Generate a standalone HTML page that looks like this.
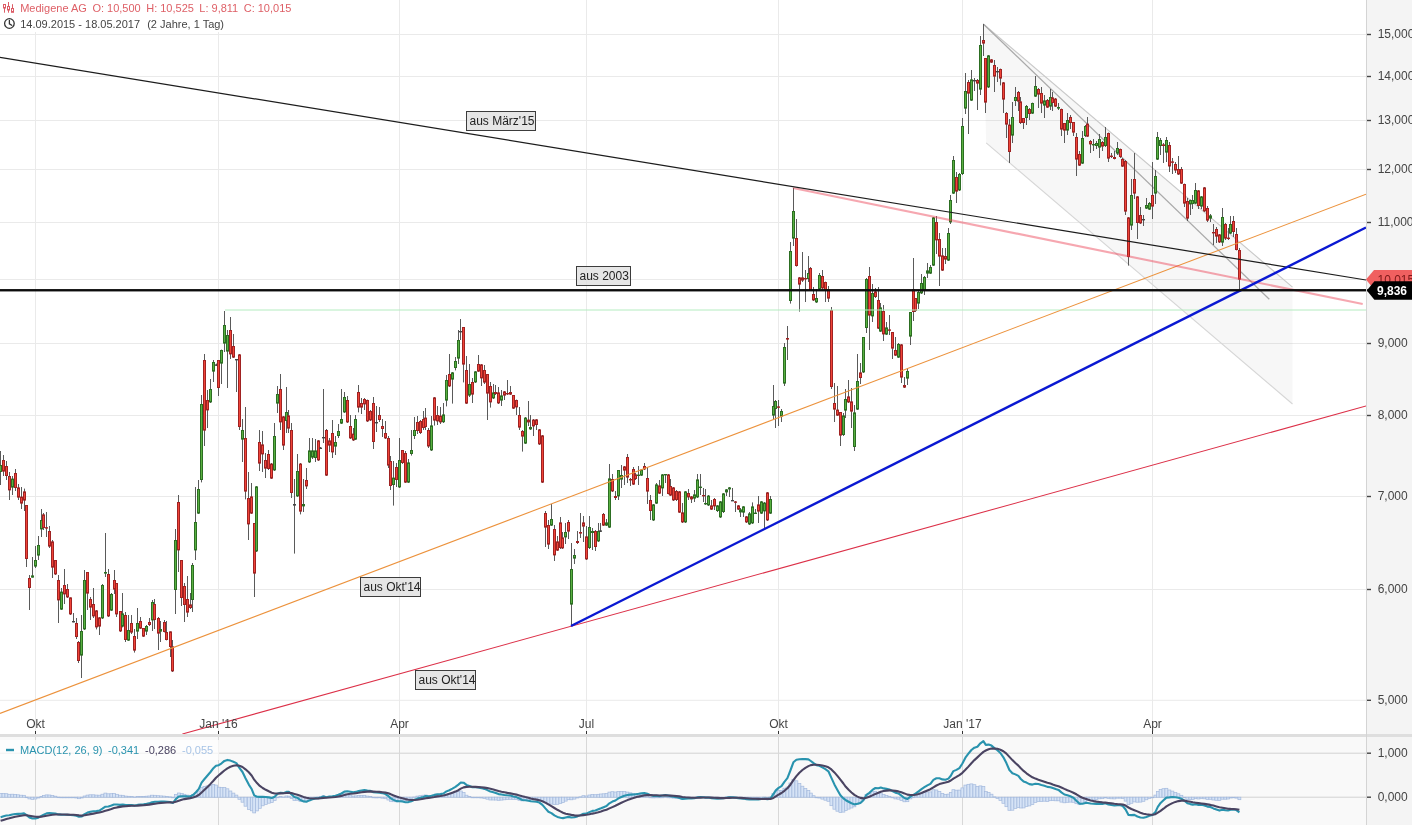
<!DOCTYPE html><html><head><meta charset="utf-8"><title>Chart</title><style>
html,body{margin:0;padding:0;background:#fff;}
body{width:1412px;height:825px;overflow:hidden;position:relative;font-family:"Liberation Sans",sans-serif;}
#wrap{position:absolute;left:0;top:0;width:1412px;height:825px;will-change:transform;}
svg{position:absolute;left:0;top:0;display:block}
text{font-family:"Liberation Sans",sans-serif;}
.t{position:absolute;white-space:nowrap;font-size:11px;line-height:12px;}
.lb{position:absolute;box-sizing:border-box;background:rgba(222,222,222,0.75);border:1px solid #3c3c3c;font-size:12px;line-height:18px;color:#222;padding:0 0 0 2.5px;white-space:nowrap;height:20px;}
</style></head><body><div id="wrap">
<svg width="1412" height="825" viewBox="0 0 1412 825">
<rect x="0" y="0" width="1412" height="825" fill="#fff"/>
<rect x="0" y="737" width="1366" height="88" fill="#f9f9f9"/>
<rect x="1366" y="0" width="46" height="825" fill="#f4f4f4"/>
<line x1="35.5" y1="0" x2="35.5" y2="825" stroke="#eaeaea" stroke-width="1"/>
<line x1="218.5" y1="0" x2="218.5" y2="825" stroke="#eaeaea" stroke-width="1"/>
<line x1="399.5" y1="0" x2="399.5" y2="825" stroke="#eaeaea" stroke-width="1"/>
<line x1="586.5" y1="0" x2="586.5" y2="825" stroke="#eaeaea" stroke-width="1"/>
<line x1="778.5" y1="0" x2="778.5" y2="825" stroke="#eaeaea" stroke-width="1"/>
<line x1="962.5" y1="0" x2="962.5" y2="825" stroke="#eaeaea" stroke-width="1"/>
<line x1="1152.5" y1="0" x2="1152.5" y2="825" stroke="#eaeaea" stroke-width="1"/>
<line x1="0" y1="34.5" x2="1366" y2="34.5" stroke="#eaeaea" stroke-width="1"/>
<line x1="0" y1="76.5" x2="1366" y2="76.5" stroke="#eaeaea" stroke-width="1"/>
<line x1="0" y1="120.5" x2="1366" y2="120.5" stroke="#eaeaea" stroke-width="1"/>
<line x1="0" y1="169.5" x2="1366" y2="169.5" stroke="#eaeaea" stroke-width="1"/>
<line x1="0" y1="222.5" x2="1366" y2="222.5" stroke="#eaeaea" stroke-width="1"/>
<line x1="0" y1="279.5" x2="1366" y2="279.5" stroke="#eaeaea" stroke-width="1"/>
<line x1="0" y1="343.5" x2="1366" y2="343.5" stroke="#eaeaea" stroke-width="1"/>
<line x1="0" y1="415.5" x2="1366" y2="415.5" stroke="#eaeaea" stroke-width="1"/>
<line x1="0" y1="496.5" x2="1366" y2="496.5" stroke="#eaeaea" stroke-width="1"/>
<line x1="0" y1="589.5" x2="1366" y2="589.5" stroke="#eaeaea" stroke-width="1"/>
<line x1="0" y1="700.3" x2="1366" y2="700.3" stroke="#eaeaea" stroke-width="1"/>
<line x1="0" y1="753.2" x2="1366" y2="753.2" stroke="#d2d2d2" stroke-width="1"/>
<line x1="0" y1="797.2" x2="1366" y2="797.2" stroke="#d2d2d2" stroke-width="1"/>
<line x1="35.5" y1="737" x2="35.5" y2="825" stroke="#d8d8d8" stroke-width="1"/>
<line x1="218.5" y1="737" x2="218.5" y2="825" stroke="#d8d8d8" stroke-width="1"/>
<line x1="399.5" y1="737" x2="399.5" y2="825" stroke="#d8d8d8" stroke-width="1"/>
<line x1="586.5" y1="737" x2="586.5" y2="825" stroke="#d8d8d8" stroke-width="1"/>
<line x1="778.5" y1="737" x2="778.5" y2="825" stroke="#d8d8d8" stroke-width="1"/>
<line x1="962.5" y1="737" x2="962.5" y2="825" stroke="#d8d8d8" stroke-width="1"/>
<line x1="1152.5" y1="737" x2="1152.5" y2="825" stroke="#d8d8d8" stroke-width="1"/>
<defs><clipPath id="cm"><rect x="0" y="0" width="1366" height="734"/></clipPath><clipPath id="cd"><rect x="0" y="737" width="1366" height="88"/></clipPath></defs>
<g clip-path="url(#cm)">
<polygon points="983.3,24 1292.5,287.2 1292.5,404 986.2,142.9" fill="#808080" fill-opacity="0.065"/>
<line x1="983.3" y1="24" x2="1292.5" y2="287.2" stroke="#c8c8c8" stroke-width="1.1"/>
<line x1="986.2" y1="142.9" x2="1292.5" y2="404" stroke="#d6d6d6" stroke-width="1.1"/>
<line x1="983.3" y1="24" x2="1269.3" y2="299.2" stroke="#aaaaaa" stroke-width="1.25"/>
<line x1="0.5" y1="451.0" x2="0.5" y2="485.0" stroke="#5a5a5a" stroke-width="1"/>
<rect x="-0.5" y="465.5" width="2" height="6.0" fill="#58b040" stroke="#2c6e22" stroke-width="1"/>
<line x1="3.5" y1="455.0" x2="3.5" y2="476.0" stroke="#5a5a5a" stroke-width="1"/>
<rect x="2.5" y="460.5" width="2" height="10.6" fill="#f04438" stroke="#a02222" stroke-width="1"/>
<line x1="6.5" y1="461.0" x2="6.5" y2="480.0" stroke="#5a5a5a" stroke-width="1"/>
<rect x="5.5" y="466.5" width="2" height="9.0" fill="#f04438" stroke="#a02222" stroke-width="1"/>
<line x1="9.5" y1="472.0" x2="9.5" y2="500.0" stroke="#5a5a5a" stroke-width="1"/>
<rect x="8.5" y="476.5" width="2" height="13.4" fill="#f04438" stroke="#a02222" stroke-width="1"/>
<line x1="12.5" y1="476.0" x2="12.5" y2="495.0" stroke="#5a5a5a" stroke-width="1"/>
<rect x="11.5" y="479.1" width="2" height="8.0" fill="#58b040" stroke="#2c6e22" stroke-width="1"/>
<line x1="15.5" y1="469.0" x2="15.5" y2="491.0" stroke="#5a5a5a" stroke-width="1"/>
<rect x="14.5" y="473.5" width="2" height="14.0" fill="#f04438" stroke="#a02222" stroke-width="1"/>
<line x1="18.5" y1="484.0" x2="18.5" y2="500.0" stroke="#5a5a5a" stroke-width="1"/>
<rect x="17.5" y="487.9" width="2" height="9.2" fill="#f04438" stroke="#a02222" stroke-width="1"/>
<line x1="21.5" y1="487.0" x2="21.5" y2="509.0" stroke="#5a5a5a" stroke-width="1"/>
<rect x="20.5" y="497.1" width="2" height="6.0" fill="#f04438" stroke="#a02222" stroke-width="1"/>
<line x1="24.5" y1="488.6" x2="24.5" y2="511.0" stroke="#5a5a5a" stroke-width="1"/>
<rect x="23.5" y="491.9" width="2" height="8.2" fill="#f04438" stroke="#a02222" stroke-width="1"/>
<line x1="26.5" y1="505.0" x2="26.5" y2="567.0" stroke="#5a5a5a" stroke-width="1"/>
<rect x="25.5" y="505.5" width="2" height="53.0" fill="#f04438" stroke="#a02222" stroke-width="1"/>
<line x1="29.5" y1="575.0" x2="29.5" y2="610.0" stroke="#5a5a5a" stroke-width="1"/>
<rect x="28.5" y="578.5" width="2" height="9.0" fill="#f04438" stroke="#a02222" stroke-width="1"/>
<line x1="32.5" y1="557.0" x2="32.5" y2="577.6" stroke="#5a5a5a" stroke-width="1"/>
<rect x="31.5" y="575.9" width="2" height="1.2" fill="#58b040" stroke="#2c6e22" stroke-width="1"/>
<line x1="35.5" y1="546.0" x2="35.5" y2="568.0" stroke="#5a5a5a" stroke-width="1"/>
<rect x="34.5" y="560.5" width="2" height="5.6" fill="#58b040" stroke="#2c6e22" stroke-width="1"/>
<line x1="38.5" y1="536.0" x2="38.5" y2="560.0" stroke="#5a5a5a" stroke-width="1"/>
<rect x="37.5" y="545.5" width="2" height="9.6" fill="#58b040" stroke="#2c6e22" stroke-width="1"/>
<line x1="41.5" y1="509.0" x2="41.5" y2="537.0" stroke="#5a5a5a" stroke-width="1"/>
<rect x="40.5" y="520.5" width="2" height="8.4" fill="#58b040" stroke="#2c6e22" stroke-width="1"/>
<line x1="43.5" y1="513.0" x2="43.5" y2="530.0" stroke="#5a5a5a" stroke-width="1"/>
<rect x="42.5" y="514.9" width="2" height="12.6" fill="#f04438" stroke="#a02222" stroke-width="1"/>
<line x1="46.5" y1="512.0" x2="46.5" y2="537.0" stroke="#5a5a5a" stroke-width="1"/>
<rect x="45.5" y="527.7" width="2" height="0.4" fill="#f04438" stroke="#a02222" stroke-width="1"/>
<line x1="49.5" y1="526.0" x2="49.5" y2="548.0" stroke="#5a5a5a" stroke-width="1"/>
<rect x="48.5" y="531.5" width="2" height="14.6" fill="#f04438" stroke="#a02222" stroke-width="1"/>
<line x1="52.5" y1="540.0" x2="52.5" y2="578.0" stroke="#5a5a5a" stroke-width="1"/>
<rect x="51.5" y="541.9" width="2" height="25.2" fill="#f04438" stroke="#a02222" stroke-width="1"/>
<line x1="55.5" y1="560.0" x2="55.5" y2="575.0" stroke="#5a5a5a" stroke-width="1"/>
<rect x="54.5" y="560.5" width="2" height="13.4" fill="#f04438" stroke="#a02222" stroke-width="1"/>
<line x1="58.5" y1="575.0" x2="58.5" y2="623.0" stroke="#5a5a5a" stroke-width="1"/>
<rect x="57.5" y="580.5" width="2" height="19.4" fill="#f04438" stroke="#a02222" stroke-width="1"/>
<line x1="61.5" y1="588.0" x2="61.5" y2="610.0" stroke="#5a5a5a" stroke-width="1"/>
<rect x="60.5" y="592.1" width="2" height="17.0" fill="#58b040" stroke="#2c6e22" stroke-width="1"/>
<line x1="64.5" y1="569.0" x2="64.5" y2="604.0" stroke="#5a5a5a" stroke-width="1"/>
<rect x="63.5" y="585.5" width="2" height="8.4" fill="#f04438" stroke="#a02222" stroke-width="1"/>
<line x1="67.5" y1="584.0" x2="67.5" y2="598.0" stroke="#5a5a5a" stroke-width="1"/>
<rect x="66.5" y="589.5" width="2" height="7.4" fill="#f04438" stroke="#a02222" stroke-width="1"/>
<line x1="70.5" y1="597.4" x2="70.5" y2="615.0" stroke="#5a5a5a" stroke-width="1"/>
<rect x="69.5" y="597.9" width="2" height="16.0" fill="#f04438" stroke="#a02222" stroke-width="1"/>
<line x1="73.5" y1="613.0" x2="73.5" y2="622.4" stroke="#5a5a5a" stroke-width="1"/>
<rect x="72.5" y="621.5" width="2" height="0.4" fill="#555" stroke="#444" stroke-width="1"/>
<line x1="76.5" y1="618.0" x2="76.5" y2="639.0" stroke="#5a5a5a" stroke-width="1"/>
<rect x="75.5" y="623.5" width="2" height="13.0" fill="#f04438" stroke="#a02222" stroke-width="1"/>
<line x1="78.5" y1="641.0" x2="78.5" y2="663.0" stroke="#5a5a5a" stroke-width="1"/>
<rect x="77.5" y="642.5" width="2" height="18.0" fill="#f04438" stroke="#a02222" stroke-width="1"/>
<line x1="81.5" y1="615.0" x2="81.5" y2="678.0" stroke="#5a5a5a" stroke-width="1"/>
<rect x="80.5" y="631.5" width="2" height="23.6" fill="#58b040" stroke="#2c6e22" stroke-width="1"/>
<line x1="84.5" y1="570.0" x2="84.5" y2="630.0" stroke="#5a5a5a" stroke-width="1"/>
<rect x="83.5" y="580.5" width="2" height="48.4" fill="#58b040" stroke="#2c6e22" stroke-width="1"/>
<line x1="87.5" y1="572.0" x2="87.5" y2="610.0" stroke="#5a5a5a" stroke-width="1"/>
<rect x="86.5" y="572.5" width="2" height="20.6" fill="#f04438" stroke="#a02222" stroke-width="1"/>
<line x1="90.5" y1="597.0" x2="90.5" y2="620.0" stroke="#5a5a5a" stroke-width="1"/>
<rect x="89.5" y="599.5" width="2" height="7.6" fill="#f04438" stroke="#a02222" stroke-width="1"/>
<line x1="93.5" y1="588.0" x2="93.5" y2="618.0" stroke="#5a5a5a" stroke-width="1"/>
<rect x="92.5" y="604.5" width="2" height="11.4" fill="#f04438" stroke="#a02222" stroke-width="1"/>
<line x1="96.5" y1="610.0" x2="96.5" y2="629.4" stroke="#5a5a5a" stroke-width="1"/>
<rect x="95.5" y="610.9" width="2" height="16.0" fill="#f04438" stroke="#a02222" stroke-width="1"/>
<line x1="99.5" y1="617.0" x2="99.5" y2="635.0" stroke="#5a5a5a" stroke-width="1"/>
<rect x="98.5" y="617.9" width="2" height="8.2" fill="#f04438" stroke="#a02222" stroke-width="1"/>
<line x1="102.5" y1="584.0" x2="102.5" y2="619.0" stroke="#5a5a5a" stroke-width="1"/>
<rect x="101.5" y="585.5" width="2" height="32.4" fill="#58b040" stroke="#2c6e22" stroke-width="1"/>
<line x1="105.5" y1="533.0" x2="105.5" y2="577.0" stroke="#5a5a5a" stroke-width="1"/>
<rect x="104.5" y="572.5" width="2" height="0.6" fill="#58b040" stroke="#2c6e22" stroke-width="1"/>
<line x1="108.5" y1="569.0" x2="108.5" y2="617.0" stroke="#5a5a5a" stroke-width="1"/>
<rect x="107.5" y="574.5" width="2" height="41.4" fill="#f04438" stroke="#a02222" stroke-width="1"/>
<line x1="111.5" y1="593.0" x2="111.5" y2="611.0" stroke="#5a5a5a" stroke-width="1"/>
<rect x="110.5" y="594.5" width="2" height="15.6" fill="#58b040" stroke="#2c6e22" stroke-width="1"/>
<line x1="114.5" y1="570.0" x2="114.5" y2="594.0" stroke="#5a5a5a" stroke-width="1"/>
<rect x="113.5" y="580.5" width="2" height="8.6" fill="#f04438" stroke="#a02222" stroke-width="1"/>
<line x1="116.5" y1="583.0" x2="116.5" y2="617.0" stroke="#5a5a5a" stroke-width="1"/>
<rect x="115.5" y="583.5" width="2" height="30.4" fill="#f04438" stroke="#a02222" stroke-width="1"/>
<line x1="120.5" y1="611.0" x2="120.5" y2="632.0" stroke="#5a5a5a" stroke-width="1"/>
<rect x="119.5" y="611.5" width="2" height="19.4" fill="#f04438" stroke="#a02222" stroke-width="1"/>
<line x1="122.5" y1="593.0" x2="122.5" y2="627.4" stroke="#5a5a5a" stroke-width="1"/>
<rect x="121.5" y="613.9" width="2" height="12.2" fill="#58b040" stroke="#2c6e22" stroke-width="1"/>
<line x1="125.5" y1="612.0" x2="125.5" y2="642.0" stroke="#5a5a5a" stroke-width="1"/>
<rect x="124.5" y="615.5" width="2" height="24.0" fill="#f04438" stroke="#a02222" stroke-width="1"/>
<line x1="128.5" y1="615.0" x2="128.5" y2="641.0" stroke="#5a5a5a" stroke-width="1"/>
<rect x="127.5" y="630.5" width="2" height="9.6" fill="#58b040" stroke="#2c6e22" stroke-width="1"/>
<line x1="131.5" y1="615.0" x2="131.5" y2="634.0" stroke="#5a5a5a" stroke-width="1"/>
<rect x="130.5" y="623.5" width="2" height="8.6" fill="#f04438" stroke="#a02222" stroke-width="1"/>
<line x1="134.5" y1="629.0" x2="134.5" y2="652.6" stroke="#5a5a5a" stroke-width="1"/>
<rect x="133.5" y="636.5" width="2" height="13.6" fill="#f04438" stroke="#a02222" stroke-width="1"/>
<line x1="137.5" y1="608.0" x2="137.5" y2="639.0" stroke="#5a5a5a" stroke-width="1"/>
<rect x="136.5" y="623.5" width="2" height="7.6" fill="#58b040" stroke="#2c6e22" stroke-width="1"/>
<line x1="140.5" y1="617.0" x2="140.5" y2="629.0" stroke="#5a5a5a" stroke-width="1"/>
<rect x="139.5" y="621.5" width="2" height="6.6" fill="#f04438" stroke="#a02222" stroke-width="1"/>
<line x1="143.5" y1="628.0" x2="143.5" y2="637.0" stroke="#5a5a5a" stroke-width="1"/>
<rect x="142.5" y="628.5" width="2" height="7.6" fill="#f04438" stroke="#a02222" stroke-width="1"/>
<line x1="146.5" y1="625.0" x2="146.5" y2="635.0" stroke="#5a5a5a" stroke-width="1"/>
<rect x="145.5" y="626.5" width="2" height="4.6" fill="#58b040" stroke="#2c6e22" stroke-width="1"/>
<line x1="149.5" y1="618.0" x2="149.5" y2="626.0" stroke="#5a5a5a" stroke-width="1"/>
<rect x="148.5" y="622.5" width="2" height="2.0" fill="#f04438" stroke="#a02222" stroke-width="1"/>
<line x1="152.5" y1="600.0" x2="152.5" y2="631.0" stroke="#5a5a5a" stroke-width="1"/>
<rect x="151.5" y="602.5" width="2" height="17.4" fill="#58b040" stroke="#2c6e22" stroke-width="1"/>
<line x1="154.5" y1="599.0" x2="154.5" y2="629.0" stroke="#5a5a5a" stroke-width="1"/>
<rect x="153.5" y="604.5" width="2" height="15.0" fill="#f04438" stroke="#a02222" stroke-width="1"/>
<line x1="158.5" y1="617.0" x2="158.5" y2="650.0" stroke="#5a5a5a" stroke-width="1"/>
<rect x="157.5" y="618.5" width="2" height="14.6" fill="#f04438" stroke="#a02222" stroke-width="1"/>
<line x1="160.5" y1="621.0" x2="160.5" y2="642.0" stroke="#5a5a5a" stroke-width="1"/>
<rect x="159.5" y="629.5" width="2" height="1.6" fill="#58b040" stroke="#2c6e22" stroke-width="1"/>
<line x1="164.5" y1="620.0" x2="164.5" y2="632.4" stroke="#5a5a5a" stroke-width="1"/>
<rect x="163.5" y="622.5" width="2" height="9.0" fill="#f04438" stroke="#a02222" stroke-width="1"/>
<line x1="166.5" y1="621.0" x2="166.5" y2="640.4" stroke="#5a5a5a" stroke-width="1"/>
<rect x="165.5" y="632.5" width="2" height="7.0" fill="#f04438" stroke="#a02222" stroke-width="1"/>
<line x1="170.5" y1="631.4" x2="170.5" y2="657.0" stroke="#5a5a5a" stroke-width="1"/>
<rect x="169.5" y="631.9" width="2" height="14.6" fill="#f04438" stroke="#a02222" stroke-width="1"/>
<line x1="172.5" y1="640.0" x2="172.5" y2="672.0" stroke="#5a5a5a" stroke-width="1"/>
<rect x="171.5" y="646.9" width="2" height="24.0" fill="#f04438" stroke="#a02222" stroke-width="1"/>
<line x1="175.5" y1="529.0" x2="175.5" y2="614.0" stroke="#5a5a5a" stroke-width="1"/>
<rect x="174.5" y="540.5" width="2" height="49.0" fill="#58b040" stroke="#2c6e22" stroke-width="1"/>
<line x1="178.5" y1="495.0" x2="178.5" y2="572.0" stroke="#5a5a5a" stroke-width="1"/>
<rect x="177.5" y="502.5" width="2" height="47.4" fill="#f04438" stroke="#a02222" stroke-width="1"/>
<line x1="181.5" y1="560.0" x2="181.5" y2="606.0" stroke="#5a5a5a" stroke-width="1"/>
<rect x="180.5" y="560.5" width="2" height="37.0" fill="#f04438" stroke="#a02222" stroke-width="1"/>
<line x1="184.5" y1="583.0" x2="184.5" y2="622.0" stroke="#5a5a5a" stroke-width="1"/>
<rect x="183.5" y="586.5" width="2" height="18.0" fill="#f04438" stroke="#a02222" stroke-width="1"/>
<line x1="187.5" y1="576.0" x2="187.5" y2="617.0" stroke="#5a5a5a" stroke-width="1"/>
<rect x="186.5" y="599.5" width="2" height="12.6" fill="#f04438" stroke="#a02222" stroke-width="1"/>
<line x1="190.5" y1="593.0" x2="190.5" y2="609.0" stroke="#5a5a5a" stroke-width="1"/>
<rect x="189.5" y="604.9" width="2" height="2.6" fill="#f04438" stroke="#a02222" stroke-width="1"/>
<line x1="192.5" y1="563.0" x2="192.5" y2="612.0" stroke="#5a5a5a" stroke-width="1"/>
<rect x="191.5" y="565.5" width="2" height="34.0" fill="#58b040" stroke="#2c6e22" stroke-width="1"/>
<line x1="195.5" y1="487.0" x2="195.5" y2="560.0" stroke="#5a5a5a" stroke-width="1"/>
<rect x="194.5" y="522.5" width="2" height="27.4" fill="#58b040" stroke="#2c6e22" stroke-width="1"/>
<line x1="198.5" y1="480.0" x2="198.5" y2="514.0" stroke="#5a5a5a" stroke-width="1"/>
<rect x="197.5" y="489.5" width="2" height="23.6" fill="#58b040" stroke="#2c6e22" stroke-width="1"/>
<line x1="201.5" y1="395.0" x2="201.5" y2="482.4" stroke="#5a5a5a" stroke-width="1"/>
<rect x="200.5" y="404.5" width="2" height="75.0" fill="#58b040" stroke="#2c6e22" stroke-width="1"/>
<line x1="204.5" y1="354.0" x2="204.5" y2="446.0" stroke="#5a5a5a" stroke-width="1"/>
<rect x="203.5" y="360.5" width="2" height="69.6" fill="#f04438" stroke="#a02222" stroke-width="1"/>
<line x1="207.5" y1="390.0" x2="207.5" y2="428.0" stroke="#5a5a5a" stroke-width="1"/>
<rect x="206.5" y="400.5" width="2" height="9.4" fill="#f04438" stroke="#a02222" stroke-width="1"/>
<line x1="210.5" y1="379.0" x2="210.5" y2="403.0" stroke="#5a5a5a" stroke-width="1"/>
<rect x="209.5" y="389.5" width="2" height="12.4" fill="#58b040" stroke="#2c6e22" stroke-width="1"/>
<line x1="213.5" y1="360.0" x2="213.5" y2="382.0" stroke="#5a5a5a" stroke-width="1"/>
<rect x="212.5" y="362.5" width="2" height="8.6" fill="#58b040" stroke="#2c6e22" stroke-width="1"/>
<line x1="216.5" y1="363.6" x2="216.5" y2="366.0" stroke="#5a5a5a" stroke-width="1"/>
<rect x="215.5" y="364.9" width="2" height="0.4" fill="#555" stroke="#444" stroke-width="1"/>
<line x1="218.5" y1="360.0" x2="218.5" y2="396.0" stroke="#5a5a5a" stroke-width="1"/>
<rect x="217.5" y="360.5" width="2" height="27.0" fill="#f04438" stroke="#a02222" stroke-width="1"/>
<line x1="221.5" y1="349.6" x2="221.5" y2="384.0" stroke="#5a5a5a" stroke-width="1"/>
<rect x="220.5" y="350.5" width="2" height="12.6" fill="#58b040" stroke="#2c6e22" stroke-width="1"/>
<line x1="224.5" y1="311.0" x2="224.5" y2="352.0" stroke="#5a5a5a" stroke-width="1"/>
<rect x="223.5" y="325.5" width="2" height="17.6" fill="#58b040" stroke="#2c6e22" stroke-width="1"/>
<line x1="227.5" y1="330.0" x2="227.5" y2="388.0" stroke="#5a5a5a" stroke-width="1"/>
<rect x="226.5" y="335.5" width="2" height="15.6" fill="#58b040" stroke="#2c6e22" stroke-width="1"/>
<line x1="230.5" y1="317.0" x2="230.5" y2="359.0" stroke="#5a5a5a" stroke-width="1"/>
<rect x="229.5" y="330.5" width="2" height="23.4" fill="#f04438" stroke="#a02222" stroke-width="1"/>
<line x1="233.5" y1="334.0" x2="233.5" y2="358.0" stroke="#5a5a5a" stroke-width="1"/>
<rect x="232.5" y="346.5" width="2" height="10.6" fill="#f04438" stroke="#a02222" stroke-width="1"/>
<line x1="236.5" y1="359.0" x2="236.5" y2="392.0" stroke="#5a5a5a" stroke-width="1"/>
<rect x="235.5" y="359.5" width="2" height="0.4" fill="#555" stroke="#444" stroke-width="1"/>
<line x1="239.5" y1="354.0" x2="239.5" y2="430.0" stroke="#5a5a5a" stroke-width="1"/>
<rect x="238.5" y="354.9" width="2" height="71.6" fill="#f04438" stroke="#a02222" stroke-width="1"/>
<line x1="242.5" y1="419.0" x2="242.5" y2="462.0" stroke="#5a5a5a" stroke-width="1"/>
<rect x="241.5" y="430.5" width="2" height="8.6" fill="#58b040" stroke="#2c6e22" stroke-width="1"/>
<line x1="245.5" y1="407.0" x2="245.5" y2="499.4" stroke="#5a5a5a" stroke-width="1"/>
<rect x="244.5" y="438.5" width="2" height="52.6" fill="#f04438" stroke="#a02222" stroke-width="1"/>
<line x1="248.5" y1="472.0" x2="248.5" y2="540.0" stroke="#5a5a5a" stroke-width="1"/>
<rect x="247.5" y="498.5" width="2" height="25.4" fill="#f04438" stroke="#a02222" stroke-width="1"/>
<line x1="251.5" y1="483.0" x2="251.5" y2="514.0" stroke="#5a5a5a" stroke-width="1"/>
<rect x="250.5" y="496.9" width="2" height="16.2" fill="#f04438" stroke="#a02222" stroke-width="1"/>
<line x1="254.5" y1="523.0" x2="254.5" y2="597.0" stroke="#5a5a5a" stroke-width="1"/>
<rect x="253.5" y="523.5" width="2" height="49.6" fill="#f04438" stroke="#a02222" stroke-width="1"/>
<line x1="256.5" y1="486.0" x2="256.5" y2="552.0" stroke="#5a5a5a" stroke-width="1"/>
<rect x="255.5" y="486.9" width="2" height="64.0" fill="#58b040" stroke="#2c6e22" stroke-width="1"/>
<line x1="259.5" y1="430.0" x2="259.5" y2="471.0" stroke="#5a5a5a" stroke-width="1"/>
<rect x="258.5" y="442.5" width="2" height="20.6" fill="#f04438" stroke="#a02222" stroke-width="1"/>
<line x1="262.5" y1="431.0" x2="262.5" y2="472.0" stroke="#5a5a5a" stroke-width="1"/>
<rect x="261.5" y="444.9" width="2" height="9.0" fill="#f04438" stroke="#a02222" stroke-width="1"/>
<line x1="265.5" y1="453.0" x2="265.5" y2="478.0" stroke="#5a5a5a" stroke-width="1"/>
<rect x="264.5" y="460.5" width="2" height="7.6" fill="#f04438" stroke="#a02222" stroke-width="1"/>
<line x1="268.5" y1="450.0" x2="268.5" y2="470.0" stroke="#5a5a5a" stroke-width="1"/>
<rect x="267.5" y="454.5" width="2" height="14.0" fill="#f04438" stroke="#a02222" stroke-width="1"/>
<line x1="271.5" y1="463.0" x2="271.5" y2="479.0" stroke="#5a5a5a" stroke-width="1"/>
<rect x="270.5" y="464.1" width="2" height="14.0" fill="#f04438" stroke="#a02222" stroke-width="1"/>
<line x1="274.5" y1="423.0" x2="274.5" y2="471.0" stroke="#5a5a5a" stroke-width="1"/>
<rect x="273.5" y="436.5" width="2" height="33.4" fill="#58b040" stroke="#2c6e22" stroke-width="1"/>
<line x1="277.5" y1="386.0" x2="277.5" y2="413.0" stroke="#5a5a5a" stroke-width="1"/>
<rect x="276.5" y="394.5" width="2" height="8.6" fill="#58b040" stroke="#2c6e22" stroke-width="1"/>
<line x1="280.5" y1="374.0" x2="280.5" y2="430.0" stroke="#5a5a5a" stroke-width="1"/>
<rect x="279.5" y="389.5" width="2" height="32.4" fill="#f04438" stroke="#a02222" stroke-width="1"/>
<line x1="283.5" y1="416.0" x2="283.5" y2="450.0" stroke="#5a5a5a" stroke-width="1"/>
<rect x="282.5" y="416.9" width="2" height="28.2" fill="#f04438" stroke="#a02222" stroke-width="1"/>
<line x1="286.5" y1="387.0" x2="286.5" y2="433.0" stroke="#5a5a5a" stroke-width="1"/>
<rect x="285.5" y="412.5" width="2" height="8.0" fill="#58b040" stroke="#2c6e22" stroke-width="1"/>
<line x1="288.5" y1="410.0" x2="288.5" y2="433.0" stroke="#5a5a5a" stroke-width="1"/>
<rect x="287.5" y="415.9" width="2" height="12.2" fill="#f04438" stroke="#a02222" stroke-width="1"/>
<line x1="291.5" y1="423.0" x2="291.5" y2="498.0" stroke="#5a5a5a" stroke-width="1"/>
<rect x="290.5" y="430.5" width="2" height="62.0" fill="#f04438" stroke="#a02222" stroke-width="1"/>
<line x1="294.5" y1="479.0" x2="294.5" y2="553.6" stroke="#5a5a5a" stroke-width="1"/>
<rect x="293.5" y="504.5" width="2" height="0.6" fill="#555" stroke="#444" stroke-width="1"/>
<line x1="297.5" y1="454.0" x2="297.5" y2="497.0" stroke="#5a5a5a" stroke-width="1"/>
<rect x="296.5" y="471.5" width="2" height="24.4" fill="#58b040" stroke="#2c6e22" stroke-width="1"/>
<line x1="300.5" y1="463.0" x2="300.5" y2="514.4" stroke="#5a5a5a" stroke-width="1"/>
<rect x="299.5" y="464.1" width="2" height="47.0" fill="#f04438" stroke="#a02222" stroke-width="1"/>
<line x1="303.5" y1="479.0" x2="303.5" y2="512.0" stroke="#5a5a5a" stroke-width="1"/>
<rect x="302.5" y="504.5" width="2" height="1.4" fill="#58b040" stroke="#2c6e22" stroke-width="1"/>
<line x1="306.5" y1="468.0" x2="306.5" y2="489.0" stroke="#5a5a5a" stroke-width="1"/>
<rect x="305.5" y="480.5" width="2" height="5.4" fill="#f04438" stroke="#a02222" stroke-width="1"/>
<line x1="309.5" y1="438.0" x2="309.5" y2="463.0" stroke="#5a5a5a" stroke-width="1"/>
<rect x="308.5" y="450.9" width="2" height="11.0" fill="#58b040" stroke="#2c6e22" stroke-width="1"/>
<line x1="312.5" y1="438.0" x2="312.5" y2="459.0" stroke="#5a5a5a" stroke-width="1"/>
<rect x="311.5" y="450.9" width="2" height="6.2" fill="#58b040" stroke="#2c6e22" stroke-width="1"/>
<line x1="315.5" y1="439.0" x2="315.5" y2="462.0" stroke="#5a5a5a" stroke-width="1"/>
<rect x="314.5" y="450.9" width="2" height="6.6" fill="#58b040" stroke="#2c6e22" stroke-width="1"/>
<line x1="318.5" y1="440.0" x2="318.5" y2="461.0" stroke="#5a5a5a" stroke-width="1"/>
<rect x="317.5" y="440.9" width="2" height="19.0" fill="#f04438" stroke="#a02222" stroke-width="1"/>
<line x1="320.5" y1="447.0" x2="320.5" y2="449.0" stroke="#5a5a5a" stroke-width="1"/>
<rect x="319.5" y="448.1" width="2" height="0.4" fill="#555" stroke="#444" stroke-width="1"/>
<line x1="323.5" y1="389.0" x2="323.5" y2="443.0" stroke="#5a5a5a" stroke-width="1"/>
<rect x="322.5" y="437.5" width="2" height="0.4" fill="#555" stroke="#444" stroke-width="1"/>
<line x1="326.5" y1="429.0" x2="326.5" y2="476.0" stroke="#5a5a5a" stroke-width="1"/>
<rect x="325.5" y="430.5" width="2" height="44.6" fill="#f04438" stroke="#a02222" stroke-width="1"/>
<line x1="329.5" y1="438.0" x2="329.5" y2="452.0" stroke="#5a5a5a" stroke-width="1"/>
<rect x="328.5" y="440.9" width="2" height="4.2" fill="#f04438" stroke="#a02222" stroke-width="1"/>
<line x1="332.5" y1="420.0" x2="332.5" y2="458.0" stroke="#5a5a5a" stroke-width="1"/>
<rect x="331.5" y="433.5" width="2" height="18.4" fill="#f04438" stroke="#a02222" stroke-width="1"/>
<line x1="335.5" y1="436.0" x2="335.5" y2="455.0" stroke="#5a5a5a" stroke-width="1"/>
<rect x="334.5" y="442.5" width="2" height="3.6" fill="#58b040" stroke="#2c6e22" stroke-width="1"/>
<line x1="338.5" y1="424.0" x2="338.5" y2="438.0" stroke="#5a5a5a" stroke-width="1"/>
<rect x="337.5" y="431.5" width="2" height="4.0" fill="#58b040" stroke="#2c6e22" stroke-width="1"/>
<line x1="341.5" y1="389.0" x2="341.5" y2="424.0" stroke="#5a5a5a" stroke-width="1"/>
<rect x="340.5" y="419.5" width="2" height="3.6" fill="#58b040" stroke="#2c6e22" stroke-width="1"/>
<line x1="344.5" y1="392.0" x2="344.5" y2="413.0" stroke="#5a5a5a" stroke-width="1"/>
<rect x="343.5" y="397.5" width="2" height="14.4" fill="#58b040" stroke="#2c6e22" stroke-width="1"/>
<line x1="347.5" y1="396.0" x2="347.5" y2="423.0" stroke="#5a5a5a" stroke-width="1"/>
<rect x="346.5" y="400.5" width="2" height="21.4" fill="#f04438" stroke="#a02222" stroke-width="1"/>
<line x1="350.5" y1="415.0" x2="350.5" y2="439.0" stroke="#5a5a5a" stroke-width="1"/>
<rect x="349.5" y="426.5" width="2" height="11.4" fill="#f04438" stroke="#a02222" stroke-width="1"/>
<line x1="353.5" y1="428.0" x2="353.5" y2="441.0" stroke="#5a5a5a" stroke-width="1"/>
<rect x="352.5" y="434.1" width="2" height="5.8" fill="#f04438" stroke="#a02222" stroke-width="1"/>
<line x1="355.5" y1="415.0" x2="355.5" y2="440.0" stroke="#5a5a5a" stroke-width="1"/>
<rect x="354.5" y="419.5" width="2" height="19.6" fill="#58b040" stroke="#2c6e22" stroke-width="1"/>
<line x1="358.5" y1="385.0" x2="358.5" y2="412.4" stroke="#5a5a5a" stroke-width="1"/>
<rect x="357.5" y="392.5" width="2" height="14.6" fill="#f04438" stroke="#a02222" stroke-width="1"/>
<line x1="361.5" y1="398.0" x2="361.5" y2="414.0" stroke="#5a5a5a" stroke-width="1"/>
<rect x="360.5" y="403.5" width="2" height="3.6" fill="#f04438" stroke="#a02222" stroke-width="1"/>
<line x1="364.5" y1="398.0" x2="364.5" y2="410.0" stroke="#5a5a5a" stroke-width="1"/>
<rect x="363.5" y="399.5" width="2" height="4.4" fill="#f04438" stroke="#a02222" stroke-width="1"/>
<line x1="367.5" y1="399.6" x2="367.5" y2="422.0" stroke="#5a5a5a" stroke-width="1"/>
<rect x="366.5" y="400.5" width="2" height="20.4" fill="#f04438" stroke="#a02222" stroke-width="1"/>
<line x1="370.5" y1="410.0" x2="370.5" y2="421.0" stroke="#5a5a5a" stroke-width="1"/>
<rect x="369.5" y="411.5" width="2" height="8.4" fill="#f04438" stroke="#a02222" stroke-width="1"/>
<line x1="373.5" y1="397.0" x2="373.5" y2="449.0" stroke="#5a5a5a" stroke-width="1"/>
<rect x="372.5" y="403.5" width="2" height="38.0" fill="#f04438" stroke="#a02222" stroke-width="1"/>
<line x1="376.5" y1="406.0" x2="376.5" y2="432.0" stroke="#5a5a5a" stroke-width="1"/>
<rect x="375.5" y="422.5" width="2" height="0.4" fill="#555" stroke="#444" stroke-width="1"/>
<line x1="379.5" y1="407.0" x2="379.5" y2="422.0" stroke="#5a5a5a" stroke-width="1"/>
<rect x="378.5" y="415.5" width="2" height="4.0" fill="#f04438" stroke="#a02222" stroke-width="1"/>
<line x1="382.5" y1="419.0" x2="382.5" y2="437.0" stroke="#5a5a5a" stroke-width="1"/>
<rect x="381.5" y="426.5" width="2" height="2.0" fill="#f04438" stroke="#a02222" stroke-width="1"/>
<line x1="385.5" y1="421.0" x2="385.5" y2="439.0" stroke="#5a5a5a" stroke-width="1"/>
<rect x="384.5" y="433.5" width="2" height="4.4" fill="#f04438" stroke="#a02222" stroke-width="1"/>
<line x1="388.5" y1="436.0" x2="388.5" y2="468.0" stroke="#5a5a5a" stroke-width="1"/>
<rect x="387.5" y="438.5" width="2" height="26.6" fill="#f04438" stroke="#a02222" stroke-width="1"/>
<line x1="390.5" y1="456.0" x2="390.5" y2="490.0" stroke="#5a5a5a" stroke-width="1"/>
<rect x="389.5" y="461.5" width="2" height="24.0" fill="#f04438" stroke="#a02222" stroke-width="1"/>
<line x1="393.5" y1="461.0" x2="393.5" y2="505.6" stroke="#5a5a5a" stroke-width="1"/>
<rect x="392.5" y="478.1" width="2" height="6.4" fill="#58b040" stroke="#2c6e22" stroke-width="1"/>
<line x1="396.5" y1="463.0" x2="396.5" y2="487.0" stroke="#5a5a5a" stroke-width="1"/>
<rect x="395.5" y="467.5" width="2" height="12.0" fill="#f04438" stroke="#a02222" stroke-width="1"/>
<line x1="399.5" y1="438.0" x2="399.5" y2="488.0" stroke="#5a5a5a" stroke-width="1"/>
<rect x="398.5" y="460.5" width="2" height="26.4" fill="#58b040" stroke="#2c6e22" stroke-width="1"/>
<line x1="402.5" y1="450.0" x2="402.5" y2="464.0" stroke="#5a5a5a" stroke-width="1"/>
<rect x="401.5" y="450.5" width="2" height="12.0" fill="#f04438" stroke="#a02222" stroke-width="1"/>
<line x1="405.5" y1="451.0" x2="405.5" y2="483.0" stroke="#5a5a5a" stroke-width="1"/>
<rect x="404.5" y="453.5" width="2" height="28.6" fill="#f04438" stroke="#a02222" stroke-width="1"/>
<line x1="408.5" y1="459.0" x2="408.5" y2="483.0" stroke="#5a5a5a" stroke-width="1"/>
<rect x="407.5" y="462.9" width="2" height="19.2" fill="#58b040" stroke="#2c6e22" stroke-width="1"/>
<line x1="411.5" y1="430.0" x2="411.5" y2="455.6" stroke="#5a5a5a" stroke-width="1"/>
<rect x="410.5" y="450.5" width="2" height="3.0" fill="#58b040" stroke="#2c6e22" stroke-width="1"/>
<line x1="414.5" y1="417.0" x2="414.5" y2="439.0" stroke="#5a5a5a" stroke-width="1"/>
<rect x="413.5" y="430.5" width="2" height="5.0" fill="#58b040" stroke="#2c6e22" stroke-width="1"/>
<line x1="417.5" y1="416.0" x2="417.5" y2="434.0" stroke="#5a5a5a" stroke-width="1"/>
<rect x="416.5" y="422.5" width="2" height="8.0" fill="#f04438" stroke="#a02222" stroke-width="1"/>
<line x1="420.5" y1="420.0" x2="420.5" y2="434.0" stroke="#5a5a5a" stroke-width="1"/>
<rect x="419.5" y="421.5" width="2" height="11.0" fill="#f04438" stroke="#a02222" stroke-width="1"/>
<line x1="423.5" y1="411.0" x2="423.5" y2="430.0" stroke="#5a5a5a" stroke-width="1"/>
<rect x="422.5" y="419.5" width="2" height="8.0" fill="#f04438" stroke="#a02222" stroke-width="1"/>
<line x1="425.5" y1="408.0" x2="425.5" y2="430.0" stroke="#5a5a5a" stroke-width="1"/>
<rect x="424.5" y="418.1" width="2" height="8.4" fill="#f04438" stroke="#a02222" stroke-width="1"/>
<line x1="428.5" y1="428.0" x2="428.5" y2="448.0" stroke="#5a5a5a" stroke-width="1"/>
<rect x="427.5" y="430.5" width="2" height="15.5" fill="#f04438" stroke="#a02222" stroke-width="1"/>
<line x1="431.5" y1="416.0" x2="431.5" y2="451.0" stroke="#5a5a5a" stroke-width="1"/>
<rect x="430.5" y="425.9" width="2" height="24.0" fill="#58b040" stroke="#2c6e22" stroke-width="1"/>
<line x1="434.5" y1="397.0" x2="434.5" y2="425.6" stroke="#5a5a5a" stroke-width="1"/>
<rect x="433.5" y="397.9" width="2" height="22.2" fill="#f04438" stroke="#a02222" stroke-width="1"/>
<line x1="437.5" y1="406.0" x2="437.5" y2="425.0" stroke="#5a5a5a" stroke-width="1"/>
<rect x="436.5" y="415.5" width="2" height="5.4" fill="#f04438" stroke="#a02222" stroke-width="1"/>
<line x1="440.5" y1="407.0" x2="440.5" y2="424.0" stroke="#5a5a5a" stroke-width="1"/>
<rect x="439.5" y="416.1" width="2" height="5.8" fill="#f04438" stroke="#a02222" stroke-width="1"/>
<line x1="443.5" y1="403.0" x2="443.5" y2="423.0" stroke="#5a5a5a" stroke-width="1"/>
<rect x="442.5" y="414.9" width="2" height="6.8" fill="#58b040" stroke="#2c6e22" stroke-width="1"/>
<line x1="446.5" y1="375.0" x2="446.5" y2="406.4" stroke="#5a5a5a" stroke-width="1"/>
<rect x="445.5" y="380.5" width="2" height="19.6" fill="#58b040" stroke="#2c6e22" stroke-width="1"/>
<line x1="449.5" y1="354.0" x2="449.5" y2="387.0" stroke="#5a5a5a" stroke-width="1"/>
<rect x="448.5" y="374.5" width="2" height="11.4" fill="#f04438" stroke="#a02222" stroke-width="1"/>
<line x1="452.5" y1="372.0" x2="452.5" y2="403.6" stroke="#5a5a5a" stroke-width="1"/>
<rect x="451.5" y="372.9" width="2" height="6.2" fill="#58b040" stroke="#2c6e22" stroke-width="1"/>
<line x1="455.5" y1="357.0" x2="455.5" y2="370.4" stroke="#5a5a5a" stroke-width="1"/>
<rect x="454.5" y="361.5" width="2" height="6.0" fill="#58b040" stroke="#2c6e22" stroke-width="1"/>
<line x1="458.5" y1="330.0" x2="458.5" y2="364.0" stroke="#5a5a5a" stroke-width="1"/>
<rect x="457.5" y="340.5" width="2" height="17.6" fill="#58b040" stroke="#2c6e22" stroke-width="1"/>
<line x1="460.5" y1="319.0" x2="460.5" y2="340.0" stroke="#5a5a5a" stroke-width="1"/>
<rect x="459.5" y="331.5" width="2" height="0.4" fill="#555" stroke="#444" stroke-width="1"/>
<line x1="463.5" y1="327.0" x2="463.5" y2="382.4" stroke="#5a5a5a" stroke-width="1"/>
<rect x="462.5" y="327.5" width="2" height="36.6" fill="#f04438" stroke="#a02222" stroke-width="1"/>
<line x1="466.5" y1="356.0" x2="466.5" y2="404.0" stroke="#5a5a5a" stroke-width="1"/>
<rect x="465.5" y="370.5" width="2" height="32.6" fill="#f04438" stroke="#a02222" stroke-width="1"/>
<line x1="469.5" y1="364.0" x2="469.5" y2="397.0" stroke="#5a5a5a" stroke-width="1"/>
<rect x="468.5" y="384.5" width="2" height="10.6" fill="#58b040" stroke="#2c6e22" stroke-width="1"/>
<line x1="472.5" y1="378.0" x2="472.5" y2="403.0" stroke="#5a5a5a" stroke-width="1"/>
<rect x="471.5" y="382.5" width="2" height="11.6" fill="#f04438" stroke="#a02222" stroke-width="1"/>
<line x1="475.5" y1="371.0" x2="475.5" y2="383.0" stroke="#5a5a5a" stroke-width="1"/>
<rect x="474.5" y="371.9" width="2" height="10.0" fill="#58b040" stroke="#2c6e22" stroke-width="1"/>
<line x1="478.5" y1="355.0" x2="478.5" y2="372.0" stroke="#5a5a5a" stroke-width="1"/>
<rect x="477.5" y="364.5" width="2" height="6.6" fill="#f04438" stroke="#a02222" stroke-width="1"/>
<line x1="481.5" y1="364.0" x2="481.5" y2="386.0" stroke="#5a5a5a" stroke-width="1"/>
<rect x="480.5" y="364.9" width="2" height="13.0" fill="#f04438" stroke="#a02222" stroke-width="1"/>
<line x1="484.5" y1="365.0" x2="484.5" y2="384.0" stroke="#5a5a5a" stroke-width="1"/>
<rect x="483.5" y="370.5" width="2" height="11.6" fill="#f04438" stroke="#a02222" stroke-width="1"/>
<line x1="487.5" y1="374.0" x2="487.5" y2="420.0" stroke="#5a5a5a" stroke-width="1"/>
<rect x="486.5" y="374.5" width="2" height="18.6" fill="#f04438" stroke="#a02222" stroke-width="1"/>
<line x1="490.5" y1="382.0" x2="490.5" y2="407.6" stroke="#5a5a5a" stroke-width="1"/>
<rect x="489.5" y="386.5" width="2" height="15.4" fill="#f04438" stroke="#a02222" stroke-width="1"/>
<line x1="493.5" y1="384.0" x2="493.5" y2="399.0" stroke="#5a5a5a" stroke-width="1"/>
<rect x="492.5" y="392.9" width="2" height="5.0" fill="#58b040" stroke="#2c6e22" stroke-width="1"/>
<line x1="495.5" y1="385.0" x2="495.5" y2="395.0" stroke="#5a5a5a" stroke-width="1"/>
<rect x="494.5" y="392.5" width="2" height="1.0" fill="#f04438" stroke="#a02222" stroke-width="1"/>
<line x1="498.5" y1="387.0" x2="498.5" y2="404.0" stroke="#5a5a5a" stroke-width="1"/>
<rect x="497.5" y="392.9" width="2" height="10.0" fill="#f04438" stroke="#a02222" stroke-width="1"/>
<line x1="501.5" y1="390.0" x2="501.5" y2="406.0" stroke="#5a5a5a" stroke-width="1"/>
<rect x="500.5" y="395.9" width="2" height="4.2" fill="#58b040" stroke="#2c6e22" stroke-width="1"/>
<line x1="504.5" y1="391.0" x2="504.5" y2="400.0" stroke="#5a5a5a" stroke-width="1"/>
<rect x="503.5" y="391.9" width="2" height="3.2" fill="#f04438" stroke="#a02222" stroke-width="1"/>
<line x1="507.5" y1="380.0" x2="507.5" y2="395.0" stroke="#5a5a5a" stroke-width="1"/>
<rect x="506.5" y="393.5" width="2" height="0.4" fill="#f04438" stroke="#a02222" stroke-width="1"/>
<line x1="510.5" y1="386.0" x2="510.5" y2="395.0" stroke="#5a5a5a" stroke-width="1"/>
<rect x="509.5" y="392.5" width="2" height="1.6" fill="#f04438" stroke="#a02222" stroke-width="1"/>
<line x1="513.5" y1="395.0" x2="513.5" y2="409.0" stroke="#5a5a5a" stroke-width="1"/>
<rect x="512.5" y="395.5" width="2" height="12.6" fill="#f04438" stroke="#a02222" stroke-width="1"/>
<line x1="516.5" y1="399.6" x2="516.5" y2="415.0" stroke="#5a5a5a" stroke-width="1"/>
<rect x="515.5" y="400.5" width="2" height="6.4" fill="#f04438" stroke="#a02222" stroke-width="1"/>
<line x1="519.5" y1="407.0" x2="519.5" y2="430.0" stroke="#5a5a5a" stroke-width="1"/>
<rect x="518.5" y="415.5" width="2" height="11.6" fill="#f04438" stroke="#a02222" stroke-width="1"/>
<line x1="522.5" y1="430.0" x2="522.5" y2="451.6" stroke="#5a5a5a" stroke-width="1"/>
<rect x="521.5" y="431.5" width="2" height="4.6" fill="#f04438" stroke="#a02222" stroke-width="1"/>
<line x1="525.5" y1="417.0" x2="525.5" y2="444.0" stroke="#5a5a5a" stroke-width="1"/>
<rect x="524.5" y="418.1" width="2" height="25.0" fill="#58b040" stroke="#2c6e22" stroke-width="1"/>
<line x1="528.5" y1="401.0" x2="528.5" y2="426.0" stroke="#5a5a5a" stroke-width="1"/>
<rect x="527.5" y="420.1" width="2" height="1.8" fill="#f04438" stroke="#a02222" stroke-width="1"/>
<line x1="530.5" y1="415.0" x2="530.5" y2="430.0" stroke="#5a5a5a" stroke-width="1"/>
<rect x="529.5" y="427.5" width="2" height="1.4" fill="#58b040" stroke="#2c6e22" stroke-width="1"/>
<line x1="533.5" y1="419.0" x2="533.5" y2="436.0" stroke="#5a5a5a" stroke-width="1"/>
<rect x="532.5" y="420.1" width="2" height="5.8" fill="#f04438" stroke="#a02222" stroke-width="1"/>
<line x1="536.5" y1="419.0" x2="536.5" y2="430.0" stroke="#5a5a5a" stroke-width="1"/>
<rect x="535.5" y="419.9" width="2" height="4.6" fill="#f04438" stroke="#a02222" stroke-width="1"/>
<line x1="539.5" y1="429.0" x2="539.5" y2="445.0" stroke="#5a5a5a" stroke-width="1"/>
<rect x="538.5" y="429.9" width="2" height="14.0" fill="#f04438" stroke="#a02222" stroke-width="1"/>
<line x1="542.5" y1="435.0" x2="542.5" y2="483.0" stroke="#5a5a5a" stroke-width="1"/>
<rect x="541.5" y="435.9" width="2" height="46.2" fill="#f04438" stroke="#a02222" stroke-width="1"/>
<line x1="545.5" y1="511.0" x2="545.5" y2="547.0" stroke="#5a5a5a" stroke-width="1"/>
<rect x="544.5" y="513.5" width="2" height="13.6" fill="#f04438" stroke="#a02222" stroke-width="1"/>
<line x1="548.5" y1="520.0" x2="548.5" y2="549.0" stroke="#5a5a5a" stroke-width="1"/>
<rect x="547.5" y="525.5" width="2" height="18.6" fill="#f04438" stroke="#a02222" stroke-width="1"/>
<line x1="551.5" y1="504.0" x2="551.5" y2="526.0" stroke="#5a5a5a" stroke-width="1"/>
<rect x="550.5" y="519.5" width="2" height="5.6" fill="#58b040" stroke="#2c6e22" stroke-width="1"/>
<line x1="554.5" y1="525.0" x2="554.5" y2="561.0" stroke="#5a5a5a" stroke-width="1"/>
<rect x="553.5" y="529.5" width="2" height="25.4" fill="#f04438" stroke="#a02222" stroke-width="1"/>
<line x1="557.5" y1="536.0" x2="557.5" y2="551.0" stroke="#5a5a5a" stroke-width="1"/>
<rect x="556.5" y="541.9" width="2" height="8.2" fill="#f04438" stroke="#a02222" stroke-width="1"/>
<line x1="560.5" y1="517.0" x2="560.5" y2="549.0" stroke="#5a5a5a" stroke-width="1"/>
<rect x="559.5" y="522.9" width="2" height="24.6" fill="#f04438" stroke="#a02222" stroke-width="1"/>
<line x1="562.5" y1="532.0" x2="562.5" y2="549.0" stroke="#5a5a5a" stroke-width="1"/>
<rect x="561.5" y="537.9" width="2" height="10.0" fill="#f04438" stroke="#a02222" stroke-width="1"/>
<line x1="565.5" y1="523.0" x2="565.5" y2="544.0" stroke="#5a5a5a" stroke-width="1"/>
<rect x="564.5" y="532.5" width="2" height="4.4" fill="#58b040" stroke="#2c6e22" stroke-width="1"/>
<line x1="568.5" y1="520.0" x2="568.5" y2="539.0" stroke="#5a5a5a" stroke-width="1"/>
<rect x="567.5" y="522.5" width="2" height="8.6" fill="#f04438" stroke="#a02222" stroke-width="1"/>
<line x1="571.5" y1="543.0" x2="571.5" y2="626.0" stroke="#5a5a5a" stroke-width="1"/>
<rect x="570.5" y="569.5" width="2" height="34.6" fill="#58b040" stroke="#2c6e22" stroke-width="1"/>
<line x1="574.5" y1="549.0" x2="574.5" y2="564.0" stroke="#5a5a5a" stroke-width="1"/>
<rect x="573.5" y="555.5" width="2" height="2.6" fill="#58b040" stroke="#2c6e22" stroke-width="1"/>
<line x1="577.5" y1="531.0" x2="577.5" y2="544.0" stroke="#5a5a5a" stroke-width="1"/>
<rect x="576.5" y="541.5" width="2" height="1.0" fill="#f04438" stroke="#a02222" stroke-width="1"/>
<line x1="580.5" y1="513.0" x2="580.5" y2="538.0" stroke="#5a5a5a" stroke-width="1"/>
<rect x="579.5" y="532.5" width="2" height="0.6" fill="#f04438" stroke="#a02222" stroke-width="1"/>
<line x1="583.5" y1="516.0" x2="583.5" y2="542.0" stroke="#5a5a5a" stroke-width="1"/>
<rect x="582.5" y="522.9" width="2" height="3.2" fill="#f04438" stroke="#a02222" stroke-width="1"/>
<line x1="586.5" y1="526.0" x2="586.5" y2="560.0" stroke="#5a5a5a" stroke-width="1"/>
<rect x="585.5" y="536.9" width="2" height="22.0" fill="#f04438" stroke="#a02222" stroke-width="1"/>
<line x1="589.5" y1="516.0" x2="589.5" y2="549.0" stroke="#5a5a5a" stroke-width="1"/>
<rect x="588.5" y="527.5" width="2" height="20.0" fill="#58b040" stroke="#2c6e22" stroke-width="1"/>
<line x1="592.5" y1="528.0" x2="592.5" y2="550.0" stroke="#5a5a5a" stroke-width="1"/>
<rect x="591.5" y="531.5" width="2" height="1.0" fill="#58b040" stroke="#2c6e22" stroke-width="1"/>
<line x1="595.5" y1="530.0" x2="595.5" y2="551.0" stroke="#5a5a5a" stroke-width="1"/>
<rect x="594.5" y="531.5" width="2" height="15.0" fill="#f04438" stroke="#a02222" stroke-width="1"/>
<line x1="598.5" y1="523.0" x2="598.5" y2="542.0" stroke="#5a5a5a" stroke-width="1"/>
<rect x="597.5" y="531.5" width="2" height="9.4" fill="#58b040" stroke="#2c6e22" stroke-width="1"/>
<line x1="600.5" y1="523.0" x2="600.5" y2="532.0" stroke="#5a5a5a" stroke-width="1"/>
<rect x="599.5" y="530.9" width="2" height="0.4" fill="#555" stroke="#444" stroke-width="1"/>
<line x1="603.5" y1="513.0" x2="603.5" y2="526.0" stroke="#5a5a5a" stroke-width="1"/>
<rect x="602.5" y="514.5" width="2" height="10.6" fill="#f04438" stroke="#a02222" stroke-width="1"/>
<line x1="606.5" y1="519.0" x2="606.5" y2="526.0" stroke="#5a5a5a" stroke-width="1"/>
<rect x="605.5" y="522.9" width="2" height="2.2" fill="#58b040" stroke="#2c6e22" stroke-width="1"/>
<line x1="609.5" y1="464.0" x2="609.5" y2="528.0" stroke="#5a5a5a" stroke-width="1"/>
<rect x="608.5" y="478.9" width="2" height="48.2" fill="#58b040" stroke="#2c6e22" stroke-width="1"/>
<line x1="612.5" y1="474.0" x2="612.5" y2="492.0" stroke="#5a5a5a" stroke-width="1"/>
<rect x="611.5" y="479.5" width="2" height="11.4" fill="#f04438" stroke="#a02222" stroke-width="1"/>
<line x1="615.5" y1="491.0" x2="615.5" y2="500.0" stroke="#5a5a5a" stroke-width="1"/>
<rect x="614.5" y="496.5" width="2" height="1.0" fill="#f04438" stroke="#a02222" stroke-width="1"/>
<line x1="618.5" y1="470.0" x2="618.5" y2="500.0" stroke="#5a5a5a" stroke-width="1"/>
<rect x="617.5" y="470.5" width="2" height="25.4" fill="#58b040" stroke="#2c6e22" stroke-width="1"/>
<line x1="621.5" y1="465.0" x2="621.5" y2="488.0" stroke="#5a5a5a" stroke-width="1"/>
<rect x="620.5" y="475.5" width="2" height="3.6" fill="#58b040" stroke="#2c6e22" stroke-width="1"/>
<line x1="624.5" y1="466.0" x2="624.5" y2="485.0" stroke="#5a5a5a" stroke-width="1"/>
<rect x="623.5" y="466.9" width="2" height="3.2" fill="#f04438" stroke="#a02222" stroke-width="1"/>
<line x1="627.5" y1="454.0" x2="627.5" y2="483.0" stroke="#5a5a5a" stroke-width="1"/>
<rect x="626.5" y="457.5" width="2" height="19.6" fill="#f04438" stroke="#a02222" stroke-width="1"/>
<line x1="630.5" y1="478.0" x2="630.5" y2="486.0" stroke="#5a5a5a" stroke-width="1"/>
<rect x="629.5" y="479.5" width="2" height="0.4" fill="#f04438" stroke="#a02222" stroke-width="1"/>
<line x1="633.5" y1="467.0" x2="633.5" y2="485.0" stroke="#5a5a5a" stroke-width="1"/>
<rect x="632.5" y="469.5" width="2" height="14.6" fill="#f04438" stroke="#a02222" stroke-width="1"/>
<line x1="635.5" y1="473.0" x2="635.5" y2="480.0" stroke="#5a5a5a" stroke-width="1"/>
<rect x="634.5" y="474.9" width="2" height="3.6" fill="#f04438" stroke="#a02222" stroke-width="1"/>
<line x1="638.5" y1="466.0" x2="638.5" y2="485.0" stroke="#5a5a5a" stroke-width="1"/>
<rect x="637.5" y="475.1" width="2" height="0.4" fill="#58b040" stroke="#2c6e22" stroke-width="1"/>
<line x1="641.5" y1="469.0" x2="641.5" y2="476.0" stroke="#5a5a5a" stroke-width="1"/>
<rect x="640.5" y="470.1" width="2" height="5.0" fill="#58b040" stroke="#2c6e22" stroke-width="1"/>
<line x1="644.5" y1="463.0" x2="644.5" y2="470.0" stroke="#5a5a5a" stroke-width="1"/>
<rect x="643.5" y="466.5" width="2" height="2.4" fill="#f04438" stroke="#a02222" stroke-width="1"/>
<line x1="647.5" y1="467.0" x2="647.5" y2="504.0" stroke="#5a5a5a" stroke-width="1"/>
<rect x="646.5" y="478.5" width="2" height="12.6" fill="#f04438" stroke="#a02222" stroke-width="1"/>
<line x1="650.5" y1="495.0" x2="650.5" y2="520.0" stroke="#5a5a5a" stroke-width="1"/>
<rect x="649.5" y="500.5" width="2" height="10.0" fill="#f04438" stroke="#a02222" stroke-width="1"/>
<line x1="653.5" y1="504.0" x2="653.5" y2="521.0" stroke="#5a5a5a" stroke-width="1"/>
<rect x="652.5" y="504.9" width="2" height="15.0" fill="#58b040" stroke="#2c6e22" stroke-width="1"/>
<line x1="656.5" y1="483.0" x2="656.5" y2="504.0" stroke="#5a5a5a" stroke-width="1"/>
<rect x="655.5" y="484.9" width="2" height="18.2" fill="#58b040" stroke="#2c6e22" stroke-width="1"/>
<line x1="659.5" y1="480.0" x2="659.5" y2="494.0" stroke="#5a5a5a" stroke-width="1"/>
<rect x="658.5" y="485.9" width="2" height="7.2" fill="#f04438" stroke="#a02222" stroke-width="1"/>
<line x1="662.5" y1="474.0" x2="662.5" y2="496.0" stroke="#5a5a5a" stroke-width="1"/>
<rect x="661.5" y="474.9" width="2" height="13.0" fill="#58b040" stroke="#2c6e22" stroke-width="1"/>
<line x1="665.5" y1="474.0" x2="665.5" y2="483.0" stroke="#5a5a5a" stroke-width="1"/>
<rect x="664.5" y="474.5" width="2" height="0.4" fill="#58b040" stroke="#2c6e22" stroke-width="1"/>
<line x1="668.5" y1="474.0" x2="668.5" y2="494.4" stroke="#5a5a5a" stroke-width="1"/>
<rect x="667.5" y="474.9" width="2" height="18.6" fill="#f04438" stroke="#a02222" stroke-width="1"/>
<line x1="670.5" y1="479.0" x2="670.5" y2="496.0" stroke="#5a5a5a" stroke-width="1"/>
<rect x="669.5" y="486.5" width="2" height="8.6" fill="#f04438" stroke="#a02222" stroke-width="1"/>
<line x1="673.5" y1="487.0" x2="673.5" y2="501.0" stroke="#5a5a5a" stroke-width="1"/>
<rect x="672.5" y="487.9" width="2" height="12.0" fill="#f04438" stroke="#a02222" stroke-width="1"/>
<line x1="676.5" y1="490.0" x2="676.5" y2="501.0" stroke="#5a5a5a" stroke-width="1"/>
<rect x="675.5" y="491.5" width="2" height="8.0" fill="#f04438" stroke="#a02222" stroke-width="1"/>
<line x1="679.5" y1="491.0" x2="679.5" y2="513.0" stroke="#5a5a5a" stroke-width="1"/>
<rect x="678.5" y="491.9" width="2" height="20.2" fill="#f04438" stroke="#a02222" stroke-width="1"/>
<line x1="682.5" y1="503.0" x2="682.5" y2="523.0" stroke="#5a5a5a" stroke-width="1"/>
<rect x="681.5" y="512.9" width="2" height="9.0" fill="#f04438" stroke="#a02222" stroke-width="1"/>
<line x1="685.5" y1="491.0" x2="685.5" y2="523.0" stroke="#5a5a5a" stroke-width="1"/>
<rect x="684.5" y="491.9" width="2" height="30.0" fill="#58b040" stroke="#2c6e22" stroke-width="1"/>
<line x1="688.5" y1="489.0" x2="688.5" y2="500.0" stroke="#5a5a5a" stroke-width="1"/>
<rect x="687.5" y="493.5" width="2" height="3.4" fill="#f04438" stroke="#a02222" stroke-width="1"/>
<line x1="691.5" y1="496.0" x2="691.5" y2="503.0" stroke="#5a5a5a" stroke-width="1"/>
<rect x="690.5" y="496.9" width="2" height="2.0" fill="#f04438" stroke="#a02222" stroke-width="1"/>
<line x1="694.5" y1="490.0" x2="694.5" y2="502.0" stroke="#5a5a5a" stroke-width="1"/>
<rect x="693.5" y="494.9" width="2" height="3.2" fill="#58b040" stroke="#2c6e22" stroke-width="1"/>
<line x1="697.5" y1="474.0" x2="697.5" y2="498.0" stroke="#5a5a5a" stroke-width="1"/>
<rect x="696.5" y="479.9" width="2" height="17.0" fill="#58b040" stroke="#2c6e22" stroke-width="1"/>
<line x1="700.5" y1="474.0" x2="700.5" y2="495.0" stroke="#5a5a5a" stroke-width="1"/>
<rect x="699.5" y="487.1" width="2" height="0.4" fill="#58b040" stroke="#2c6e22" stroke-width="1"/>
<line x1="703.5" y1="488.0" x2="703.5" y2="502.0" stroke="#5a5a5a" stroke-width="1"/>
<rect x="702.5" y="495.5" width="2" height="0.4" fill="#f04438" stroke="#a02222" stroke-width="1"/>
<line x1="705.5" y1="489.0" x2="705.5" y2="505.0" stroke="#5a5a5a" stroke-width="1"/>
<rect x="704.5" y="503.5" width="2" height="0.4" fill="#58b040" stroke="#2c6e22" stroke-width="1"/>
<line x1="708.5" y1="495.0" x2="708.5" y2="506.0" stroke="#5a5a5a" stroke-width="1"/>
<rect x="707.5" y="496.1" width="2" height="8.8" fill="#58b040" stroke="#2c6e22" stroke-width="1"/>
<line x1="711.5" y1="500.0" x2="711.5" y2="510.0" stroke="#5a5a5a" stroke-width="1"/>
<rect x="710.5" y="505.9" width="2" height="3.2" fill="#f04438" stroke="#a02222" stroke-width="1"/>
<line x1="714.5" y1="498.0" x2="714.5" y2="510.0" stroke="#5a5a5a" stroke-width="1"/>
<rect x="713.5" y="499.5" width="2" height="6.4" fill="#f04438" stroke="#a02222" stroke-width="1"/>
<line x1="717.5" y1="505.0" x2="717.5" y2="512.0" stroke="#5a5a5a" stroke-width="1"/>
<rect x="716.5" y="505.9" width="2" height="4.6" fill="#58b040" stroke="#2c6e22" stroke-width="1"/>
<line x1="720.5" y1="501.0" x2="720.5" y2="518.0" stroke="#5a5a5a" stroke-width="1"/>
<rect x="719.5" y="501.9" width="2" height="15.0" fill="#58b040" stroke="#2c6e22" stroke-width="1"/>
<line x1="723.5" y1="493.0" x2="723.5" y2="513.0" stroke="#5a5a5a" stroke-width="1"/>
<rect x="722.5" y="493.9" width="2" height="17.6" fill="#58b040" stroke="#2c6e22" stroke-width="1"/>
<line x1="726.5" y1="489.0" x2="726.5" y2="496.0" stroke="#5a5a5a" stroke-width="1"/>
<rect x="725.5" y="489.9" width="2" height="2.0" fill="#58b040" stroke="#2c6e22" stroke-width="1"/>
<line x1="729.5" y1="487.0" x2="729.5" y2="497.0" stroke="#5a5a5a" stroke-width="1"/>
<rect x="728.5" y="487.9" width="2" height="1.0" fill="#58b040" stroke="#2c6e22" stroke-width="1"/>
<line x1="732.5" y1="488.0" x2="732.5" y2="501.0" stroke="#5a5a5a" stroke-width="1"/>
<rect x="731.5" y="500.5" width="2" height="0.4" fill="#555" stroke="#444" stroke-width="1"/>
<line x1="735.5" y1="501.0" x2="735.5" y2="512.0" stroke="#5a5a5a" stroke-width="1"/>
<rect x="734.5" y="501.9" width="2" height="0.4" fill="#f04438" stroke="#a02222" stroke-width="1"/>
<line x1="738.5" y1="505.0" x2="738.5" y2="510.0" stroke="#5a5a5a" stroke-width="1"/>
<rect x="737.5" y="505.9" width="2" height="3.2" fill="#f04438" stroke="#a02222" stroke-width="1"/>
<line x1="740.5" y1="508.0" x2="740.5" y2="517.0" stroke="#5a5a5a" stroke-width="1"/>
<rect x="739.5" y="509.9" width="2" height="2.0" fill="#58b040" stroke="#2c6e22" stroke-width="1"/>
<line x1="743.5" y1="506.0" x2="743.5" y2="517.0" stroke="#5a5a5a" stroke-width="1"/>
<rect x="742.5" y="506.9" width="2" height="5.2" fill="#58b040" stroke="#2c6e22" stroke-width="1"/>
<line x1="746.5" y1="516.0" x2="746.5" y2="523.0" stroke="#5a5a5a" stroke-width="1"/>
<rect x="745.5" y="516.9" width="2" height="5.0" fill="#f04438" stroke="#a02222" stroke-width="1"/>
<line x1="749.5" y1="512.0" x2="749.5" y2="525.0" stroke="#5a5a5a" stroke-width="1"/>
<rect x="748.5" y="513.9" width="2" height="10.0" fill="#58b040" stroke="#2c6e22" stroke-width="1"/>
<line x1="752.5" y1="502.4" x2="752.5" y2="524.0" stroke="#5a5a5a" stroke-width="1"/>
<rect x="751.5" y="506.9" width="2" height="16.0" fill="#58b040" stroke="#2c6e22" stroke-width="1"/>
<line x1="755.5" y1="509.0" x2="755.5" y2="514.0" stroke="#5a5a5a" stroke-width="1"/>
<rect x="754.5" y="513.1" width="2" height="0.4" fill="#58b040" stroke="#2c6e22" stroke-width="1"/>
<line x1="758.5" y1="496.0" x2="758.5" y2="523.0" stroke="#5a5a5a" stroke-width="1"/>
<rect x="757.5" y="504.9" width="2" height="6.2" fill="#f04438" stroke="#a02222" stroke-width="1"/>
<line x1="761.5" y1="501.0" x2="761.5" y2="514.0" stroke="#5a5a5a" stroke-width="1"/>
<rect x="760.5" y="501.9" width="2" height="11.2" fill="#58b040" stroke="#2c6e22" stroke-width="1"/>
<line x1="764.5" y1="502.0" x2="764.5" y2="528.0" stroke="#5a5a5a" stroke-width="1"/>
<rect x="763.5" y="503.1" width="2" height="7.8" fill="#58b040" stroke="#2c6e22" stroke-width="1"/>
<line x1="767.5" y1="492.0" x2="767.5" y2="521.0" stroke="#5a5a5a" stroke-width="1"/>
<rect x="766.5" y="492.9" width="2" height="27.0" fill="#f04438" stroke="#a02222" stroke-width="1"/>
<line x1="770.5" y1="496.0" x2="770.5" y2="514.0" stroke="#5a5a5a" stroke-width="1"/>
<rect x="769.5" y="499.5" width="2" height="13.6" fill="#58b040" stroke="#2c6e22" stroke-width="1"/>
<line x1="773.5" y1="385.0" x2="773.5" y2="420.0" stroke="#5a5a5a" stroke-width="1"/>
<rect x="772.5" y="406.5" width="2" height="8.6" fill="#58b040" stroke="#2c6e22" stroke-width="1"/>
<line x1="775.5" y1="400.0" x2="775.5" y2="428.0" stroke="#5a5a5a" stroke-width="1"/>
<rect x="774.5" y="401.5" width="2" height="7.0" fill="#58b040" stroke="#2c6e22" stroke-width="1"/>
<line x1="778.5" y1="400.0" x2="778.5" y2="426.0" stroke="#5a5a5a" stroke-width="1"/>
<rect x="777.5" y="406.9" width="2" height="0.4" fill="#f04438" stroke="#a02222" stroke-width="1"/>
<line x1="781.5" y1="409.0" x2="781.5" y2="422.0" stroke="#5a5a5a" stroke-width="1"/>
<rect x="780.5" y="411.5" width="2" height="4.6" fill="#58b040" stroke="#2c6e22" stroke-width="1"/>
<line x1="784.5" y1="343.0" x2="784.5" y2="386.0" stroke="#5a5a5a" stroke-width="1"/>
<rect x="783.5" y="347.5" width="2" height="35.6" fill="#58b040" stroke="#2c6e22" stroke-width="1"/>
<line x1="787.5" y1="326.0" x2="787.5" y2="360.0" stroke="#5a5a5a" stroke-width="1"/>
<rect x="786.5" y="338.5" width="2" height="0.6" fill="#f04438" stroke="#a02222" stroke-width="1"/>
<line x1="790.5" y1="242.0" x2="790.5" y2="303.6" stroke="#5a5a5a" stroke-width="1"/>
<rect x="789.5" y="251.5" width="2" height="49.0" fill="#58b040" stroke="#2c6e22" stroke-width="1"/>
<line x1="793.5" y1="188.0" x2="793.5" y2="246.0" stroke="#5a5a5a" stroke-width="1"/>
<rect x="792.5" y="211.5" width="2" height="26.6" fill="#58b040" stroke="#2c6e22" stroke-width="1"/>
<line x1="796.5" y1="219.0" x2="796.5" y2="266.6" stroke="#5a5a5a" stroke-width="1"/>
<rect x="795.5" y="238.5" width="2" height="27.0" fill="#f04438" stroke="#a02222" stroke-width="1"/>
<line x1="799.5" y1="277.0" x2="799.5" y2="311.6" stroke="#5a5a5a" stroke-width="1"/>
<rect x="798.5" y="277.9" width="2" height="6.2" fill="#f04438" stroke="#a02222" stroke-width="1"/>
<line x1="802.5" y1="252.0" x2="802.5" y2="282.0" stroke="#5a5a5a" stroke-width="1"/>
<rect x="801.5" y="277.9" width="2" height="2.2" fill="#f04438" stroke="#a02222" stroke-width="1"/>
<line x1="805.5" y1="270.0" x2="805.5" y2="302.0" stroke="#5a5a5a" stroke-width="1"/>
<rect x="804.5" y="278.5" width="2" height="0.4" fill="#f04438" stroke="#a02222" stroke-width="1"/>
<line x1="808.5" y1="256.0" x2="808.5" y2="282.0" stroke="#5a5a5a" stroke-width="1"/>
<rect x="807.5" y="273.5" width="2" height="5.0" fill="#58b040" stroke="#2c6e22" stroke-width="1"/>
<line x1="810.5" y1="267.0" x2="810.5" y2="291.0" stroke="#5a5a5a" stroke-width="1"/>
<rect x="809.5" y="268.5" width="2" height="21.0" fill="#f04438" stroke="#a02222" stroke-width="1"/>
<line x1="813.5" y1="287.0" x2="813.5" y2="301.0" stroke="#5a5a5a" stroke-width="1"/>
<rect x="812.5" y="294.5" width="2" height="5.4" fill="#f04438" stroke="#a02222" stroke-width="1"/>
<line x1="816.5" y1="289.0" x2="816.5" y2="303.0" stroke="#5a5a5a" stroke-width="1"/>
<rect x="815.5" y="298.5" width="2" height="3.4" fill="#58b040" stroke="#2c6e22" stroke-width="1"/>
<line x1="819.5" y1="273.0" x2="819.5" y2="290.0" stroke="#5a5a5a" stroke-width="1"/>
<rect x="818.5" y="275.5" width="2" height="13.0" fill="#58b040" stroke="#2c6e22" stroke-width="1"/>
<line x1="822.5" y1="270.0" x2="822.5" y2="289.6" stroke="#5a5a5a" stroke-width="1"/>
<rect x="821.5" y="276.5" width="2" height="11.4" fill="#f04438" stroke="#a02222" stroke-width="1"/>
<line x1="825.5" y1="281.6" x2="825.5" y2="302.0" stroke="#5a5a5a" stroke-width="1"/>
<rect x="824.5" y="282.5" width="2" height="8.0" fill="#f04438" stroke="#a02222" stroke-width="1"/>
<line x1="828.5" y1="286.0" x2="828.5" y2="302.0" stroke="#5a5a5a" stroke-width="1"/>
<rect x="827.5" y="289.5" width="2" height="8.6" fill="#f04438" stroke="#a02222" stroke-width="1"/>
<line x1="831.5" y1="307.0" x2="831.5" y2="389.0" stroke="#5a5a5a" stroke-width="1"/>
<rect x="830.5" y="310.5" width="2" height="76.0" fill="#f04438" stroke="#a02222" stroke-width="1"/>
<line x1="834.5" y1="383.0" x2="834.5" y2="422.0" stroke="#5a5a5a" stroke-width="1"/>
<rect x="833.5" y="403.5" width="2" height="5.6" fill="#f04438" stroke="#a02222" stroke-width="1"/>
<line x1="837.5" y1="386.0" x2="837.5" y2="416.0" stroke="#5a5a5a" stroke-width="1"/>
<rect x="836.5" y="410.1" width="2" height="5.0" fill="#f04438" stroke="#a02222" stroke-width="1"/>
<line x1="840.5" y1="412.0" x2="840.5" y2="446.0" stroke="#5a5a5a" stroke-width="1"/>
<rect x="839.5" y="412.5" width="2" height="22.6" fill="#f04438" stroke="#a02222" stroke-width="1"/>
<line x1="843.5" y1="413.0" x2="843.5" y2="436.0" stroke="#5a5a5a" stroke-width="1"/>
<rect x="842.5" y="415.9" width="2" height="18.6" fill="#58b040" stroke="#2c6e22" stroke-width="1"/>
<line x1="845.5" y1="389.0" x2="845.5" y2="418.0" stroke="#5a5a5a" stroke-width="1"/>
<rect x="844.5" y="399.5" width="2" height="10.6" fill="#58b040" stroke="#2c6e22" stroke-width="1"/>
<line x1="848.5" y1="380.0" x2="848.5" y2="403.0" stroke="#5a5a5a" stroke-width="1"/>
<rect x="847.5" y="396.9" width="2" height="5.0" fill="#f04438" stroke="#a02222" stroke-width="1"/>
<line x1="851.5" y1="388.0" x2="851.5" y2="428.0" stroke="#5a5a5a" stroke-width="1"/>
<rect x="850.5" y="401.9" width="2" height="9.2" fill="#f04438" stroke="#a02222" stroke-width="1"/>
<line x1="854.5" y1="405.0" x2="854.5" y2="451.0" stroke="#5a5a5a" stroke-width="1"/>
<rect x="853.5" y="412.9" width="2" height="33.6" fill="#58b040" stroke="#2c6e22" stroke-width="1"/>
<line x1="857.5" y1="354.0" x2="857.5" y2="410.0" stroke="#5a5a5a" stroke-width="1"/>
<rect x="856.5" y="381.5" width="2" height="27.6" fill="#58b040" stroke="#2c6e22" stroke-width="1"/>
<line x1="860.5" y1="363.0" x2="860.5" y2="384.0" stroke="#5a5a5a" stroke-width="1"/>
<rect x="859.5" y="372.9" width="2" height="4.6" fill="#f04438" stroke="#a02222" stroke-width="1"/>
<line x1="863.5" y1="337.0" x2="863.5" y2="373.0" stroke="#5a5a5a" stroke-width="1"/>
<rect x="862.5" y="337.5" width="2" height="34.4" fill="#58b040" stroke="#2c6e22" stroke-width="1"/>
<line x1="866.5" y1="278.0" x2="866.5" y2="333.0" stroke="#5a5a5a" stroke-width="1"/>
<rect x="865.5" y="279.5" width="2" height="48.0" fill="#58b040" stroke="#2c6e22" stroke-width="1"/>
<line x1="869.5" y1="267.0" x2="869.5" y2="350.0" stroke="#5a5a5a" stroke-width="1"/>
<rect x="868.5" y="276.5" width="2" height="38.6" fill="#f04438" stroke="#a02222" stroke-width="1"/>
<line x1="872.5" y1="284.0" x2="872.5" y2="322.0" stroke="#5a5a5a" stroke-width="1"/>
<rect x="871.5" y="293.5" width="2" height="22.4" fill="#58b040" stroke="#2c6e22" stroke-width="1"/>
<line x1="875.5" y1="288.0" x2="875.5" y2="298.0" stroke="#5a5a5a" stroke-width="1"/>
<rect x="874.5" y="291.9" width="2" height="4.6" fill="#f04438" stroke="#a02222" stroke-width="1"/>
<line x1="878.5" y1="287.0" x2="878.5" y2="329.0" stroke="#5a5a5a" stroke-width="1"/>
<rect x="877.5" y="300.5" width="2" height="27.6" fill="#f04438" stroke="#a02222" stroke-width="1"/>
<line x1="880.5" y1="303.0" x2="880.5" y2="332.0" stroke="#5a5a5a" stroke-width="1"/>
<rect x="879.5" y="307.9" width="2" height="23.2" fill="#58b040" stroke="#2c6e22" stroke-width="1"/>
<line x1="883.5" y1="305.0" x2="883.5" y2="341.0" stroke="#5a5a5a" stroke-width="1"/>
<rect x="882.5" y="311.5" width="2" height="22.4" fill="#f04438" stroke="#a02222" stroke-width="1"/>
<line x1="886.5" y1="322.0" x2="886.5" y2="335.0" stroke="#5a5a5a" stroke-width="1"/>
<rect x="885.5" y="327.9" width="2" height="6.2" fill="#58b040" stroke="#2c6e22" stroke-width="1"/>
<line x1="889.5" y1="315.0" x2="889.5" y2="335.0" stroke="#5a5a5a" stroke-width="1"/>
<rect x="888.5" y="329.9" width="2" height="0.4" fill="#f04438" stroke="#a02222" stroke-width="1"/>
<line x1="892.5" y1="332.0" x2="892.5" y2="359.0" stroke="#5a5a5a" stroke-width="1"/>
<rect x="891.5" y="332.5" width="2" height="15.6" fill="#f04438" stroke="#a02222" stroke-width="1"/>
<line x1="895.5" y1="337.0" x2="895.5" y2="356.0" stroke="#5a5a5a" stroke-width="1"/>
<rect x="894.5" y="350.5" width="2" height="4.6" fill="#f04438" stroke="#a02222" stroke-width="1"/>
<line x1="898.5" y1="343.0" x2="898.5" y2="358.0" stroke="#5a5a5a" stroke-width="1"/>
<rect x="897.5" y="344.5" width="2" height="12.6" fill="#58b040" stroke="#2c6e22" stroke-width="1"/>
<line x1="901.5" y1="344.0" x2="901.5" y2="383.0" stroke="#5a5a5a" stroke-width="1"/>
<rect x="900.5" y="344.9" width="2" height="32.2" fill="#f04438" stroke="#a02222" stroke-width="1"/>
<line x1="904.5" y1="377.0" x2="904.5" y2="388.0" stroke="#5a5a5a" stroke-width="1"/>
<rect x="903.5" y="385.5" width="2" height="1.6" fill="#f04438" stroke="#a02222" stroke-width="1"/>
<line x1="907.5" y1="368.0" x2="907.5" y2="385.0" stroke="#5a5a5a" stroke-width="1"/>
<rect x="906.5" y="371.5" width="2" height="6.6" fill="#58b040" stroke="#2c6e22" stroke-width="1"/>
<line x1="910.5" y1="312.0" x2="910.5" y2="345.0" stroke="#5a5a5a" stroke-width="1"/>
<rect x="909.5" y="312.5" width="2" height="23.6" fill="#58b040" stroke="#2c6e22" stroke-width="1"/>
<line x1="913.5" y1="258.0" x2="913.5" y2="321.0" stroke="#5a5a5a" stroke-width="1"/>
<rect x="912.5" y="289.5" width="2" height="22.0" fill="#f04438" stroke="#a02222" stroke-width="1"/>
<line x1="915.5" y1="298.0" x2="915.5" y2="312.0" stroke="#5a5a5a" stroke-width="1"/>
<rect x="914.5" y="298.5" width="2" height="12.0" fill="#f04438" stroke="#a02222" stroke-width="1"/>
<line x1="918.5" y1="291.0" x2="918.5" y2="309.0" stroke="#5a5a5a" stroke-width="1"/>
<rect x="917.5" y="292.5" width="2" height="10.6" fill="#58b040" stroke="#2c6e22" stroke-width="1"/>
<line x1="921.5" y1="274.0" x2="921.5" y2="294.0" stroke="#5a5a5a" stroke-width="1"/>
<rect x="920.5" y="283.5" width="2" height="9.4" fill="#58b040" stroke="#2c6e22" stroke-width="1"/>
<line x1="924.5" y1="276.0" x2="924.5" y2="295.0" stroke="#5a5a5a" stroke-width="1"/>
<rect x="923.5" y="277.5" width="2" height="13.0" fill="#58b040" stroke="#2c6e22" stroke-width="1"/>
<line x1="927.5" y1="263.0" x2="927.5" y2="278.0" stroke="#5a5a5a" stroke-width="1"/>
<rect x="926.5" y="270.9" width="2" height="2.2" fill="#58b040" stroke="#2c6e22" stroke-width="1"/>
<line x1="930.5" y1="265.0" x2="930.5" y2="274.0" stroke="#5a5a5a" stroke-width="1"/>
<rect x="929.5" y="267.5" width="2" height="5.6" fill="#58b040" stroke="#2c6e22" stroke-width="1"/>
<line x1="933.5" y1="217.0" x2="933.5" y2="266.0" stroke="#5a5a5a" stroke-width="1"/>
<rect x="932.5" y="217.9" width="2" height="47.2" fill="#58b040" stroke="#2c6e22" stroke-width="1"/>
<line x1="936.5" y1="216.0" x2="936.5" y2="254.0" stroke="#5a5a5a" stroke-width="1"/>
<rect x="935.5" y="222.5" width="2" height="17.4" fill="#f04438" stroke="#a02222" stroke-width="1"/>
<line x1="939.5" y1="233.0" x2="939.5" y2="286.0" stroke="#5a5a5a" stroke-width="1"/>
<rect x="938.5" y="239.5" width="2" height="16.6" fill="#f04438" stroke="#a02222" stroke-width="1"/>
<line x1="942.5" y1="248.0" x2="942.5" y2="271.0" stroke="#5a5a5a" stroke-width="1"/>
<rect x="941.5" y="255.9" width="2" height="14.2" fill="#f04438" stroke="#a02222" stroke-width="1"/>
<line x1="945.5" y1="248.0" x2="945.5" y2="264.0" stroke="#5a5a5a" stroke-width="1"/>
<rect x="944.5" y="256.5" width="2" height="2.6" fill="#f04438" stroke="#a02222" stroke-width="1"/>
<line x1="948.5" y1="228.0" x2="948.5" y2="261.0" stroke="#5a5a5a" stroke-width="1"/>
<rect x="947.5" y="233.5" width="2" height="26.6" fill="#58b040" stroke="#2c6e22" stroke-width="1"/>
<line x1="950.5" y1="195.0" x2="950.5" y2="224.0" stroke="#5a5a5a" stroke-width="1"/>
<rect x="949.5" y="200.5" width="2" height="21.4" fill="#58b040" stroke="#2c6e22" stroke-width="1"/>
<line x1="953.5" y1="156.0" x2="953.5" y2="194.0" stroke="#5a5a5a" stroke-width="1"/>
<rect x="952.5" y="160.5" width="2" height="32.6" fill="#58b040" stroke="#2c6e22" stroke-width="1"/>
<line x1="956.5" y1="172.0" x2="956.5" y2="203.0" stroke="#5a5a5a" stroke-width="1"/>
<rect x="955.5" y="177.5" width="2" height="13.6" fill="#f04438" stroke="#a02222" stroke-width="1"/>
<line x1="959.5" y1="173.0" x2="959.5" y2="191.0" stroke="#5a5a5a" stroke-width="1"/>
<rect x="958.5" y="174.5" width="2" height="15.4" fill="#58b040" stroke="#2c6e22" stroke-width="1"/>
<line x1="962.5" y1="118.0" x2="962.5" y2="175.0" stroke="#5a5a5a" stroke-width="1"/>
<rect x="961.5" y="126.5" width="2" height="47.0" fill="#58b040" stroke="#2c6e22" stroke-width="1"/>
<line x1="965.5" y1="73.0" x2="965.5" y2="114.0" stroke="#5a5a5a" stroke-width="1"/>
<rect x="964.5" y="91.5" width="2" height="16.6" fill="#58b040" stroke="#2c6e22" stroke-width="1"/>
<line x1="968.5" y1="80.0" x2="968.5" y2="134.0" stroke="#5a5a5a" stroke-width="1"/>
<rect x="967.5" y="82.5" width="2" height="10.6" fill="#f04438" stroke="#a02222" stroke-width="1"/>
<line x1="971.5" y1="70.0" x2="971.5" y2="101.0" stroke="#5a5a5a" stroke-width="1"/>
<rect x="970.5" y="79.9" width="2" height="20.2" fill="#58b040" stroke="#2c6e22" stroke-width="1"/>
<line x1="974.5" y1="78.0" x2="974.5" y2="91.0" stroke="#5a5a5a" stroke-width="1"/>
<rect x="973.5" y="80.5" width="2" height="0.4" fill="#555" stroke="#444" stroke-width="1"/>
<line x1="977.5" y1="79.0" x2="977.5" y2="110.0" stroke="#5a5a5a" stroke-width="1"/>
<rect x="976.5" y="80.5" width="2" height="2.6" fill="#f04438" stroke="#a02222" stroke-width="1"/>
<line x1="980.5" y1="36.0" x2="980.5" y2="95.0" stroke="#5a5a5a" stroke-width="1"/>
<rect x="979.5" y="45.5" width="2" height="43.6" fill="#58b040" stroke="#2c6e22" stroke-width="1"/>
<line x1="983.5" y1="24.0" x2="983.5" y2="56.0" stroke="#5a5a5a" stroke-width="1"/>
<rect x="982.5" y="40.5" width="2" height="2.6" fill="#f04438" stroke="#a02222" stroke-width="1"/>
<line x1="985.5" y1="58.0" x2="985.5" y2="113.0" stroke="#5a5a5a" stroke-width="1"/>
<rect x="984.5" y="58.5" width="2" height="43.6" fill="#f04438" stroke="#a02222" stroke-width="1"/>
<line x1="988.5" y1="55.0" x2="988.5" y2="88.0" stroke="#5a5a5a" stroke-width="1"/>
<rect x="987.5" y="55.9" width="2" height="31.0" fill="#58b040" stroke="#2c6e22" stroke-width="1"/>
<line x1="991.5" y1="59.0" x2="991.5" y2="63.0" stroke="#5a5a5a" stroke-width="1"/>
<rect x="990.5" y="59.9" width="2" height="2.2" fill="#f04438" stroke="#a02222" stroke-width="1"/>
<line x1="994.5" y1="60.0" x2="994.5" y2="92.0" stroke="#5a5a5a" stroke-width="1"/>
<rect x="993.5" y="65.5" width="2" height="10.6" fill="#f04438" stroke="#a02222" stroke-width="1"/>
<line x1="997.5" y1="67.0" x2="997.5" y2="82.0" stroke="#5a5a5a" stroke-width="1"/>
<rect x="996.5" y="71.5" width="2" height="0.4" fill="#555" stroke="#444" stroke-width="1"/>
<line x1="1000.5" y1="68.6" x2="1000.5" y2="85.4" stroke="#5a5a5a" stroke-width="1"/>
<rect x="999.5" y="69.5" width="2" height="8.6" fill="#f04438" stroke="#a02222" stroke-width="1"/>
<line x1="1003.5" y1="82.0" x2="1003.5" y2="113.0" stroke="#5a5a5a" stroke-width="1"/>
<rect x="1002.5" y="82.9" width="2" height="16.2" fill="#f04438" stroke="#a02222" stroke-width="1"/>
<line x1="1006.5" y1="112.0" x2="1006.5" y2="138.0" stroke="#5a5a5a" stroke-width="1"/>
<rect x="1005.5" y="113.5" width="2" height="10.6" fill="#f04438" stroke="#a02222" stroke-width="1"/>
<line x1="1009.5" y1="119.0" x2="1009.5" y2="163.0" stroke="#5a5a5a" stroke-width="1"/>
<rect x="1008.5" y="125.1" width="2" height="26.4" fill="#f04438" stroke="#a02222" stroke-width="1"/>
<line x1="1012.5" y1="102.0" x2="1012.5" y2="143.0" stroke="#5a5a5a" stroke-width="1"/>
<rect x="1011.5" y="117.5" width="2" height="17.6" fill="#58b040" stroke="#2c6e22" stroke-width="1"/>
<line x1="1015.5" y1="87.0" x2="1015.5" y2="106.0" stroke="#5a5a5a" stroke-width="1"/>
<rect x="1014.5" y="97.5" width="2" height="3.0" fill="#58b040" stroke="#2c6e22" stroke-width="1"/>
<line x1="1018.5" y1="91.0" x2="1018.5" y2="111.0" stroke="#5a5a5a" stroke-width="1"/>
<rect x="1017.5" y="92.5" width="2" height="8.6" fill="#f04438" stroke="#a02222" stroke-width="1"/>
<line x1="1020.5" y1="97.0" x2="1020.5" y2="124.0" stroke="#5a5a5a" stroke-width="1"/>
<rect x="1019.5" y="101.9" width="2" height="20.6" fill="#f04438" stroke="#a02222" stroke-width="1"/>
<line x1="1023.5" y1="118.0" x2="1023.5" y2="129.0" stroke="#5a5a5a" stroke-width="1"/>
<rect x="1022.5" y="118.5" width="2" height="4.0" fill="#f04438" stroke="#a02222" stroke-width="1"/>
<line x1="1026.5" y1="105.0" x2="1026.5" y2="125.0" stroke="#5a5a5a" stroke-width="1"/>
<rect x="1025.5" y="106.5" width="2" height="11.0" fill="#58b040" stroke="#2c6e22" stroke-width="1"/>
<line x1="1029.5" y1="108.0" x2="1029.5" y2="120.0" stroke="#5a5a5a" stroke-width="1"/>
<rect x="1028.5" y="109.5" width="2" height="4.0" fill="#f04438" stroke="#a02222" stroke-width="1"/>
<line x1="1032.5" y1="102.6" x2="1032.5" y2="114.0" stroke="#5a5a5a" stroke-width="1"/>
<rect x="1031.5" y="103.5" width="2" height="9.6" fill="#58b040" stroke="#2c6e22" stroke-width="1"/>
<line x1="1035.5" y1="76.0" x2="1035.5" y2="97.0" stroke="#5a5a5a" stroke-width="1"/>
<rect x="1034.5" y="86.5" width="2" height="9.6" fill="#58b040" stroke="#2c6e22" stroke-width="1"/>
<line x1="1038.5" y1="88.0" x2="1038.5" y2="108.0" stroke="#5a5a5a" stroke-width="1"/>
<rect x="1037.5" y="89.5" width="2" height="4.6" fill="#f04438" stroke="#a02222" stroke-width="1"/>
<line x1="1041.5" y1="87.0" x2="1041.5" y2="113.0" stroke="#5a5a5a" stroke-width="1"/>
<rect x="1040.5" y="93.5" width="2" height="9.6" fill="#f04438" stroke="#a02222" stroke-width="1"/>
<line x1="1044.5" y1="95.0" x2="1044.5" y2="118.0" stroke="#5a5a5a" stroke-width="1"/>
<rect x="1043.5" y="100.9" width="2" height="4.2" fill="#58b040" stroke="#2c6e22" stroke-width="1"/>
<line x1="1047.5" y1="99.0" x2="1047.5" y2="108.0" stroke="#5a5a5a" stroke-width="1"/>
<rect x="1046.5" y="100.5" width="2" height="6.6" fill="#f04438" stroke="#a02222" stroke-width="1"/>
<line x1="1050.5" y1="89.0" x2="1050.5" y2="110.0" stroke="#5a5a5a" stroke-width="1"/>
<rect x="1049.5" y="97.5" width="2" height="8.6" fill="#58b040" stroke="#2c6e22" stroke-width="1"/>
<line x1="1052.5" y1="92.0" x2="1052.5" y2="111.0" stroke="#5a5a5a" stroke-width="1"/>
<rect x="1051.5" y="97.9" width="2" height="4.6" fill="#f04438" stroke="#a02222" stroke-width="1"/>
<line x1="1055.5" y1="98.0" x2="1055.5" y2="107.0" stroke="#5a5a5a" stroke-width="1"/>
<rect x="1054.5" y="99.1" width="2" height="7.0" fill="#f04438" stroke="#a02222" stroke-width="1"/>
<line x1="1058.5" y1="103.0" x2="1058.5" y2="110.0" stroke="#5a5a5a" stroke-width="1"/>
<rect x="1057.5" y="107.5" width="2" height="0.6" fill="#58b040" stroke="#2c6e22" stroke-width="1"/>
<line x1="1061.5" y1="108.6" x2="1061.5" y2="136.0" stroke="#5a5a5a" stroke-width="1"/>
<rect x="1060.5" y="109.5" width="2" height="19.6" fill="#f04438" stroke="#a02222" stroke-width="1"/>
<line x1="1064.5" y1="123.0" x2="1064.5" y2="143.0" stroke="#5a5a5a" stroke-width="1"/>
<rect x="1063.5" y="123.5" width="2" height="6.6" fill="#f04438" stroke="#a02222" stroke-width="1"/>
<line x1="1067.5" y1="113.0" x2="1067.5" y2="135.0" stroke="#5a5a5a" stroke-width="1"/>
<rect x="1066.5" y="120.5" width="2" height="9.6" fill="#58b040" stroke="#2c6e22" stroke-width="1"/>
<line x1="1070.5" y1="115.0" x2="1070.5" y2="129.0" stroke="#5a5a5a" stroke-width="1"/>
<rect x="1069.5" y="117.5" width="2" height="5.0" fill="#f04438" stroke="#a02222" stroke-width="1"/>
<line x1="1073.5" y1="122.0" x2="1073.5" y2="136.0" stroke="#5a5a5a" stroke-width="1"/>
<rect x="1072.5" y="122.5" width="2" height="9.6" fill="#f04438" stroke="#a02222" stroke-width="1"/>
<line x1="1076.5" y1="133.0" x2="1076.5" y2="176.0" stroke="#5a5a5a" stroke-width="1"/>
<rect x="1075.5" y="137.5" width="2" height="21.6" fill="#f04438" stroke="#a02222" stroke-width="1"/>
<line x1="1079.5" y1="151.0" x2="1079.5" y2="166.0" stroke="#5a5a5a" stroke-width="1"/>
<rect x="1078.5" y="154.5" width="2" height="10.6" fill="#f04438" stroke="#a02222" stroke-width="1"/>
<line x1="1082.5" y1="131.0" x2="1082.5" y2="164.0" stroke="#5a5a5a" stroke-width="1"/>
<rect x="1081.5" y="138.5" width="2" height="24.6" fill="#58b040" stroke="#2c6e22" stroke-width="1"/>
<line x1="1085.5" y1="125.0" x2="1085.5" y2="137.0" stroke="#5a5a5a" stroke-width="1"/>
<rect x="1084.5" y="126.5" width="2" height="9.0" fill="#58b040" stroke="#2c6e22" stroke-width="1"/>
<line x1="1087.5" y1="117.0" x2="1087.5" y2="137.0" stroke="#5a5a5a" stroke-width="1"/>
<rect x="1086.5" y="124.1" width="2" height="12.0" fill="#f04438" stroke="#a02222" stroke-width="1"/>
<line x1="1090.5" y1="140.0" x2="1090.5" y2="153.0" stroke="#5a5a5a" stroke-width="1"/>
<rect x="1089.5" y="141.5" width="2" height="2.4" fill="#f04438" stroke="#a02222" stroke-width="1"/>
<line x1="1093.5" y1="139.0" x2="1093.5" y2="151.0" stroke="#5a5a5a" stroke-width="1"/>
<rect x="1092.5" y="144.5" width="2" height="0.4" fill="#58b040" stroke="#2c6e22" stroke-width="1"/>
<line x1="1096.5" y1="141.0" x2="1096.5" y2="149.0" stroke="#5a5a5a" stroke-width="1"/>
<rect x="1095.5" y="143.5" width="2" height="2.0" fill="#58b040" stroke="#2c6e22" stroke-width="1"/>
<line x1="1099.5" y1="134.0" x2="1099.5" y2="158.0" stroke="#5a5a5a" stroke-width="1"/>
<rect x="1098.5" y="139.5" width="2" height="7.6" fill="#58b040" stroke="#2c6e22" stroke-width="1"/>
<line x1="1102.5" y1="141.0" x2="1102.5" y2="151.0" stroke="#5a5a5a" stroke-width="1"/>
<rect x="1101.5" y="142.5" width="2" height="3.6" fill="#f04438" stroke="#a02222" stroke-width="1"/>
<line x1="1105.5" y1="127.0" x2="1105.5" y2="147.0" stroke="#5a5a5a" stroke-width="1"/>
<rect x="1104.5" y="137.5" width="2" height="8.0" fill="#58b040" stroke="#2c6e22" stroke-width="1"/>
<line x1="1108.5" y1="132.6" x2="1108.5" y2="162.0" stroke="#5a5a5a" stroke-width="1"/>
<rect x="1107.5" y="133.5" width="2" height="24.6" fill="#f04438" stroke="#a02222" stroke-width="1"/>
<line x1="1111.5" y1="153.0" x2="1111.5" y2="158.0" stroke="#5a5a5a" stroke-width="1"/>
<rect x="1110.5" y="156.1" width="2" height="0.4" fill="#f04438" stroke="#a02222" stroke-width="1"/>
<line x1="1114.5" y1="151.0" x2="1114.5" y2="159.4" stroke="#5a5a5a" stroke-width="1"/>
<rect x="1113.5" y="157.5" width="2" height="1.0" fill="#f04438" stroke="#a02222" stroke-width="1"/>
<line x1="1117.5" y1="142.0" x2="1117.5" y2="155.0" stroke="#5a5a5a" stroke-width="1"/>
<rect x="1116.5" y="148.5" width="2" height="4.6" fill="#58b040" stroke="#2c6e22" stroke-width="1"/>
<line x1="1120.5" y1="148.6" x2="1120.5" y2="158.0" stroke="#5a5a5a" stroke-width="1"/>
<rect x="1119.5" y="149.5" width="2" height="7.0" fill="#f04438" stroke="#a02222" stroke-width="1"/>
<line x1="1122.5" y1="158.0" x2="1122.5" y2="167.0" stroke="#5a5a5a" stroke-width="1"/>
<rect x="1121.5" y="159.5" width="2" height="6.6" fill="#f04438" stroke="#a02222" stroke-width="1"/>
<line x1="1125.5" y1="160.0" x2="1125.5" y2="215.0" stroke="#5a5a5a" stroke-width="1"/>
<rect x="1124.5" y="161.5" width="2" height="49.6" fill="#f04438" stroke="#a02222" stroke-width="1"/>
<line x1="1128.5" y1="217.0" x2="1128.5" y2="265.6" stroke="#5a5a5a" stroke-width="1"/>
<rect x="1127.5" y="217.9" width="2" height="38.6" fill="#f04438" stroke="#a02222" stroke-width="1"/>
<line x1="1131.5" y1="179.0" x2="1131.5" y2="230.0" stroke="#5a5a5a" stroke-width="1"/>
<rect x="1130.5" y="195.5" width="2" height="29.6" fill="#58b040" stroke="#2c6e22" stroke-width="1"/>
<line x1="1134.5" y1="153.0" x2="1134.5" y2="199.0" stroke="#5a5a5a" stroke-width="1"/>
<rect x="1133.5" y="179.5" width="2" height="13.6" fill="#f04438" stroke="#a02222" stroke-width="1"/>
<line x1="1137.5" y1="196.0" x2="1137.5" y2="239.0" stroke="#5a5a5a" stroke-width="1"/>
<rect x="1136.5" y="196.9" width="2" height="25.6" fill="#f04438" stroke="#a02222" stroke-width="1"/>
<line x1="1140.5" y1="207.0" x2="1140.5" y2="224.0" stroke="#5a5a5a" stroke-width="1"/>
<rect x="1139.5" y="215.5" width="2" height="7.4" fill="#f04438" stroke="#a02222" stroke-width="1"/>
<line x1="1143.5" y1="215.0" x2="1143.5" y2="226.0" stroke="#5a5a5a" stroke-width="1"/>
<rect x="1142.5" y="219.5" width="2" height="0.4" fill="#555" stroke="#444" stroke-width="1"/>
<line x1="1146.5" y1="198.0" x2="1146.5" y2="209.0" stroke="#5a5a5a" stroke-width="1"/>
<rect x="1145.5" y="205.5" width="2" height="2.6" fill="#58b040" stroke="#2c6e22" stroke-width="1"/>
<line x1="1149.5" y1="202.0" x2="1149.5" y2="210.0" stroke="#5a5a5a" stroke-width="1"/>
<rect x="1148.5" y="203.5" width="2" height="5.6" fill="#58b040" stroke="#2c6e22" stroke-width="1"/>
<line x1="1152.5" y1="162.0" x2="1152.5" y2="219.0" stroke="#5a5a5a" stroke-width="1"/>
<rect x="1151.5" y="195.5" width="2" height="10.6" fill="#f04438" stroke="#a02222" stroke-width="1"/>
<line x1="1155.5" y1="170.0" x2="1155.5" y2="204.0" stroke="#5a5a5a" stroke-width="1"/>
<rect x="1154.5" y="176.5" width="2" height="16.6" fill="#58b040" stroke="#2c6e22" stroke-width="1"/>
<line x1="1157.5" y1="132.0" x2="1157.5" y2="160.0" stroke="#5a5a5a" stroke-width="1"/>
<rect x="1156.5" y="137.5" width="2" height="21.6" fill="#58b040" stroke="#2c6e22" stroke-width="1"/>
<line x1="1160.5" y1="138.0" x2="1160.5" y2="155.0" stroke="#5a5a5a" stroke-width="1"/>
<rect x="1159.5" y="140.5" width="2" height="5.0" fill="#58b040" stroke="#2c6e22" stroke-width="1"/>
<line x1="1163.5" y1="143.0" x2="1163.5" y2="163.0" stroke="#5a5a5a" stroke-width="1"/>
<rect x="1162.5" y="144.9" width="2" height="0.6" fill="#f04438" stroke="#a02222" stroke-width="1"/>
<line x1="1166.5" y1="137.0" x2="1166.5" y2="162.0" stroke="#5a5a5a" stroke-width="1"/>
<rect x="1165.5" y="140.5" width="2" height="11.6" fill="#58b040" stroke="#2c6e22" stroke-width="1"/>
<line x1="1169.5" y1="142.0" x2="1169.5" y2="172.0" stroke="#5a5a5a" stroke-width="1"/>
<rect x="1168.5" y="145.5" width="2" height="20.5" fill="#f04438" stroke="#a02222" stroke-width="1"/>
<line x1="1172.5" y1="158.0" x2="1172.5" y2="174.0" stroke="#5a5a5a" stroke-width="1"/>
<rect x="1171.5" y="161.9" width="2" height="0.4" fill="#f04438" stroke="#a02222" stroke-width="1"/>
<line x1="1175.5" y1="162.0" x2="1175.5" y2="173.0" stroke="#5a5a5a" stroke-width="1"/>
<rect x="1174.5" y="164.5" width="2" height="5.5" fill="#f04438" stroke="#a02222" stroke-width="1"/>
<line x1="1178.5" y1="156.0" x2="1178.5" y2="175.0" stroke="#5a5a5a" stroke-width="1"/>
<rect x="1177.5" y="169.5" width="2" height="4.5" fill="#f04438" stroke="#a02222" stroke-width="1"/>
<line x1="1181.5" y1="167.0" x2="1181.5" y2="184.0" stroke="#5a5a5a" stroke-width="1"/>
<rect x="1180.5" y="169.5" width="2" height="13.6" fill="#f04438" stroke="#a02222" stroke-width="1"/>
<line x1="1184.5" y1="183.6" x2="1184.5" y2="207.0" stroke="#5a5a5a" stroke-width="1"/>
<rect x="1183.5" y="184.5" width="2" height="18.6" fill="#f04438" stroke="#a02222" stroke-width="1"/>
<line x1="1187.5" y1="198.0" x2="1187.5" y2="221.0" stroke="#5a5a5a" stroke-width="1"/>
<rect x="1186.5" y="201.5" width="2" height="16.6" fill="#f04438" stroke="#a02222" stroke-width="1"/>
<line x1="1190.5" y1="199.6" x2="1190.5" y2="215.0" stroke="#5a5a5a" stroke-width="1"/>
<rect x="1189.5" y="200.5" width="2" height="3.4" fill="#58b040" stroke="#2c6e22" stroke-width="1"/>
<line x1="1192.5" y1="195.0" x2="1192.5" y2="209.0" stroke="#5a5a5a" stroke-width="1"/>
<rect x="1191.5" y="200.5" width="2" height="3.0" fill="#58b040" stroke="#2c6e22" stroke-width="1"/>
<line x1="1195.5" y1="183.0" x2="1195.5" y2="204.0" stroke="#5a5a5a" stroke-width="1"/>
<rect x="1194.5" y="190.5" width="2" height="12.6" fill="#58b040" stroke="#2c6e22" stroke-width="1"/>
<line x1="1198.5" y1="190.0" x2="1198.5" y2="209.0" stroke="#5a5a5a" stroke-width="1"/>
<rect x="1197.5" y="190.9" width="2" height="14.6" fill="#f04438" stroke="#a02222" stroke-width="1"/>
<line x1="1201.5" y1="196.0" x2="1201.5" y2="209.0" stroke="#5a5a5a" stroke-width="1"/>
<rect x="1200.5" y="196.9" width="2" height="9.2" fill="#58b040" stroke="#2c6e22" stroke-width="1"/>
<line x1="1204.5" y1="187.0" x2="1204.5" y2="212.0" stroke="#5a5a5a" stroke-width="1"/>
<rect x="1203.5" y="187.9" width="2" height="23.0" fill="#f04438" stroke="#a02222" stroke-width="1"/>
<line x1="1207.5" y1="206.0" x2="1207.5" y2="222.0" stroke="#5a5a5a" stroke-width="1"/>
<rect x="1206.5" y="208.5" width="2" height="11.6" fill="#f04438" stroke="#a02222" stroke-width="1"/>
<line x1="1210.5" y1="214.0" x2="1210.5" y2="222.0" stroke="#5a5a5a" stroke-width="1"/>
<rect x="1209.5" y="215.9" width="2" height="2.2" fill="#58b040" stroke="#2c6e22" stroke-width="1"/>
<line x1="1213.5" y1="224.0" x2="1213.5" y2="245.0" stroke="#5a5a5a" stroke-width="1"/>
<rect x="1212.5" y="232.5" width="2" height="0.4" fill="#f04438" stroke="#a02222" stroke-width="1"/>
<line x1="1216.5" y1="227.0" x2="1216.5" y2="243.0" stroke="#5a5a5a" stroke-width="1"/>
<rect x="1215.5" y="229.5" width="2" height="6.6" fill="#f04438" stroke="#a02222" stroke-width="1"/>
<line x1="1219.5" y1="234.0" x2="1219.5" y2="243.0" stroke="#5a5a5a" stroke-width="1"/>
<rect x="1218.5" y="234.9" width="2" height="7.0" fill="#f04438" stroke="#a02222" stroke-width="1"/>
<line x1="1222.5" y1="208.0" x2="1222.5" y2="246.0" stroke="#5a5a5a" stroke-width="1"/>
<rect x="1221.5" y="217.5" width="2" height="24.6" fill="#58b040" stroke="#2c6e22" stroke-width="1"/>
<line x1="1225.5" y1="223.0" x2="1225.5" y2="240.0" stroke="#5a5a5a" stroke-width="1"/>
<rect x="1224.5" y="224.5" width="2" height="13.6" fill="#f04438" stroke="#a02222" stroke-width="1"/>
<line x1="1228.5" y1="228.0" x2="1228.5" y2="240.0" stroke="#5a5a5a" stroke-width="1"/>
<rect x="1227.5" y="238.1" width="2" height="0.4" fill="#f04438" stroke="#a02222" stroke-width="1"/>
<line x1="1230.5" y1="216.0" x2="1230.5" y2="234.0" stroke="#5a5a5a" stroke-width="1"/>
<rect x="1229.5" y="224.5" width="2" height="8.6" fill="#58b040" stroke="#2c6e22" stroke-width="1"/>
<line x1="1233.5" y1="216.0" x2="1233.5" y2="237.0" stroke="#5a5a5a" stroke-width="1"/>
<rect x="1232.5" y="221.5" width="2" height="10.0" fill="#f04438" stroke="#a02222" stroke-width="1"/>
<line x1="1236.5" y1="228.0" x2="1236.5" y2="250.4" stroke="#5a5a5a" stroke-width="1"/>
<rect x="1235.5" y="234.5" width="2" height="15.0" fill="#f04438" stroke="#a02222" stroke-width="1"/>
<line x1="1239.5" y1="248.0" x2="1239.5" y2="289.6" stroke="#5a5a5a" stroke-width="1"/>
<rect x="1238.5" y="250.5" width="2" height="28.6" fill="#f04438" stroke="#a02222" stroke-width="1"/>
<line x1="225" y1="310" x2="1366" y2="310" stroke="#b4ecc0" stroke-width="1"/>
<line x1="182.4" y1="734" x2="1366" y2="406" stroke="#dc3048" stroke-width="1.05"/>
<line x1="0" y1="713.4" x2="1366" y2="194.3" stroke="#ec923c" stroke-width="1.05"/>
<line x1="793" y1="188" x2="1362.7" y2="304" stroke="#ea3c50" stroke-opacity="0.45" stroke-width="2.1"/>
<line x1="0" y1="57.3" x2="1366" y2="280" stroke="#1c1c1c" stroke-width="1.2"/>
<line x1="571" y1="626" x2="1366" y2="227.5" stroke="#0a18d2" stroke-width="2.4"/>
<line x1="0" y1="290.2" x2="1368" y2="290.2" stroke="#0c0c0c" stroke-width="2.1"/>
</g>
<line x1="0" y1="290.2" x2="1370" y2="290.2" stroke="#0c0c0c" stroke-width="2.1"/>
<rect x="0" y="734" width="1412" height="3" fill="#dedede"/>
<line x1="1366.5" y1="0" x2="1366.5" y2="825" stroke="#d4d4d4" stroke-width="1"/>
<line x1="35.5" y1="731" x2="35.5" y2="734" stroke="#333" stroke-width="1"/>
<text x="35.5" y="727.5" font-size="12" fill="#444" text-anchor="middle">Okt</text>
<line x1="218.5" y1="731" x2="218.5" y2="734" stroke="#333" stroke-width="1"/>
<text x="218.5" y="727.5" font-size="12" fill="#444" text-anchor="middle">Jan '16</text>
<line x1="399.5" y1="731" x2="399.5" y2="734" stroke="#333" stroke-width="1"/>
<text x="399.5" y="727.5" font-size="12" fill="#444" text-anchor="middle">Apr</text>
<line x1="586.5" y1="731" x2="586.5" y2="734" stroke="#333" stroke-width="1"/>
<text x="586.5" y="727.5" font-size="12" fill="#444" text-anchor="middle">Jul</text>
<line x1="778.5" y1="731" x2="778.5" y2="734" stroke="#333" stroke-width="1"/>
<text x="778.5" y="727.5" font-size="12" fill="#444" text-anchor="middle">Okt</text>
<line x1="962.5" y1="731" x2="962.5" y2="734" stroke="#333" stroke-width="1"/>
<text x="962.5" y="727.5" font-size="12" fill="#444" text-anchor="middle">Jan '17</text>
<line x1="1152.5" y1="731" x2="1152.5" y2="734" stroke="#333" stroke-width="1"/>
<text x="1152.5" y="727.5" font-size="12" fill="#444" text-anchor="middle">Apr</text>
<line x1="1367" y1="34.5" x2="1371" y2="34.5" stroke="#444" stroke-width="1.4"/>
<text x="1377.7" y="38.1" font-size="12" fill="#444">15,000</text>
<line x1="1367" y1="76.5" x2="1371" y2="76.5" stroke="#444" stroke-width="1.4"/>
<text x="1377.7" y="80.1" font-size="12" fill="#444">14,000</text>
<line x1="1367" y1="120.5" x2="1371" y2="120.5" stroke="#444" stroke-width="1.4"/>
<text x="1377.7" y="124.1" font-size="12" fill="#444">13,000</text>
<line x1="1367" y1="169.5" x2="1371" y2="169.5" stroke="#444" stroke-width="1.4"/>
<text x="1377.7" y="173.1" font-size="12" fill="#444">12,000</text>
<line x1="1367" y1="222.5" x2="1371" y2="222.5" stroke="#444" stroke-width="1.4"/>
<text x="1377.7" y="226.1" font-size="12" fill="#444">11,000</text>
<line x1="1367" y1="279.5" x2="1371" y2="279.5" stroke="#444" stroke-width="1.4"/>
<text x="1377.7" y="283.1" font-size="12" fill="#444">10,000</text>
<line x1="1367" y1="343.5" x2="1371" y2="343.5" stroke="#444" stroke-width="1.4"/>
<text x="1377.7" y="347.1" font-size="12" fill="#444">9,000</text>
<line x1="1367" y1="415.5" x2="1371" y2="415.5" stroke="#444" stroke-width="1.4"/>
<text x="1377.7" y="419.1" font-size="12" fill="#444">8,000</text>
<line x1="1367" y1="496.5" x2="1371" y2="496.5" stroke="#444" stroke-width="1.4"/>
<text x="1377.7" y="500.1" font-size="12" fill="#444">7,000</text>
<line x1="1367" y1="589.5" x2="1371" y2="589.5" stroke="#444" stroke-width="1.4"/>
<text x="1377.7" y="593.1" font-size="12" fill="#444">6,000</text>
<line x1="1367" y1="700.3" x2="1371" y2="700.3" stroke="#444" stroke-width="1.4"/>
<text x="1377.7" y="703.9" font-size="12" fill="#444">5,000</text>
<line x1="1367" y1="753.2" x2="1371" y2="753.2" stroke="#444" stroke-width="1.4"/>
<text x="1377.7" y="756.8000000000001" font-size="12" fill="#444">1,000</text>
<line x1="1367" y1="797.2" x2="1371" y2="797.2" stroke="#444" stroke-width="1.4"/>
<text x="1377.7" y="800.8000000000001" font-size="12" fill="#444">0,000</text>
<g clip-path="url(#cd)"><rect x="-0.86" y="793.6" width="2.92" height="3.6" fill="#d6e3f6" stroke="#a3b9dd" stroke-width="0.7"/>
<rect x="2.04" y="793.6" width="2.92" height="3.6" fill="#d6e3f6" stroke="#a3b9dd" stroke-width="0.7"/>
<rect x="4.94" y="793.7" width="2.92" height="3.5" fill="#d6e3f6" stroke="#a3b9dd" stroke-width="0.7"/>
<rect x="7.84" y="794.3" width="2.92" height="2.9" fill="#d6e3f6" stroke="#a3b9dd" stroke-width="0.7"/>
<rect x="10.84" y="794.2" width="2.92" height="3.0" fill="#d6e3f6" stroke="#a3b9dd" stroke-width="0.7"/>
<rect x="13.74" y="794.4" width="2.92" height="2.8" fill="#d6e3f6" stroke="#a3b9dd" stroke-width="0.7"/>
<rect x="16.64" y="794.8" width="2.92" height="2.4" fill="#d6e3f6" stroke="#a3b9dd" stroke-width="0.7"/>
<rect x="19.64" y="795.2" width="2.92" height="2.0" fill="#d6e3f6" stroke="#a3b9dd" stroke-width="0.7"/>
<rect x="22.54" y="795.3" width="2.92" height="1.9" fill="#d6e3f6" stroke="#a3b9dd" stroke-width="0.7"/>
<rect x="25.14" y="797.1" width="2.92" height="0.6" fill="#d6e3f6" stroke="#a3b9dd" stroke-width="0.7"/>
<rect x="27.94" y="797.2" width="2.92" height="1.7" fill="#d6e3f6" stroke="#a3b9dd" stroke-width="0.7"/>
<rect x="30.94" y="797.2" width="2.92" height="2.2" fill="#d6e3f6" stroke="#a3b9dd" stroke-width="0.7"/>
<rect x="33.94" y="797.2" width="2.92" height="1.8" fill="#d6e3f6" stroke="#a3b9dd" stroke-width="0.7"/>
<rect x="36.94" y="797.2" width="2.92" height="0.8" fill="#d6e3f6" stroke="#a3b9dd" stroke-width="0.7"/>
<rect x="39.94" y="796.4" width="2.92" height="0.8" fill="#d6e3f6" stroke="#a3b9dd" stroke-width="0.7"/>
<rect x="42.34" y="795.5" width="2.92" height="1.7" fill="#d6e3f6" stroke="#a3b9dd" stroke-width="0.7"/>
<rect x="45.14" y="794.9" width="2.92" height="2.3" fill="#d6e3f6" stroke="#a3b9dd" stroke-width="0.7"/>
<rect x="47.94" y="795.0" width="2.92" height="2.2" fill="#d6e3f6" stroke="#a3b9dd" stroke-width="0.7"/>
<rect x="50.94" y="795.6" width="2.92" height="1.6" fill="#d6e3f6" stroke="#a3b9dd" stroke-width="0.7"/>
<rect x="53.94" y="796.2" width="2.92" height="1.0" fill="#d6e3f6" stroke="#a3b9dd" stroke-width="0.7"/>
<rect x="56.94" y="797.1" width="2.92" height="0.6" fill="#d6e3f6" stroke="#a3b9dd" stroke-width="0.7"/>
<rect x="59.94" y="797.2" width="2.92" height="0.6" fill="#d6e3f6" stroke="#a3b9dd" stroke-width="0.7"/>
<rect x="62.94" y="797.2" width="2.92" height="0.6" fill="#d6e3f6" stroke="#a3b9dd" stroke-width="0.7"/>
<rect x="65.94" y="797.2" width="2.92" height="0.6" fill="#d6e3f6" stroke="#a3b9dd" stroke-width="0.7"/>
<rect x="68.94" y="797.2" width="2.92" height="0.6" fill="#d6e3f6" stroke="#a3b9dd" stroke-width="0.7"/>
<rect x="71.94" y="797.2" width="2.92" height="0.6" fill="#d6e3f6" stroke="#a3b9dd" stroke-width="0.7"/>
<rect x="74.94" y="797.2" width="2.92" height="0.8" fill="#d6e3f6" stroke="#a3b9dd" stroke-width="0.7"/>
<rect x="77.54" y="797.2" width="2.92" height="1.5" fill="#d6e3f6" stroke="#a3b9dd" stroke-width="0.7"/>
<rect x="80.34" y="797.2" width="2.92" height="0.8" fill="#d6e3f6" stroke="#a3b9dd" stroke-width="0.7"/>
<rect x="83.14" y="796.0" width="2.92" height="1.2" fill="#d6e3f6" stroke="#a3b9dd" stroke-width="0.7"/>
<rect x="86.04" y="795.1" width="2.92" height="2.1" fill="#d6e3f6" stroke="#a3b9dd" stroke-width="0.7"/>
<rect x="88.94" y="794.8" width="2.92" height="2.4" fill="#d6e3f6" stroke="#a3b9dd" stroke-width="0.7"/>
<rect x="91.94" y="794.8" width="2.92" height="2.4" fill="#d6e3f6" stroke="#a3b9dd" stroke-width="0.7"/>
<rect x="94.94" y="795.1" width="2.92" height="2.1" fill="#d6e3f6" stroke="#a3b9dd" stroke-width="0.7"/>
<rect x="97.94" y="795.2" width="2.92" height="2.0" fill="#d6e3f6" stroke="#a3b9dd" stroke-width="0.7"/>
<rect x="100.94" y="794.2" width="2.92" height="3.0" fill="#d6e3f6" stroke="#a3b9dd" stroke-width="0.7"/>
<rect x="103.94" y="793.1" width="2.92" height="4.1" fill="#d6e3f6" stroke="#a3b9dd" stroke-width="0.7"/>
<rect x="106.94" y="793.8" width="2.92" height="3.4" fill="#d6e3f6" stroke="#a3b9dd" stroke-width="0.7"/>
<rect x="109.94" y="793.7" width="2.92" height="3.5" fill="#d6e3f6" stroke="#a3b9dd" stroke-width="0.7"/>
<rect x="112.54" y="793.6" width="2.92" height="3.6" fill="#d6e3f6" stroke="#a3b9dd" stroke-width="0.7"/>
<rect x="115.54" y="794.3" width="2.92" height="2.9" fill="#d6e3f6" stroke="#a3b9dd" stroke-width="0.7"/>
<rect x="118.54" y="795.2" width="2.92" height="2.0" fill="#d6e3f6" stroke="#a3b9dd" stroke-width="0.7"/>
<rect x="121.34" y="795.3" width="2.92" height="1.9" fill="#d6e3f6" stroke="#a3b9dd" stroke-width="0.7"/>
<rect x="124.34" y="796.1" width="2.92" height="1.1" fill="#d6e3f6" stroke="#a3b9dd" stroke-width="0.7"/>
<rect x="127.34" y="796.3" width="2.92" height="0.9" fill="#d6e3f6" stroke="#a3b9dd" stroke-width="0.7"/>
<rect x="130.24" y="796.5" width="2.92" height="0.7" fill="#d6e3f6" stroke="#a3b9dd" stroke-width="0.7"/>
<rect x="133.24" y="797.0" width="2.92" height="0.6" fill="#d6e3f6" stroke="#a3b9dd" stroke-width="0.7"/>
<rect x="136.14" y="796.6" width="2.92" height="0.6" fill="#d6e3f6" stroke="#a3b9dd" stroke-width="0.7"/>
<rect x="139.14" y="796.4" width="2.92" height="0.8" fill="#d6e3f6" stroke="#a3b9dd" stroke-width="0.7"/>
<rect x="142.14" y="796.5" width="2.92" height="0.7" fill="#d6e3f6" stroke="#a3b9dd" stroke-width="0.7"/>
<rect x="145.14" y="796.2" width="2.92" height="1.0" fill="#d6e3f6" stroke="#a3b9dd" stroke-width="0.7"/>
<rect x="147.74" y="796.0" width="2.92" height="1.2" fill="#d6e3f6" stroke="#a3b9dd" stroke-width="0.7"/>
<rect x="150.54" y="795.2" width="2.92" height="2.0" fill="#d6e3f6" stroke="#a3b9dd" stroke-width="0.7"/>
<rect x="153.54" y="795.3" width="2.92" height="1.9" fill="#d6e3f6" stroke="#a3b9dd" stroke-width="0.7"/>
<rect x="156.54" y="795.7" width="2.92" height="1.5" fill="#d6e3f6" stroke="#a3b9dd" stroke-width="0.7"/>
<rect x="159.54" y="795.9" width="2.92" height="1.3" fill="#d6e3f6" stroke="#a3b9dd" stroke-width="0.7"/>
<rect x="162.54" y="796.1" width="2.92" height="1.1" fill="#d6e3f6" stroke="#a3b9dd" stroke-width="0.7"/>
<rect x="165.54" y="796.4" width="2.92" height="0.8" fill="#d6e3f6" stroke="#a3b9dd" stroke-width="0.7"/>
<rect x="168.54" y="796.8" width="2.92" height="0.6" fill="#d6e3f6" stroke="#a3b9dd" stroke-width="0.7"/>
<rect x="171.54" y="797.2" width="2.92" height="0.6" fill="#d6e3f6" stroke="#a3b9dd" stroke-width="0.7"/>
<rect x="174.34" y="794.5" width="2.92" height="2.7" fill="#d6e3f6" stroke="#a3b9dd" stroke-width="0.7"/>
<rect x="177.34" y="793.0" width="2.92" height="4.2" fill="#d6e3f6" stroke="#a3b9dd" stroke-width="0.7"/>
<rect x="180.34" y="793.5" width="2.92" height="3.7" fill="#d6e3f6" stroke="#a3b9dd" stroke-width="0.7"/>
<rect x="182.94" y="794.3" width="2.92" height="2.9" fill="#d6e3f6" stroke="#a3b9dd" stroke-width="0.7"/>
<rect x="185.94" y="795.1" width="2.92" height="2.1" fill="#d6e3f6" stroke="#a3b9dd" stroke-width="0.7"/>
<rect x="188.84" y="795.5" width="2.92" height="1.7" fill="#d6e3f6" stroke="#a3b9dd" stroke-width="0.7"/>
<rect x="191.54" y="794.7" width="2.92" height="2.5" fill="#d6e3f6" stroke="#a3b9dd" stroke-width="0.7"/>
<rect x="194.44" y="793.0" width="2.92" height="4.2" fill="#d6e3f6" stroke="#a3b9dd" stroke-width="0.7"/>
<rect x="197.34" y="791.1" width="2.92" height="6.1" fill="#d6e3f6" stroke="#a3b9dd" stroke-width="0.7"/>
<rect x="200.14" y="787.3" width="2.92" height="9.9" fill="#d6e3f6" stroke="#a3b9dd" stroke-width="0.7"/>
<rect x="203.04" y="786.4" width="2.92" height="10.8" fill="#d6e3f6" stroke="#a3b9dd" stroke-width="0.7"/>
<rect x="206.04" y="785.8" width="2.92" height="11.4" fill="#d6e3f6" stroke="#a3b9dd" stroke-width="0.7"/>
<rect x="209.04" y="785.2" width="2.92" height="12.0" fill="#d6e3f6" stroke="#a3b9dd" stroke-width="0.7"/>
<rect x="211.94" y="784.6" width="2.92" height="12.6" fill="#d6e3f6" stroke="#a3b9dd" stroke-width="0.7"/>
<rect x="214.54" y="785.1" width="2.92" height="12.1" fill="#d6e3f6" stroke="#a3b9dd" stroke-width="0.7"/>
<rect x="217.34" y="787.2" width="2.92" height="10.0" fill="#d6e3f6" stroke="#a3b9dd" stroke-width="0.7"/>
<rect x="220.14" y="787.6" width="2.92" height="9.6" fill="#d6e3f6" stroke="#a3b9dd" stroke-width="0.7"/>
<rect x="222.94" y="787.6" width="2.92" height="9.6" fill="#d6e3f6" stroke="#a3b9dd" stroke-width="0.7"/>
<rect x="225.94" y="788.8" width="2.92" height="8.4" fill="#d6e3f6" stroke="#a3b9dd" stroke-width="0.7"/>
<rect x="228.94" y="791.0" width="2.92" height="6.2" fill="#d6e3f6" stroke="#a3b9dd" stroke-width="0.7"/>
<rect x="231.94" y="793.1" width="2.92" height="4.1" fill="#d6e3f6" stroke="#a3b9dd" stroke-width="0.7"/>
<rect x="234.94" y="795.1" width="2.92" height="2.1" fill="#d6e3f6" stroke="#a3b9dd" stroke-width="0.7"/>
<rect x="237.94" y="797.2" width="2.92" height="2.1" fill="#d6e3f6" stroke="#a3b9dd" stroke-width="0.7"/>
<rect x="241.04" y="797.2" width="2.92" height="5.0" fill="#d6e3f6" stroke="#a3b9dd" stroke-width="0.7"/>
<rect x="244.04" y="797.2" width="2.92" height="9.0" fill="#d6e3f6" stroke="#a3b9dd" stroke-width="0.7"/>
<rect x="247.34" y="797.2" width="2.92" height="12.3" fill="#d6e3f6" stroke="#a3b9dd" stroke-width="0.7"/>
<rect x="250.34" y="797.2" width="2.92" height="13.6" fill="#d6e3f6" stroke="#a3b9dd" stroke-width="0.7"/>
<rect x="252.74" y="797.2" width="2.92" height="15.7" fill="#d6e3f6" stroke="#a3b9dd" stroke-width="0.7"/>
<rect x="255.54" y="797.2" width="2.92" height="13.7" fill="#d6e3f6" stroke="#a3b9dd" stroke-width="0.7"/>
<rect x="258.34" y="797.2" width="2.92" height="11.1" fill="#d6e3f6" stroke="#a3b9dd" stroke-width="0.7"/>
<rect x="261.24" y="797.2" width="2.92" height="8.6" fill="#d6e3f6" stroke="#a3b9dd" stroke-width="0.7"/>
<rect x="264.34" y="797.2" width="2.92" height="7.2" fill="#d6e3f6" stroke="#a3b9dd" stroke-width="0.7"/>
<rect x="267.34" y="797.2" width="2.92" height="6.0" fill="#d6e3f6" stroke="#a3b9dd" stroke-width="0.7"/>
<rect x="270.34" y="797.2" width="2.92" height="5.4" fill="#d6e3f6" stroke="#a3b9dd" stroke-width="0.7"/>
<rect x="273.24" y="797.2" width="2.92" height="3.2" fill="#d6e3f6" stroke="#a3b9dd" stroke-width="0.7"/>
<rect x="276.14" y="797.2" width="2.92" height="0.6" fill="#d6e3f6" stroke="#a3b9dd" stroke-width="0.7"/>
<rect x="279.04" y="796.6" width="2.92" height="0.6" fill="#d6e3f6" stroke="#a3b9dd" stroke-width="0.7"/>
<rect x="281.94" y="797.0" width="2.92" height="0.6" fill="#d6e3f6" stroke="#a3b9dd" stroke-width="0.7"/>
<rect x="284.94" y="796.0" width="2.92" height="1.2" fill="#d6e3f6" stroke="#a3b9dd" stroke-width="0.7"/>
<rect x="287.34" y="796.2" width="2.92" height="1.0" fill="#d6e3f6" stroke="#a3b9dd" stroke-width="0.7"/>
<rect x="290.14" y="797.2" width="2.92" height="1.4" fill="#d6e3f6" stroke="#a3b9dd" stroke-width="0.7"/>
<rect x="292.94" y="797.2" width="2.92" height="3.2" fill="#d6e3f6" stroke="#a3b9dd" stroke-width="0.7"/>
<rect x="295.94" y="797.2" width="2.92" height="3.1" fill="#d6e3f6" stroke="#a3b9dd" stroke-width="0.7"/>
<rect x="298.94" y="797.2" width="2.92" height="4.2" fill="#d6e3f6" stroke="#a3b9dd" stroke-width="0.7"/>
<rect x="301.94" y="797.2" width="2.92" height="4.5" fill="#d6e3f6" stroke="#a3b9dd" stroke-width="0.7"/>
<rect x="304.94" y="797.2" width="2.92" height="3.9" fill="#d6e3f6" stroke="#a3b9dd" stroke-width="0.7"/>
<rect x="307.94" y="797.2" width="2.92" height="2.0" fill="#d6e3f6" stroke="#a3b9dd" stroke-width="0.7"/>
<rect x="310.94" y="797.2" width="2.92" height="0.8" fill="#d6e3f6" stroke="#a3b9dd" stroke-width="0.7"/>
<rect x="313.94" y="797.1" width="2.92" height="0.6" fill="#d6e3f6" stroke="#a3b9dd" stroke-width="0.7"/>
<rect x="316.94" y="796.9" width="2.92" height="0.6" fill="#d6e3f6" stroke="#a3b9dd" stroke-width="0.7"/>
<rect x="319.34" y="796.4" width="2.92" height="0.8" fill="#d6e3f6" stroke="#a3b9dd" stroke-width="0.7"/>
<rect x="321.94" y="795.7" width="2.92" height="1.5" fill="#d6e3f6" stroke="#a3b9dd" stroke-width="0.7"/>
<rect x="324.94" y="796.7" width="2.92" height="0.6" fill="#d6e3f6" stroke="#a3b9dd" stroke-width="0.7"/>
<rect x="327.94" y="796.3" width="2.92" height="0.9" fill="#d6e3f6" stroke="#a3b9dd" stroke-width="0.7"/>
<rect x="330.94" y="796.3" width="2.92" height="0.9" fill="#d6e3f6" stroke="#a3b9dd" stroke-width="0.7"/>
<rect x="333.94" y="796.0" width="2.92" height="1.2" fill="#d6e3f6" stroke="#a3b9dd" stroke-width="0.7"/>
<rect x="336.94" y="795.5" width="2.92" height="1.7" fill="#d6e3f6" stroke="#a3b9dd" stroke-width="0.7"/>
<rect x="339.94" y="794.8" width="2.92" height="2.4" fill="#d6e3f6" stroke="#a3b9dd" stroke-width="0.7"/>
<rect x="342.94" y="793.7" width="2.92" height="3.5" fill="#d6e3f6" stroke="#a3b9dd" stroke-width="0.7"/>
<rect x="345.94" y="794.2" width="2.92" height="3.0" fill="#d6e3f6" stroke="#a3b9dd" stroke-width="0.7"/>
<rect x="348.94" y="795.2" width="2.92" height="2.0" fill="#d6e3f6" stroke="#a3b9dd" stroke-width="0.7"/>
<rect x="351.94" y="796.1" width="2.92" height="1.1" fill="#d6e3f6" stroke="#a3b9dd" stroke-width="0.7"/>
<rect x="354.34" y="795.9" width="2.92" height="1.3" fill="#d6e3f6" stroke="#a3b9dd" stroke-width="0.7"/>
<rect x="357.14" y="795.5" width="2.92" height="1.7" fill="#d6e3f6" stroke="#a3b9dd" stroke-width="0.7"/>
<rect x="360.04" y="795.4" width="2.92" height="1.8" fill="#d6e3f6" stroke="#a3b9dd" stroke-width="0.7"/>
<rect x="362.94" y="795.3" width="2.92" height="1.9" fill="#d6e3f6" stroke="#a3b9dd" stroke-width="0.7"/>
<rect x="365.94" y="796.1" width="2.92" height="1.1" fill="#d6e3f6" stroke="#a3b9dd" stroke-width="0.7"/>
<rect x="368.94" y="796.6" width="2.92" height="0.6" fill="#d6e3f6" stroke="#a3b9dd" stroke-width="0.7"/>
<rect x="371.94" y="797.2" width="2.92" height="0.6" fill="#d6e3f6" stroke="#a3b9dd" stroke-width="0.7"/>
<rect x="374.94" y="797.2" width="2.92" height="0.7" fill="#d6e3f6" stroke="#a3b9dd" stroke-width="0.7"/>
<rect x="377.94" y="797.2" width="2.92" height="0.6" fill="#d6e3f6" stroke="#a3b9dd" stroke-width="0.7"/>
<rect x="380.94" y="797.2" width="2.92" height="1.0" fill="#d6e3f6" stroke="#a3b9dd" stroke-width="0.7"/>
<rect x="383.94" y="797.2" width="2.92" height="1.5" fill="#d6e3f6" stroke="#a3b9dd" stroke-width="0.7"/>
<rect x="386.94" y="797.2" width="2.92" height="2.8" fill="#d6e3f6" stroke="#a3b9dd" stroke-width="0.7"/>
<rect x="389.34" y="797.2" width="2.92" height="4.1" fill="#d6e3f6" stroke="#a3b9dd" stroke-width="0.7"/>
<rect x="392.14" y="797.2" width="2.92" height="4.5" fill="#d6e3f6" stroke="#a3b9dd" stroke-width="0.7"/>
<rect x="395.04" y="797.2" width="2.92" height="4.6" fill="#d6e3f6" stroke="#a3b9dd" stroke-width="0.7"/>
<rect x="397.94" y="797.2" width="2.92" height="3.7" fill="#d6e3f6" stroke="#a3b9dd" stroke-width="0.7"/>
<rect x="400.94" y="797.2" width="2.92" height="3.1" fill="#d6e3f6" stroke="#a3b9dd" stroke-width="0.7"/>
<rect x="403.94" y="797.2" width="2.92" height="3.2" fill="#d6e3f6" stroke="#a3b9dd" stroke-width="0.7"/>
<rect x="406.94" y="797.2" width="2.92" height="2.4" fill="#d6e3f6" stroke="#a3b9dd" stroke-width="0.7"/>
<rect x="409.94" y="797.2" width="2.92" height="1.3" fill="#d6e3f6" stroke="#a3b9dd" stroke-width="0.7"/>
<rect x="412.94" y="797.0" width="2.92" height="0.6" fill="#d6e3f6" stroke="#a3b9dd" stroke-width="0.7"/>
<rect x="415.94" y="796.1" width="2.92" height="1.1" fill="#d6e3f6" stroke="#a3b9dd" stroke-width="0.7"/>
<rect x="418.94" y="795.7" width="2.92" height="1.5" fill="#d6e3f6" stroke="#a3b9dd" stroke-width="0.7"/>
<rect x="421.94" y="795.2" width="2.92" height="2.0" fill="#d6e3f6" stroke="#a3b9dd" stroke-width="0.7"/>
<rect x="424.34" y="795.0" width="2.92" height="2.2" fill="#d6e3f6" stroke="#a3b9dd" stroke-width="0.7"/>
<rect x="427.14" y="795.7" width="2.92" height="1.5" fill="#d6e3f6" stroke="#a3b9dd" stroke-width="0.7"/>
<rect x="430.04" y="795.4" width="2.92" height="1.8" fill="#d6e3f6" stroke="#a3b9dd" stroke-width="0.7"/>
<rect x="432.94" y="795.2" width="2.92" height="2.0" fill="#d6e3f6" stroke="#a3b9dd" stroke-width="0.7"/>
<rect x="435.94" y="795.2" width="2.92" height="2.0" fill="#d6e3f6" stroke="#a3b9dd" stroke-width="0.7"/>
<rect x="438.94" y="795.3" width="2.92" height="1.9" fill="#d6e3f6" stroke="#a3b9dd" stroke-width="0.7"/>
<rect x="441.94" y="795.2" width="2.92" height="2.0" fill="#d6e3f6" stroke="#a3b9dd" stroke-width="0.7"/>
<rect x="444.94" y="794.0" width="2.92" height="3.2" fill="#d6e3f6" stroke="#a3b9dd" stroke-width="0.7"/>
<rect x="447.94" y="793.6" width="2.92" height="3.6" fill="#d6e3f6" stroke="#a3b9dd" stroke-width="0.7"/>
<rect x="450.94" y="793.1" width="2.92" height="4.1" fill="#d6e3f6" stroke="#a3b9dd" stroke-width="0.7"/>
<rect x="453.94" y="792.5" width="2.92" height="4.7" fill="#d6e3f6" stroke="#a3b9dd" stroke-width="0.7"/>
<rect x="456.94" y="791.6" width="2.92" height="5.6" fill="#d6e3f6" stroke="#a3b9dd" stroke-width="0.7"/>
<rect x="459.34" y="791.0" width="2.92" height="6.2" fill="#d6e3f6" stroke="#a3b9dd" stroke-width="0.7"/>
<rect x="462.14" y="792.4" width="2.92" height="4.8" fill="#d6e3f6" stroke="#a3b9dd" stroke-width="0.7"/>
<rect x="465.04" y="795.2" width="2.92" height="2.0" fill="#d6e3f6" stroke="#a3b9dd" stroke-width="0.7"/>
<rect x="467.94" y="796.4" width="2.92" height="0.8" fill="#d6e3f6" stroke="#a3b9dd" stroke-width="0.7"/>
<rect x="470.94" y="797.2" width="2.92" height="0.6" fill="#d6e3f6" stroke="#a3b9dd" stroke-width="0.7"/>
<rect x="473.94" y="797.2" width="2.92" height="0.6" fill="#d6e3f6" stroke="#a3b9dd" stroke-width="0.7"/>
<rect x="476.94" y="797.2" width="2.92" height="0.6" fill="#d6e3f6" stroke="#a3b9dd" stroke-width="0.7"/>
<rect x="479.94" y="797.2" width="2.92" height="0.8" fill="#d6e3f6" stroke="#a3b9dd" stroke-width="0.7"/>
<rect x="482.94" y="797.2" width="2.92" height="1.3" fill="#d6e3f6" stroke="#a3b9dd" stroke-width="0.7"/>
<rect x="485.94" y="797.2" width="2.92" height="2.0" fill="#d6e3f6" stroke="#a3b9dd" stroke-width="0.7"/>
<rect x="488.94" y="797.2" width="2.92" height="2.8" fill="#d6e3f6" stroke="#a3b9dd" stroke-width="0.7"/>
<rect x="491.94" y="797.2" width="2.92" height="2.8" fill="#d6e3f6" stroke="#a3b9dd" stroke-width="0.7"/>
<rect x="494.34" y="797.2" width="2.92" height="2.8" fill="#d6e3f6" stroke="#a3b9dd" stroke-width="0.7"/>
<rect x="497.14" y="797.2" width="2.92" height="3.1" fill="#d6e3f6" stroke="#a3b9dd" stroke-width="0.7"/>
<rect x="500.04" y="797.2" width="2.92" height="2.9" fill="#d6e3f6" stroke="#a3b9dd" stroke-width="0.7"/>
<rect x="502.94" y="797.2" width="2.92" height="2.6" fill="#d6e3f6" stroke="#a3b9dd" stroke-width="0.7"/>
<rect x="505.94" y="797.2" width="2.92" height="2.3" fill="#d6e3f6" stroke="#a3b9dd" stroke-width="0.7"/>
<rect x="508.94" y="797.2" width="2.92" height="2.1" fill="#d6e3f6" stroke="#a3b9dd" stroke-width="0.7"/>
<rect x="511.94" y="797.2" width="2.92" height="2.4" fill="#d6e3f6" stroke="#a3b9dd" stroke-width="0.7"/>
<rect x="514.94" y="797.2" width="2.92" height="2.4" fill="#d6e3f6" stroke="#a3b9dd" stroke-width="0.7"/>
<rect x="517.94" y="797.2" width="2.92" height="3.1" fill="#d6e3f6" stroke="#a3b9dd" stroke-width="0.7"/>
<rect x="520.94" y="797.2" width="2.92" height="3.7" fill="#d6e3f6" stroke="#a3b9dd" stroke-width="0.7"/>
<rect x="523.94" y="797.2" width="2.92" height="3.2" fill="#d6e3f6" stroke="#a3b9dd" stroke-width="0.7"/>
<rect x="526.94" y="797.2" width="2.92" height="2.9" fill="#d6e3f6" stroke="#a3b9dd" stroke-width="0.7"/>
<rect x="529.34" y="797.2" width="2.92" height="2.7" fill="#d6e3f6" stroke="#a3b9dd" stroke-width="0.7"/>
<rect x="532.14" y="797.2" width="2.92" height="2.4" fill="#d6e3f6" stroke="#a3b9dd" stroke-width="0.7"/>
<rect x="535.04" y="797.2" width="2.92" height="2.0" fill="#d6e3f6" stroke="#a3b9dd" stroke-width="0.7"/>
<rect x="537.94" y="797.2" width="2.92" height="2.4" fill="#d6e3f6" stroke="#a3b9dd" stroke-width="0.7"/>
<rect x="540.94" y="797.2" width="2.92" height="3.7" fill="#d6e3f6" stroke="#a3b9dd" stroke-width="0.7"/>
<rect x="543.94" y="797.2" width="2.92" height="5.8" fill="#d6e3f6" stroke="#a3b9dd" stroke-width="0.7"/>
<rect x="546.94" y="797.2" width="2.92" height="7.3" fill="#d6e3f6" stroke="#a3b9dd" stroke-width="0.7"/>
<rect x="549.94" y="797.2" width="2.92" height="6.9" fill="#d6e3f6" stroke="#a3b9dd" stroke-width="0.7"/>
<rect x="552.94" y="797.2" width="2.92" height="7.4" fill="#d6e3f6" stroke="#a3b9dd" stroke-width="0.7"/>
<rect x="555.94" y="797.2" width="2.92" height="7.1" fill="#d6e3f6" stroke="#a3b9dd" stroke-width="0.7"/>
<rect x="558.94" y="797.2" width="2.92" height="6.3" fill="#d6e3f6" stroke="#a3b9dd" stroke-width="0.7"/>
<rect x="561.54" y="797.2" width="2.92" height="5.4" fill="#d6e3f6" stroke="#a3b9dd" stroke-width="0.7"/>
<rect x="564.24" y="797.2" width="2.92" height="3.9" fill="#d6e3f6" stroke="#a3b9dd" stroke-width="0.7"/>
<rect x="567.04" y="797.2" width="2.92" height="2.5" fill="#d6e3f6" stroke="#a3b9dd" stroke-width="0.7"/>
<rect x="569.94" y="797.2" width="2.92" height="2.6" fill="#d6e3f6" stroke="#a3b9dd" stroke-width="0.7"/>
<rect x="572.94" y="797.2" width="2.92" height="1.9" fill="#d6e3f6" stroke="#a3b9dd" stroke-width="0.7"/>
<rect x="575.94" y="797.2" width="2.92" height="0.8" fill="#d6e3f6" stroke="#a3b9dd" stroke-width="0.7"/>
<rect x="578.94" y="796.8" width="2.92" height="0.6" fill="#d6e3f6" stroke="#a3b9dd" stroke-width="0.7"/>
<rect x="581.94" y="795.7" width="2.92" height="1.5" fill="#d6e3f6" stroke="#a3b9dd" stroke-width="0.7"/>
<rect x="584.94" y="796.0" width="2.92" height="1.2" fill="#d6e3f6" stroke="#a3b9dd" stroke-width="0.7"/>
<rect x="587.94" y="795.0" width="2.92" height="2.2" fill="#d6e3f6" stroke="#a3b9dd" stroke-width="0.7"/>
<rect x="590.94" y="794.5" width="2.92" height="2.7" fill="#d6e3f6" stroke="#a3b9dd" stroke-width="0.7"/>
<rect x="593.94" y="794.7" width="2.92" height="2.5" fill="#d6e3f6" stroke="#a3b9dd" stroke-width="0.7"/>
<rect x="596.94" y="794.3" width="2.92" height="2.9" fill="#d6e3f6" stroke="#a3b9dd" stroke-width="0.7"/>
<rect x="599.54" y="794.0" width="2.92" height="3.2" fill="#d6e3f6" stroke="#a3b9dd" stroke-width="0.7"/>
<rect x="602.14" y="793.8" width="2.92" height="3.4" fill="#d6e3f6" stroke="#a3b9dd" stroke-width="0.7"/>
<rect x="605.04" y="793.6" width="2.92" height="3.6" fill="#d6e3f6" stroke="#a3b9dd" stroke-width="0.7"/>
<rect x="607.94" y="792.1" width="2.92" height="5.1" fill="#d6e3f6" stroke="#a3b9dd" stroke-width="0.7"/>
<rect x="610.94" y="791.7" width="2.92" height="5.5" fill="#d6e3f6" stroke="#a3b9dd" stroke-width="0.7"/>
<rect x="613.94" y="792.0" width="2.92" height="5.2" fill="#d6e3f6" stroke="#a3b9dd" stroke-width="0.7"/>
<rect x="616.94" y="791.4" width="2.92" height="5.8" fill="#d6e3f6" stroke="#a3b9dd" stroke-width="0.7"/>
<rect x="619.94" y="791.4" width="2.92" height="5.8" fill="#d6e3f6" stroke="#a3b9dd" stroke-width="0.7"/>
<rect x="622.94" y="791.5" width="2.92" height="5.7" fill="#d6e3f6" stroke="#a3b9dd" stroke-width="0.7"/>
<rect x="625.94" y="792.1" width="2.92" height="5.1" fill="#d6e3f6" stroke="#a3b9dd" stroke-width="0.7"/>
<rect x="628.94" y="792.8" width="2.92" height="4.4" fill="#d6e3f6" stroke="#a3b9dd" stroke-width="0.7"/>
<rect x="631.94" y="793.6" width="2.92" height="3.6" fill="#d6e3f6" stroke="#a3b9dd" stroke-width="0.7"/>
<rect x="634.34" y="794.1" width="2.92" height="3.1" fill="#d6e3f6" stroke="#a3b9dd" stroke-width="0.7"/>
<rect x="637.14" y="794.4" width="2.92" height="2.8" fill="#d6e3f6" stroke="#a3b9dd" stroke-width="0.7"/>
<rect x="640.04" y="794.6" width="2.92" height="2.6" fill="#d6e3f6" stroke="#a3b9dd" stroke-width="0.7"/>
<rect x="642.94" y="794.8" width="2.92" height="2.4" fill="#d6e3f6" stroke="#a3b9dd" stroke-width="0.7"/>
<rect x="645.94" y="795.9" width="2.92" height="1.3" fill="#d6e3f6" stroke="#a3b9dd" stroke-width="0.7"/>
<rect x="648.94" y="797.2" width="2.92" height="0.6" fill="#d6e3f6" stroke="#a3b9dd" stroke-width="0.7"/>
<rect x="651.94" y="797.2" width="2.92" height="0.7" fill="#d6e3f6" stroke="#a3b9dd" stroke-width="0.7"/>
<rect x="654.94" y="797.2" width="2.92" height="0.6" fill="#d6e3f6" stroke="#a3b9dd" stroke-width="0.7"/>
<rect x="657.94" y="797.2" width="2.92" height="0.6" fill="#d6e3f6" stroke="#a3b9dd" stroke-width="0.7"/>
<rect x="660.94" y="797.2" width="2.92" height="0.6" fill="#d6e3f6" stroke="#a3b9dd" stroke-width="0.7"/>
<rect x="663.94" y="796.9" width="2.92" height="0.6" fill="#d6e3f6" stroke="#a3b9dd" stroke-width="0.7"/>
<rect x="666.94" y="797.2" width="2.92" height="0.6" fill="#d6e3f6" stroke="#a3b9dd" stroke-width="0.7"/>
<rect x="669.34" y="797.2" width="2.92" height="0.6" fill="#d6e3f6" stroke="#a3b9dd" stroke-width="0.7"/>
<rect x="672.14" y="797.2" width="2.92" height="0.9" fill="#d6e3f6" stroke="#a3b9dd" stroke-width="0.7"/>
<rect x="675.04" y="797.2" width="2.92" height="1.1" fill="#d6e3f6" stroke="#a3b9dd" stroke-width="0.7"/>
<rect x="677.94" y="797.2" width="2.92" height="1.5" fill="#d6e3f6" stroke="#a3b9dd" stroke-width="0.7"/>
<rect x="680.94" y="797.2" width="2.92" height="2.1" fill="#d6e3f6" stroke="#a3b9dd" stroke-width="0.7"/>
<rect x="683.94" y="797.2" width="2.92" height="1.3" fill="#d6e3f6" stroke="#a3b9dd" stroke-width="0.7"/>
<rect x="686.94" y="797.2" width="2.92" height="0.9" fill="#d6e3f6" stroke="#a3b9dd" stroke-width="0.7"/>
<rect x="689.94" y="797.2" width="2.92" height="0.7" fill="#d6e3f6" stroke="#a3b9dd" stroke-width="0.7"/>
<rect x="692.94" y="797.2" width="2.92" height="0.6" fill="#d6e3f6" stroke="#a3b9dd" stroke-width="0.7"/>
<rect x="695.94" y="796.9" width="2.92" height="0.6" fill="#d6e3f6" stroke="#a3b9dd" stroke-width="0.7"/>
<rect x="698.94" y="796.7" width="2.92" height="0.6" fill="#d6e3f6" stroke="#a3b9dd" stroke-width="0.7"/>
<rect x="701.94" y="796.9" width="2.92" height="0.6" fill="#d6e3f6" stroke="#a3b9dd" stroke-width="0.7"/>
<rect x="704.34" y="797.2" width="2.92" height="0.6" fill="#d6e3f6" stroke="#a3b9dd" stroke-width="0.7"/>
<rect x="707.14" y="797.2" width="2.92" height="0.6" fill="#d6e3f6" stroke="#a3b9dd" stroke-width="0.7"/>
<rect x="710.04" y="797.2" width="2.92" height="0.6" fill="#d6e3f6" stroke="#a3b9dd" stroke-width="0.7"/>
<rect x="712.94" y="797.2" width="2.92" height="0.6" fill="#d6e3f6" stroke="#a3b9dd" stroke-width="0.7"/>
<rect x="715.94" y="797.2" width="2.92" height="0.6" fill="#d6e3f6" stroke="#a3b9dd" stroke-width="0.7"/>
<rect x="718.94" y="797.2" width="2.92" height="0.6" fill="#d6e3f6" stroke="#a3b9dd" stroke-width="0.7"/>
<rect x="721.94" y="797.2" width="2.92" height="0.6" fill="#d6e3f6" stroke="#a3b9dd" stroke-width="0.7"/>
<rect x="724.94" y="796.9" width="2.92" height="0.6" fill="#d6e3f6" stroke="#a3b9dd" stroke-width="0.7"/>
<rect x="727.94" y="796.6" width="2.92" height="0.6" fill="#d6e3f6" stroke="#a3b9dd" stroke-width="0.7"/>
<rect x="730.94" y="796.9" width="2.92" height="0.6" fill="#d6e3f6" stroke="#a3b9dd" stroke-width="0.7"/>
<rect x="733.94" y="797.1" width="2.92" height="0.6" fill="#d6e3f6" stroke="#a3b9dd" stroke-width="0.7"/>
<rect x="736.94" y="797.2" width="2.92" height="0.6" fill="#d6e3f6" stroke="#a3b9dd" stroke-width="0.7"/>
<rect x="739.34" y="797.2" width="2.92" height="0.6" fill="#d6e3f6" stroke="#a3b9dd" stroke-width="0.7"/>
<rect x="742.14" y="797.2" width="2.92" height="0.6" fill="#d6e3f6" stroke="#a3b9dd" stroke-width="0.7"/>
<rect x="745.04" y="797.2" width="2.92" height="1.0" fill="#d6e3f6" stroke="#a3b9dd" stroke-width="0.7"/>
<rect x="747.94" y="797.2" width="2.92" height="0.9" fill="#d6e3f6" stroke="#a3b9dd" stroke-width="0.7"/>
<rect x="750.94" y="797.2" width="2.92" height="0.6" fill="#d6e3f6" stroke="#a3b9dd" stroke-width="0.7"/>
<rect x="753.94" y="797.2" width="2.92" height="0.6" fill="#d6e3f6" stroke="#a3b9dd" stroke-width="0.7"/>
<rect x="756.94" y="797.2" width="2.92" height="0.6" fill="#d6e3f6" stroke="#a3b9dd" stroke-width="0.7"/>
<rect x="759.94" y="797.2" width="2.92" height="0.6" fill="#d6e3f6" stroke="#a3b9dd" stroke-width="0.7"/>
<rect x="762.94" y="797.0" width="2.92" height="0.6" fill="#d6e3f6" stroke="#a3b9dd" stroke-width="0.7"/>
<rect x="765.94" y="797.2" width="2.92" height="0.6" fill="#d6e3f6" stroke="#a3b9dd" stroke-width="0.7"/>
<rect x="768.94" y="796.9" width="2.92" height="0.6" fill="#d6e3f6" stroke="#a3b9dd" stroke-width="0.7"/>
<rect x="771.94" y="793.4" width="2.92" height="3.8" fill="#d6e3f6" stroke="#a3b9dd" stroke-width="0.7"/>
<rect x="774.34" y="791.2" width="2.92" height="6.0" fill="#d6e3f6" stroke="#a3b9dd" stroke-width="0.7"/>
<rect x="777.14" y="790.4" width="2.92" height="6.8" fill="#d6e3f6" stroke="#a3b9dd" stroke-width="0.7"/>
<rect x="780.04" y="790.4" width="2.92" height="6.8" fill="#d6e3f6" stroke="#a3b9dd" stroke-width="0.7"/>
<rect x="782.94" y="788.2" width="2.92" height="9.0" fill="#d6e3f6" stroke="#a3b9dd" stroke-width="0.7"/>
<rect x="785.94" y="787.1" width="2.92" height="10.1" fill="#d6e3f6" stroke="#a3b9dd" stroke-width="0.7"/>
<rect x="788.94" y="783.0" width="2.92" height="14.2" fill="#d6e3f6" stroke="#a3b9dd" stroke-width="0.7"/>
<rect x="791.94" y="779.3" width="2.92" height="17.9" fill="#d6e3f6" stroke="#a3b9dd" stroke-width="0.7"/>
<rect x="794.94" y="780.8" width="2.92" height="16.4" fill="#d6e3f6" stroke="#a3b9dd" stroke-width="0.7"/>
<rect x="797.94" y="783.6" width="2.92" height="13.6" fill="#d6e3f6" stroke="#a3b9dd" stroke-width="0.7"/>
<rect x="800.94" y="786.2" width="2.92" height="11.0" fill="#d6e3f6" stroke="#a3b9dd" stroke-width="0.7"/>
<rect x="803.94" y="788.5" width="2.92" height="8.7" fill="#d6e3f6" stroke="#a3b9dd" stroke-width="0.7"/>
<rect x="806.94" y="790.4" width="2.92" height="6.8" fill="#d6e3f6" stroke="#a3b9dd" stroke-width="0.7"/>
<rect x="809.34" y="793.1" width="2.92" height="4.1" fill="#d6e3f6" stroke="#a3b9dd" stroke-width="0.7"/>
<rect x="812.14" y="795.7" width="2.92" height="1.5" fill="#d6e3f6" stroke="#a3b9dd" stroke-width="0.7"/>
<rect x="815.04" y="797.2" width="2.92" height="0.6" fill="#d6e3f6" stroke="#a3b9dd" stroke-width="0.7"/>
<rect x="817.94" y="797.2" width="2.92" height="0.8" fill="#d6e3f6" stroke="#a3b9dd" stroke-width="0.7"/>
<rect x="820.94" y="797.2" width="2.92" height="1.9" fill="#d6e3f6" stroke="#a3b9dd" stroke-width="0.7"/>
<rect x="823.94" y="797.2" width="2.92" height="3.0" fill="#d6e3f6" stroke="#a3b9dd" stroke-width="0.7"/>
<rect x="826.94" y="797.2" width="2.92" height="4.1" fill="#d6e3f6" stroke="#a3b9dd" stroke-width="0.7"/>
<rect x="829.94" y="797.2" width="2.92" height="8.5" fill="#d6e3f6" stroke="#a3b9dd" stroke-width="0.7"/>
<rect x="832.94" y="797.2" width="2.92" height="12.0" fill="#d6e3f6" stroke="#a3b9dd" stroke-width="0.7"/>
<rect x="835.94" y="797.2" width="2.92" height="14.0" fill="#d6e3f6" stroke="#a3b9dd" stroke-width="0.7"/>
<rect x="838.94" y="797.2" width="2.92" height="15.4" fill="#d6e3f6" stroke="#a3b9dd" stroke-width="0.7"/>
<rect x="841.94" y="797.2" width="2.92" height="14.9" fill="#d6e3f6" stroke="#a3b9dd" stroke-width="0.7"/>
<rect x="844.34" y="797.2" width="2.92" height="13.4" fill="#d6e3f6" stroke="#a3b9dd" stroke-width="0.7"/>
<rect x="847.14" y="797.2" width="2.92" height="11.9" fill="#d6e3f6" stroke="#a3b9dd" stroke-width="0.7"/>
<rect x="850.04" y="797.2" width="2.92" height="10.8" fill="#d6e3f6" stroke="#a3b9dd" stroke-width="0.7"/>
<rect x="852.94" y="797.2" width="2.92" height="9.6" fill="#d6e3f6" stroke="#a3b9dd" stroke-width="0.7"/>
<rect x="855.94" y="797.2" width="2.92" height="7.1" fill="#d6e3f6" stroke="#a3b9dd" stroke-width="0.7"/>
<rect x="858.94" y="797.2" width="2.92" height="5.1" fill="#d6e3f6" stroke="#a3b9dd" stroke-width="0.7"/>
<rect x="861.94" y="797.2" width="2.92" height="1.9" fill="#d6e3f6" stroke="#a3b9dd" stroke-width="0.7"/>
<rect x="864.94" y="794.4" width="2.92" height="2.8" fill="#d6e3f6" stroke="#a3b9dd" stroke-width="0.7"/>
<rect x="867.94" y="793.3" width="2.92" height="3.9" fill="#d6e3f6" stroke="#a3b9dd" stroke-width="0.7"/>
<rect x="870.94" y="791.7" width="2.92" height="5.5" fill="#d6e3f6" stroke="#a3b9dd" stroke-width="0.7"/>
<rect x="873.94" y="791.3" width="2.92" height="5.9" fill="#d6e3f6" stroke="#a3b9dd" stroke-width="0.7"/>
<rect x="876.94" y="792.7" width="2.92" height="4.5" fill="#d6e3f6" stroke="#a3b9dd" stroke-width="0.7"/>
<rect x="879.34" y="793.0" width="2.92" height="4.2" fill="#d6e3f6" stroke="#a3b9dd" stroke-width="0.7"/>
<rect x="882.14" y="794.6" width="2.92" height="2.6" fill="#d6e3f6" stroke="#a3b9dd" stroke-width="0.7"/>
<rect x="885.04" y="795.5" width="2.92" height="1.7" fill="#d6e3f6" stroke="#a3b9dd" stroke-width="0.7"/>
<rect x="887.94" y="796.3" width="2.92" height="0.9" fill="#d6e3f6" stroke="#a3b9dd" stroke-width="0.7"/>
<rect x="890.94" y="797.2" width="2.92" height="0.6" fill="#d6e3f6" stroke="#a3b9dd" stroke-width="0.7"/>
<rect x="893.94" y="797.2" width="2.92" height="1.7" fill="#d6e3f6" stroke="#a3b9dd" stroke-width="0.7"/>
<rect x="896.94" y="797.2" width="2.92" height="2.0" fill="#d6e3f6" stroke="#a3b9dd" stroke-width="0.7"/>
<rect x="899.94" y="797.2" width="2.92" height="3.4" fill="#d6e3f6" stroke="#a3b9dd" stroke-width="0.7"/>
<rect x="902.94" y="797.2" width="2.92" height="4.6" fill="#d6e3f6" stroke="#a3b9dd" stroke-width="0.7"/>
<rect x="905.94" y="797.2" width="2.92" height="4.5" fill="#d6e3f6" stroke="#a3b9dd" stroke-width="0.7"/>
<rect x="908.94" y="797.2" width="2.92" height="1.7" fill="#d6e3f6" stroke="#a3b9dd" stroke-width="0.7"/>
<rect x="911.94" y="797.1" width="2.92" height="0.6" fill="#d6e3f6" stroke="#a3b9dd" stroke-width="0.7"/>
<rect x="914.34" y="796.0" width="2.92" height="1.2" fill="#d6e3f6" stroke="#a3b9dd" stroke-width="0.7"/>
<rect x="917.14" y="794.5" width="2.92" height="2.7" fill="#d6e3f6" stroke="#a3b9dd" stroke-width="0.7"/>
<rect x="920.04" y="793.3" width="2.92" height="3.9" fill="#d6e3f6" stroke="#a3b9dd" stroke-width="0.7"/>
<rect x="922.94" y="792.5" width="2.92" height="4.7" fill="#d6e3f6" stroke="#a3b9dd" stroke-width="0.7"/>
<rect x="925.94" y="792.0" width="2.92" height="5.2" fill="#d6e3f6" stroke="#a3b9dd" stroke-width="0.7"/>
<rect x="928.94" y="791.9" width="2.92" height="5.3" fill="#d6e3f6" stroke="#a3b9dd" stroke-width="0.7"/>
<rect x="931.94" y="789.7" width="2.92" height="7.5" fill="#d6e3f6" stroke="#a3b9dd" stroke-width="0.7"/>
<rect x="934.94" y="790.0" width="2.92" height="7.2" fill="#d6e3f6" stroke="#a3b9dd" stroke-width="0.7"/>
<rect x="937.94" y="791.4" width="2.92" height="5.8" fill="#d6e3f6" stroke="#a3b9dd" stroke-width="0.7"/>
<rect x="940.94" y="793.4" width="2.92" height="3.8" fill="#d6e3f6" stroke="#a3b9dd" stroke-width="0.7"/>
<rect x="943.94" y="794.5" width="2.92" height="2.7" fill="#d6e3f6" stroke="#a3b9dd" stroke-width="0.7"/>
<rect x="946.94" y="794.1" width="2.92" height="3.1" fill="#d6e3f6" stroke="#a3b9dd" stroke-width="0.7"/>
<rect x="949.34" y="792.5" width="2.92" height="4.7" fill="#d6e3f6" stroke="#a3b9dd" stroke-width="0.7"/>
<rect x="951.94" y="789.7" width="2.92" height="7.5" fill="#d6e3f6" stroke="#a3b9dd" stroke-width="0.7"/>
<rect x="954.94" y="790.2" width="2.92" height="7.0" fill="#d6e3f6" stroke="#a3b9dd" stroke-width="0.7"/>
<rect x="957.94" y="790.1" width="2.92" height="7.1" fill="#d6e3f6" stroke="#a3b9dd" stroke-width="0.7"/>
<rect x="960.94" y="787.9" width="2.92" height="9.3" fill="#d6e3f6" stroke="#a3b9dd" stroke-width="0.7"/>
<rect x="963.94" y="785.1" width="2.92" height="12.1" fill="#d6e3f6" stroke="#a3b9dd" stroke-width="0.7"/>
<rect x="966.94" y="784.3" width="2.92" height="12.9" fill="#d6e3f6" stroke="#a3b9dd" stroke-width="0.7"/>
<rect x="969.94" y="783.9" width="2.92" height="13.3" fill="#d6e3f6" stroke="#a3b9dd" stroke-width="0.7"/>
<rect x="972.94" y="784.7" width="2.92" height="12.5" fill="#d6e3f6" stroke="#a3b9dd" stroke-width="0.7"/>
<rect x="975.94" y="786.4" width="2.92" height="10.8" fill="#d6e3f6" stroke="#a3b9dd" stroke-width="0.7"/>
<rect x="978.94" y="785.9" width="2.92" height="11.3" fill="#d6e3f6" stroke="#a3b9dd" stroke-width="0.7"/>
<rect x="981.94" y="786.4" width="2.92" height="10.8" fill="#d6e3f6" stroke="#a3b9dd" stroke-width="0.7"/>
<rect x="984.34" y="791.6" width="2.92" height="5.6" fill="#d6e3f6" stroke="#a3b9dd" stroke-width="0.7"/>
<rect x="987.14" y="792.5" width="2.92" height="4.7" fill="#d6e3f6" stroke="#a3b9dd" stroke-width="0.7"/>
<rect x="990.04" y="794.2" width="2.92" height="3.0" fill="#d6e3f6" stroke="#a3b9dd" stroke-width="0.7"/>
<rect x="992.94" y="796.8" width="2.92" height="0.6" fill="#d6e3f6" stroke="#a3b9dd" stroke-width="0.7"/>
<rect x="995.94" y="797.2" width="2.92" height="1.4" fill="#d6e3f6" stroke="#a3b9dd" stroke-width="0.7"/>
<rect x="998.94" y="797.2" width="2.92" height="3.3" fill="#d6e3f6" stroke="#a3b9dd" stroke-width="0.7"/>
<rect x="1001.94" y="797.2" width="2.92" height="6.1" fill="#d6e3f6" stroke="#a3b9dd" stroke-width="0.7"/>
<rect x="1004.94" y="797.2" width="2.92" height="9.5" fill="#d6e3f6" stroke="#a3b9dd" stroke-width="0.7"/>
<rect x="1007.94" y="797.2" width="2.92" height="13.1" fill="#d6e3f6" stroke="#a3b9dd" stroke-width="0.7"/>
<rect x="1010.94" y="797.2" width="2.92" height="13.0" fill="#d6e3f6" stroke="#a3b9dd" stroke-width="0.7"/>
<rect x="1013.94" y="797.2" width="2.92" height="11.4" fill="#d6e3f6" stroke="#a3b9dd" stroke-width="0.7"/>
<rect x="1016.94" y="797.2" width="2.92" height="10.4" fill="#d6e3f6" stroke="#a3b9dd" stroke-width="0.7"/>
<rect x="1019.34" y="797.2" width="2.92" height="10.8" fill="#d6e3f6" stroke="#a3b9dd" stroke-width="0.7"/>
<rect x="1022.14" y="797.2" width="2.92" height="10.7" fill="#d6e3f6" stroke="#a3b9dd" stroke-width="0.7"/>
<rect x="1025.04" y="797.2" width="2.92" height="9.3" fill="#d6e3f6" stroke="#a3b9dd" stroke-width="0.7"/>
<rect x="1027.94" y="797.2" width="2.92" height="8.7" fill="#d6e3f6" stroke="#a3b9dd" stroke-width="0.7"/>
<rect x="1030.94" y="797.2" width="2.92" height="7.3" fill="#d6e3f6" stroke="#a3b9dd" stroke-width="0.7"/>
<rect x="1033.94" y="797.2" width="2.92" height="5.2" fill="#d6e3f6" stroke="#a3b9dd" stroke-width="0.7"/>
<rect x="1036.94" y="797.2" width="2.92" height="4.3" fill="#d6e3f6" stroke="#a3b9dd" stroke-width="0.7"/>
<rect x="1039.94" y="797.2" width="2.92" height="4.3" fill="#d6e3f6" stroke="#a3b9dd" stroke-width="0.7"/>
<rect x="1042.94" y="797.2" width="2.92" height="4.0" fill="#d6e3f6" stroke="#a3b9dd" stroke-width="0.7"/>
<rect x="1045.94" y="797.2" width="2.92" height="4.2" fill="#d6e3f6" stroke="#a3b9dd" stroke-width="0.7"/>
<rect x="1048.94" y="797.2" width="2.92" height="3.5" fill="#d6e3f6" stroke="#a3b9dd" stroke-width="0.7"/>
<rect x="1051.34" y="797.2" width="2.92" height="3.4" fill="#d6e3f6" stroke="#a3b9dd" stroke-width="0.7"/>
<rect x="1054.14" y="797.2" width="2.92" height="3.6" fill="#d6e3f6" stroke="#a3b9dd" stroke-width="0.7"/>
<rect x="1057.04" y="797.2" width="2.92" height="3.6" fill="#d6e3f6" stroke="#a3b9dd" stroke-width="0.7"/>
<rect x="1059.94" y="797.2" width="2.92" height="4.9" fill="#d6e3f6" stroke="#a3b9dd" stroke-width="0.7"/>
<rect x="1062.94" y="797.2" width="2.92" height="5.6" fill="#d6e3f6" stroke="#a3b9dd" stroke-width="0.7"/>
<rect x="1065.94" y="797.2" width="2.92" height="5.1" fill="#d6e3f6" stroke="#a3b9dd" stroke-width="0.7"/>
<rect x="1068.94" y="797.2" width="2.92" height="4.9" fill="#d6e3f6" stroke="#a3b9dd" stroke-width="0.7"/>
<rect x="1071.94" y="797.2" width="2.92" height="5.1" fill="#d6e3f6" stroke="#a3b9dd" stroke-width="0.7"/>
<rect x="1074.94" y="797.2" width="2.92" height="6.5" fill="#d6e3f6" stroke="#a3b9dd" stroke-width="0.7"/>
<rect x="1077.94" y="797.2" width="2.92" height="7.5" fill="#d6e3f6" stroke="#a3b9dd" stroke-width="0.7"/>
<rect x="1080.94" y="797.2" width="2.92" height="6.1" fill="#d6e3f6" stroke="#a3b9dd" stroke-width="0.7"/>
<rect x="1083.94" y="797.2" width="2.92" height="4.2" fill="#d6e3f6" stroke="#a3b9dd" stroke-width="0.7"/>
<rect x="1086.34" y="797.2" width="2.92" height="3.4" fill="#d6e3f6" stroke="#a3b9dd" stroke-width="0.7"/>
<rect x="1089.14" y="797.2" width="2.92" height="3.2" fill="#d6e3f6" stroke="#a3b9dd" stroke-width="0.7"/>
<rect x="1092.04" y="797.2" width="2.92" height="2.8" fill="#d6e3f6" stroke="#a3b9dd" stroke-width="0.7"/>
<rect x="1094.94" y="797.2" width="2.92" height="2.3" fill="#d6e3f6" stroke="#a3b9dd" stroke-width="0.7"/>
<rect x="1097.94" y="797.2" width="2.92" height="1.6" fill="#d6e3f6" stroke="#a3b9dd" stroke-width="0.7"/>
<rect x="1100.94" y="797.2" width="2.92" height="1.5" fill="#d6e3f6" stroke="#a3b9dd" stroke-width="0.7"/>
<rect x="1103.94" y="797.2" width="2.92" height="0.7" fill="#d6e3f6" stroke="#a3b9dd" stroke-width="0.7"/>
<rect x="1106.94" y="797.2" width="2.92" height="1.4" fill="#d6e3f6" stroke="#a3b9dd" stroke-width="0.7"/>
<rect x="1109.94" y="797.2" width="2.92" height="1.6" fill="#d6e3f6" stroke="#a3b9dd" stroke-width="0.7"/>
<rect x="1112.94" y="797.2" width="2.92" height="1.7" fill="#d6e3f6" stroke="#a3b9dd" stroke-width="0.7"/>
<rect x="1115.94" y="797.2" width="2.92" height="1.0" fill="#d6e3f6" stroke="#a3b9dd" stroke-width="0.7"/>
<rect x="1118.94" y="797.2" width="2.92" height="1.0" fill="#d6e3f6" stroke="#a3b9dd" stroke-width="0.7"/>
<rect x="1121.34" y="797.2" width="2.92" height="1.4" fill="#d6e3f6" stroke="#a3b9dd" stroke-width="0.7"/>
<rect x="1124.14" y="797.2" width="2.92" height="3.9" fill="#d6e3f6" stroke="#a3b9dd" stroke-width="0.7"/>
<rect x="1127.04" y="797.2" width="2.92" height="7.5" fill="#d6e3f6" stroke="#a3b9dd" stroke-width="0.7"/>
<rect x="1129.94" y="797.2" width="2.92" height="6.1" fill="#d6e3f6" stroke="#a3b9dd" stroke-width="0.7"/>
<rect x="1132.94" y="797.2" width="2.92" height="4.7" fill="#d6e3f6" stroke="#a3b9dd" stroke-width="0.7"/>
<rect x="1135.94" y="797.2" width="2.92" height="5.0" fill="#d6e3f6" stroke="#a3b9dd" stroke-width="0.7"/>
<rect x="1138.94" y="797.2" width="2.92" height="4.9" fill="#d6e3f6" stroke="#a3b9dd" stroke-width="0.7"/>
<rect x="1141.94" y="797.2" width="2.92" height="4.1" fill="#d6e3f6" stroke="#a3b9dd" stroke-width="0.7"/>
<rect x="1144.94" y="797.2" width="2.92" height="2.6" fill="#d6e3f6" stroke="#a3b9dd" stroke-width="0.7"/>
<rect x="1147.94" y="797.2" width="2.92" height="1.2" fill="#d6e3f6" stroke="#a3b9dd" stroke-width="0.7"/>
<rect x="1150.94" y="797.2" width="2.92" height="0.6" fill="#d6e3f6" stroke="#a3b9dd" stroke-width="0.7"/>
<rect x="1153.94" y="795.1" width="2.92" height="2.1" fill="#d6e3f6" stroke="#a3b9dd" stroke-width="0.7"/>
<rect x="1156.34" y="791.4" width="2.92" height="5.8" fill="#d6e3f6" stroke="#a3b9dd" stroke-width="0.7"/>
<rect x="1159.14" y="789.4" width="2.92" height="7.8" fill="#d6e3f6" stroke="#a3b9dd" stroke-width="0.7"/>
<rect x="1162.04" y="788.7" width="2.92" height="8.5" fill="#d6e3f6" stroke="#a3b9dd" stroke-width="0.7"/>
<rect x="1164.94" y="788.3" width="2.92" height="8.9" fill="#d6e3f6" stroke="#a3b9dd" stroke-width="0.7"/>
<rect x="1167.94" y="790.0" width="2.92" height="7.2" fill="#d6e3f6" stroke="#a3b9dd" stroke-width="0.7"/>
<rect x="1170.94" y="791.1" width="2.92" height="6.1" fill="#d6e3f6" stroke="#a3b9dd" stroke-width="0.7"/>
<rect x="1173.94" y="792.5" width="2.92" height="4.7" fill="#d6e3f6" stroke="#a3b9dd" stroke-width="0.7"/>
<rect x="1176.94" y="793.8" width="2.92" height="3.4" fill="#d6e3f6" stroke="#a3b9dd" stroke-width="0.7"/>
<rect x="1179.94" y="795.3" width="2.92" height="1.9" fill="#d6e3f6" stroke="#a3b9dd" stroke-width="0.7"/>
<rect x="1182.94" y="797.2" width="2.92" height="0.6" fill="#d6e3f6" stroke="#a3b9dd" stroke-width="0.7"/>
<rect x="1185.94" y="797.2" width="2.92" height="2.2" fill="#d6e3f6" stroke="#a3b9dd" stroke-width="0.7"/>
<rect x="1188.94" y="797.2" width="2.92" height="2.3" fill="#d6e3f6" stroke="#a3b9dd" stroke-width="0.7"/>
<rect x="1191.34" y="797.2" width="2.92" height="2.2" fill="#d6e3f6" stroke="#a3b9dd" stroke-width="0.7"/>
<rect x="1194.14" y="797.2" width="2.92" height="1.5" fill="#d6e3f6" stroke="#a3b9dd" stroke-width="0.7"/>
<rect x="1197.04" y="797.2" width="2.92" height="1.8" fill="#d6e3f6" stroke="#a3b9dd" stroke-width="0.7"/>
<rect x="1199.94" y="797.2" width="2.92" height="1.3" fill="#d6e3f6" stroke="#a3b9dd" stroke-width="0.7"/>
<rect x="1202.94" y="797.2" width="2.92" height="1.6" fill="#d6e3f6" stroke="#a3b9dd" stroke-width="0.7"/>
<rect x="1205.94" y="797.2" width="2.92" height="2.2" fill="#d6e3f6" stroke="#a3b9dd" stroke-width="0.7"/>
<rect x="1208.94" y="797.2" width="2.92" height="2.1" fill="#d6e3f6" stroke="#a3b9dd" stroke-width="0.7"/>
<rect x="1211.94" y="797.2" width="2.92" height="2.8" fill="#d6e3f6" stroke="#a3b9dd" stroke-width="0.7"/>
<rect x="1214.94" y="797.2" width="2.92" height="3.1" fill="#d6e3f6" stroke="#a3b9dd" stroke-width="0.7"/>
<rect x="1217.94" y="797.2" width="2.92" height="3.4" fill="#d6e3f6" stroke="#a3b9dd" stroke-width="0.7"/>
<rect x="1220.94" y="797.2" width="2.92" height="2.0" fill="#d6e3f6" stroke="#a3b9dd" stroke-width="0.7"/>
<rect x="1223.94" y="797.2" width="2.92" height="2.0" fill="#d6e3f6" stroke="#a3b9dd" stroke-width="0.7"/>
<rect x="1226.54" y="797.2" width="2.92" height="1.8" fill="#d6e3f6" stroke="#a3b9dd" stroke-width="0.7"/>
<rect x="1229.14" y="797.2" width="2.92" height="0.8" fill="#d6e3f6" stroke="#a3b9dd" stroke-width="0.7"/>
<rect x="1232.04" y="797.2" width="2.92" height="0.6" fill="#d6e3f6" stroke="#a3b9dd" stroke-width="0.7"/>
<rect x="1234.94" y="797.2" width="2.92" height="0.9" fill="#d6e3f6" stroke="#a3b9dd" stroke-width="0.7"/>
<rect x="1237.94" y="797.2" width="2.92" height="2.5" fill="#d6e3f6" stroke="#a3b9dd" stroke-width="0.7"/>
<polyline points="0.6,817.2 3.5,816.3 6.4,815.5 9.3,815.3 12.3,814.5 15.2,814.0 18.1,813.9 21.1,813.8 24.0,813.4 26.6,815.2 29.4,817.4 32.4,818.5 35.4,818.5 38.4,817.7 41.4,815.9 43.8,814.6 46.6,813.4 49.4,813.0 52.4,813.2 55.4,813.5 58.4,814.4 61.4,814.6 64.4,814.7 67.4,814.7 70.4,815.0 73.4,815.3 76.4,815.8 79.0,816.8 81.8,816.4 84.6,814.1 87.5,812.6 90.4,811.7 93.4,811.2 96.4,811.0 99.4,810.6 102.4,808.7 105.4,806.7 108.4,806.5 111.4,805.5 114.0,804.5 117.0,804.5 120.0,804.9 122.8,804.6 125.8,805.1 128.8,805.1 131.7,805.1 134.7,805.6 137.6,804.9 140.6,804.6 143.6,804.4 146.6,803.9 149.2,803.4 152.0,802.2 155.0,801.7 158.0,801.8 161.0,801.6 164.0,801.6 167.0,801.7 170.0,802.0 173.0,802.9 175.8,799.1 178.8,796.5 181.8,796.2 184.4,796.2 187.4,796.4 190.3,796.5 193.0,795.0 195.9,792.3 198.8,788.9 201.6,782.6 204.5,779.0 207.5,775.5 210.5,772.0 213.4,768.2 216.0,765.7 218.8,765.2 221.6,763.3 224.4,760.9 227.4,759.9 230.4,760.6 233.4,761.8 236.4,763.1 239.4,767.9 242.5,772.0 245.5,778.2 248.8,784.6 251.8,789.3 254.2,795.4 257.0,796.8 259.8,796.9 262.7,796.7 265.8,797.0 268.8,797.4 271.8,798.0 274.7,796.7 277.6,793.7 280.5,792.7 283.4,793.1 286.4,791.9 288.8,791.7 291.6,794.5 294.4,797.1 297.4,797.8 300.4,800.0 303.4,801.4 306.4,801.7 309.4,800.4 312.4,799.3 315.4,798.4 318.4,798.2 320.8,797.4 323.4,796.4 326.4,797.2 329.4,796.5 332.4,796.3 335.4,795.7 338.4,794.8 341.4,793.5 344.4,791.6 347.4,791.3 350.4,791.8 353.4,792.4 355.8,791.9 358.6,791.1 361.5,790.5 364.4,790.0 367.4,790.5 370.4,790.9 373.4,792.2 376.4,792.5 379.4,792.6 382.4,793.1 385.4,794.1 388.4,796.0 390.8,798.4 393.6,799.9 396.5,801.1 399.4,801.2 402.4,801.4 405.4,802.3 408.4,802.1 411.4,801.3 414.4,799.8 417.4,798.6 420.4,797.8 423.4,796.9 425.8,796.1 428.6,796.4 431.5,795.7 434.4,794.9 437.4,794.4 440.4,794.1 443.4,793.5 446.4,791.4 449.4,790.2 452.4,788.6 455.4,786.9 458.4,784.6 460.8,782.5 463.6,782.7 466.5,784.9 469.4,785.9 472.4,787.3 475.4,787.3 478.4,787.5 481.4,788.1 484.4,788.9 487.4,790.1 490.4,791.6 493.4,792.3 495.8,793.0 498.6,794.1 501.5,794.5 504.4,795.0 507.4,795.3 510.4,795.5 513.4,796.4 516.4,797.1 519.4,798.5 522.4,800.0 525.4,800.3 528.4,800.7 530.8,801.2 533.6,801.5 536.5,801.7 539.4,802.6 542.4,804.9 545.4,808.4 548.4,811.7 551.4,813.1 554.4,815.4 557.4,816.9 560.4,817.7 563.0,818.1 565.7,817.5 568.5,816.9 571.4,817.5 574.4,817.3 577.4,816.4 580.4,815.1 583.4,813.7 586.4,813.6 589.4,812.1 592.4,810.9 595.4,810.5 598.4,809.3 601.0,808.3 603.6,807.2 606.5,806.1 609.4,803.3 612.4,801.6 615.4,800.5 618.4,798.4 621.4,797.0 624.4,795.7 627.4,795.0 630.4,794.6 633.4,794.5 635.8,794.2 638.6,793.8 641.5,793.3 644.4,793.0 647.4,793.7 650.4,795.1 653.4,795.9 656.4,795.8 659.4,796.1 662.4,795.5 665.4,795.1 668.4,795.6 670.8,796.1 673.6,796.7 676.5,797.1 679.4,798.0 682.4,799.0 685.4,798.6 688.4,798.5 691.4,798.4 694.4,798.2 697.4,797.4 700.4,797.0 703.4,797.2 705.8,797.6 708.6,797.5 711.5,798.1 714.4,798.4 717.4,798.6 720.4,798.5 723.4,798.2 726.4,797.7 729.4,797.2 732.4,797.4 735.4,797.6 738.4,798.1 740.8,798.4 743.6,798.6 746.5,799.3 749.4,799.5 752.4,799.3 755.4,799.4 758.4,799.4 761.4,799.0 764.4,798.7 767.4,799.1 770.4,798.6 773.4,794.1 775.8,790.4 778.6,787.9 781.5,786.2 784.4,781.8 787.4,778.2 790.4,770.5 793.4,762.3 796.4,759.7 799.4,759.2 802.4,759.0 805.4,759.1 808.4,759.4 810.8,761.0 813.6,763.2 816.5,765.2 819.4,765.8 822.4,767.4 825.4,769.2 828.4,771.3 831.4,777.9 834.4,784.4 837.4,789.9 840.4,795.2 843.4,798.4 845.8,800.2 848.6,801.7 851.5,803.2 854.4,804.4 857.4,803.8 860.4,803.0 863.4,800.3 866.4,794.9 869.4,792.8 872.4,789.9 875.4,788.0 878.4,788.3 880.8,787.5 883.6,788.4 886.5,788.9 889.4,789.5 892.4,791.0 895.4,792.7 898.4,793.4 901.4,795.7 904.4,798.0 907.4,799.0 910.4,796.7 913.4,794.9 915.8,793.4 918.6,791.3 921.5,789.1 924.4,787.2 927.4,785.4 930.4,783.9 933.4,779.9 936.4,778.3 939.4,778.3 942.4,779.4 945.4,779.8 948.4,778.6 950.8,775.8 953.4,771.1 956.4,769.9 959.4,768.1 962.4,763.5 965.4,757.7 968.4,753.7 971.4,750.0 974.4,747.7 977.4,746.7 980.4,743.3 983.4,741.1 985.8,744.9 988.6,744.6 991.5,745.6 994.4,748.1 997.4,750.2 1000.4,753.0 1003.4,757.3 1006.4,763.1 1009.4,770.0 1012.4,773.2 1015.4,774.4 1018.4,775.9 1020.8,779.0 1023.6,781.6 1026.5,782.6 1029.4,784.1 1032.4,784.6 1035.4,783.8 1038.4,784.0 1041.4,785.0 1044.4,785.7 1047.4,786.9 1050.4,787.2 1052.8,788.0 1055.6,789.0 1058.5,789.9 1061.4,792.4 1064.4,794.5 1067.4,795.3 1070.4,796.3 1073.4,797.7 1076.4,800.8 1079.4,803.6 1082.4,803.8 1085.4,802.9 1087.8,803.0 1090.6,803.5 1093.5,803.8 1096.4,803.9 1099.4,803.7 1102.4,803.9 1105.4,803.3 1108.4,804.4 1111.4,805.0 1114.4,805.5 1117.4,805.1 1120.4,805.3 1122.8,806.0 1125.6,809.5 1128.5,815.0 1131.4,815.1 1134.4,814.9 1137.4,816.5 1140.4,817.5 1143.4,817.8 1146.4,816.9 1149.4,815.8 1152.4,815.0 1155.4,812.1 1157.8,806.9 1160.6,802.9 1163.5,800.2 1166.4,797.6 1169.4,797.4 1172.4,797.0 1175.4,797.2 1178.4,797.7 1181.4,798.7 1184.4,800.8 1187.4,803.3 1190.4,804.1 1192.8,804.6 1195.6,804.2 1198.5,804.9 1201.4,804.7 1204.4,805.5 1207.4,806.6 1210.4,807.0 1213.4,808.4 1216.4,809.5 1219.4,810.6 1222.4,809.7 1225.4,810.3 1228.0,810.5 1230.6,809.7 1233.5,809.4 1236.4,810.1 1239.4,812.3" fill="none" stroke="#2993ae" stroke-width="2.1" stroke-linejoin="round"/>
<polyline points="0.6,820.8 3.5,819.9 6.4,819.0 9.3,818.3 12.3,817.5 15.2,816.8 18.1,816.2 21.1,815.7 24.0,815.3 26.6,815.2 29.4,815.7 32.4,816.2 35.4,816.7 38.4,816.9 41.4,816.7 43.8,816.3 46.6,815.7 49.4,815.2 52.4,814.8 55.4,814.5 58.4,814.5 61.4,814.5 64.4,814.5 67.4,814.6 70.4,814.7 73.4,814.8 76.4,815.0 79.0,815.4 81.8,815.6 84.6,815.3 87.5,814.7 90.4,814.1 93.4,813.6 96.4,813.0 99.4,812.5 102.4,811.8 105.4,810.8 108.4,809.9 111.4,809.0 114.0,808.1 117.0,807.4 120.0,806.9 122.8,806.4 125.8,806.2 128.8,805.9 131.7,805.8 134.7,805.7 137.6,805.6 140.6,805.4 143.6,805.2 146.6,804.9 149.2,804.6 152.0,804.1 155.0,803.7 158.0,803.3 161.0,802.9 164.0,802.7 167.0,802.5 170.0,802.4 173.0,802.5 175.8,801.8 178.8,800.8 181.8,799.8 184.4,799.1 187.4,798.6 190.3,798.1 193.0,797.5 195.9,796.5 198.8,795.0 201.6,792.5 204.5,789.8 207.5,786.9 210.5,783.9 213.4,780.8 216.0,777.8 218.8,775.3 221.6,772.9 224.4,770.5 227.4,768.4 230.4,766.8 233.4,765.8 236.4,765.3 239.4,765.8 242.5,767.0 245.5,769.3 248.8,772.3 251.8,775.7 254.2,779.7 257.0,783.1 259.8,785.9 262.7,788.0 265.8,789.8 268.8,791.3 271.8,792.7 274.7,793.5 277.6,793.5 280.5,793.4 283.4,793.3 286.4,793.0 288.8,792.8 291.6,793.1 294.4,793.9 297.4,794.7 300.4,795.7 303.4,796.9 306.4,797.8 309.4,798.3 312.4,798.5 315.4,798.5 318.4,798.4 320.8,798.2 323.4,797.9 326.4,797.7 329.4,797.5 332.4,797.3 335.4,797.0 338.4,796.5 341.4,795.9 344.4,795.1 347.4,794.3 350.4,793.8 353.4,793.5 355.8,793.2 358.6,792.8 361.5,792.3 364.4,791.9 367.4,791.6 370.4,791.4 373.4,791.6 376.4,791.8 379.4,791.9 382.4,792.2 385.4,792.6 388.4,793.2 390.8,794.3 393.6,795.4 396.5,796.5 399.4,797.5 402.4,798.3 405.4,799.1 408.4,799.7 411.4,800.0 414.4,800.0 417.4,799.7 420.4,799.3 423.4,798.8 425.8,798.3 428.6,797.9 431.5,797.5 434.4,797.0 437.4,796.4 440.4,796.0 443.4,795.5 446.4,794.7 449.4,793.8 452.4,792.7 455.4,791.6 458.4,790.2 460.8,788.6 463.6,787.4 466.5,786.9 469.4,786.7 472.4,786.8 475.4,786.9 478.4,787.1 481.4,787.3 484.4,787.6 487.4,788.1 490.4,788.8 493.4,789.5 495.8,790.2 498.6,791.0 501.5,791.7 504.4,792.3 507.4,792.9 510.4,793.4 513.4,794.0 516.4,794.6 519.4,795.4 522.4,796.3 525.4,797.1 528.4,797.8 530.8,798.5 533.6,799.1 536.5,799.6 539.4,800.2 542.4,801.2 545.4,802.6 548.4,804.4 551.4,806.2 554.4,808.0 557.4,809.8 560.4,811.4 563.0,812.7 565.7,813.7 568.5,814.3 571.4,814.9 574.4,815.4 577.4,815.6 580.4,815.5 583.4,815.1 586.4,814.8 589.4,814.3 592.4,813.6 595.4,813.0 598.4,812.3 601.0,811.5 603.6,810.6 606.5,809.7 609.4,808.4 612.4,807.1 615.4,805.8 618.4,804.3 621.4,802.8 624.4,801.4 627.4,800.1 630.4,799.0 633.4,798.1 635.8,797.3 638.6,796.6 641.5,796.0 644.4,795.4 647.4,795.0 650.4,795.1 653.4,795.2 656.4,795.3 659.4,795.5 662.4,795.5 665.4,795.4 668.4,795.5 670.8,795.6 673.6,795.8 676.5,796.1 679.4,796.4 682.4,797.0 685.4,797.3 688.4,797.5 691.4,797.7 694.4,797.8 697.4,797.7 700.4,797.6 703.4,797.5 705.8,797.5 708.6,797.5 711.5,797.6 714.4,797.8 717.4,797.9 720.4,798.1 723.4,798.1 726.4,798.0 729.4,797.9 732.4,797.8 735.4,797.7 738.4,797.8 740.8,797.9 743.6,798.1 746.5,798.3 749.4,798.5 752.4,798.7 755.4,798.8 758.4,798.9 761.4,799.0 764.4,798.9 767.4,798.9 770.4,798.9 773.4,797.9 775.8,796.4 778.6,794.7 781.5,793.0 784.4,790.8 787.4,788.2 790.4,784.7 793.4,780.2 796.4,776.1 799.4,772.7 802.4,770.0 805.4,767.8 808.4,766.1 810.8,765.1 813.6,764.7 816.5,764.8 819.4,765.0 822.4,765.5 825.4,766.2 828.4,767.3 831.4,769.4 834.4,772.4 837.4,775.9 840.4,779.7 843.4,783.5 845.8,786.8 848.6,789.8 851.5,792.5 854.4,794.9 857.4,796.6 860.4,797.9 863.4,798.4 866.4,797.7 869.4,796.7 872.4,795.4 875.4,793.9 878.4,792.8 880.8,791.7 883.6,791.0 886.5,790.6 889.4,790.4 892.4,790.5 895.4,790.9 898.4,791.4 901.4,792.3 904.4,793.4 907.4,794.6 910.4,795.0 913.4,795.0 915.8,794.7 918.6,794.0 921.5,793.0 924.4,791.8 927.4,790.5 930.4,789.2 933.4,787.3 936.4,785.5 939.4,784.1 942.4,783.2 945.4,782.5 948.4,781.7 950.8,780.5 953.4,778.6 956.4,776.9 959.4,775.1 962.4,772.8 965.4,769.8 968.4,766.6 971.4,763.2 974.4,760.1 977.4,757.4 980.4,754.6 983.4,751.9 985.8,750.5 988.6,749.3 991.5,748.6 994.4,748.5 997.4,748.8 1000.4,749.7 1003.4,751.2 1006.4,753.6 1009.4,756.9 1012.4,760.1 1015.4,763.0 1018.4,765.6 1020.8,768.3 1023.6,770.9 1026.5,773.3 1029.4,775.4 1032.4,777.3 1035.4,778.6 1038.4,779.7 1041.4,780.7 1044.4,781.7 1047.4,782.8 1050.4,783.6 1052.8,784.5 1055.6,785.4 1058.5,786.3 1061.4,787.5 1064.4,788.9 1067.4,790.2 1070.4,791.4 1073.4,792.7 1076.4,794.3 1079.4,796.2 1082.4,797.7 1085.4,798.7 1087.8,799.6 1090.6,800.4 1093.5,801.1 1096.4,801.6 1099.4,802.0 1102.4,802.4 1105.4,802.6 1108.4,803.0 1111.4,803.4 1114.4,803.8 1117.4,804.1 1120.4,804.3 1122.8,804.6 1125.6,805.6 1128.5,807.5 1131.4,809.0 1134.4,810.2 1137.4,811.4 1140.4,812.7 1143.4,813.7 1146.4,814.3 1149.4,814.6 1152.4,814.7 1155.4,814.2 1157.8,812.7 1160.6,810.8 1163.5,808.7 1166.4,806.4 1169.4,804.6 1172.4,803.1 1175.4,801.9 1178.4,801.1 1181.4,800.6 1184.4,800.6 1187.4,801.2 1190.4,801.8 1192.8,802.3 1195.6,802.7 1198.5,803.1 1201.4,803.5 1204.4,803.9 1207.4,804.4 1210.4,804.9 1213.4,805.6 1216.4,806.4 1219.4,807.2 1222.4,807.7 1225.4,808.2 1228.0,808.7 1230.6,808.9 1233.5,809.0 1236.4,809.2 1239.4,809.8" fill="none" stroke="#4a4462" stroke-width="2.1" stroke-linejoin="round"/></g>
<polygon points="1366,279.5 1374,270 1412,270 1412,289.5 1374,289.5" fill="#f06060"/>
<text x="1377.5" y="284" font-size="12" fill="#7a1818">10,015</text>
<polygon points="1366.8,290.5 1374.4,281.2 1412,281.2 1412,299.8 1374.4,299.8" fill="#000"/>
<text x="1377" y="294.8" font-size="12" font-weight="bold" fill="#fff">9,836</text>
<rect x="0" y="0" width="296" height="16" fill="#fff"/><rect x="0" y="16" width="230" height="16" fill="#fff"/>
<g stroke="#dc5c66" stroke-width="1" fill="none"><line x1="4.5" y1="8" x2="4.5" y2="12.7"/><rect x="3.5" y="4.5" width="2" height="3.5"/><line x1="8.5" y1="2" x2="8.5" y2="6.5"/><line x1="8.5" y1="10" x2="8.5" y2="12.7"/><rect x="7.5" y="6.5" width="2" height="3.5"/><line x1="12.5" y1="4.2" x2="12.5" y2="8.5"/><rect x="11.5" y="8.5" width="2" height="3.8"/></g>
<g stroke="#333" stroke-width="1.3" fill="none" stroke-linecap="round"><circle cx="9.4" cy="23.5" r="4.8"/><polyline points="9.4,20.4 9.4,23.8 11.7,25.3"/></g>
<rect x="0" y="740" width="219" height="20" fill="#fff" fill-opacity="0.7"/>
<line x1="6" y1="750" x2="14" y2="750" stroke="#2993ae" stroke-width="2.4"/>
</svg>
<div class="t" style="left:20.2px;top:1.5px;color:#de5f66;">Medigene AG</div>
<div class="t" style="left:92.4px;top:1.5px;color:#de5f66;">O: 10,500</div>
<div class="t" style="left:146.2px;top:1.5px;color:#de5f66;">H: 10,525</div>
<div class="t" style="left:199.3px;top:1.5px;color:#de5f66;">L: 9,811</div>
<div class="t" style="left:243.7px;top:1.5px;color:#de5f66;">C: 10,015</div>
<div class="t" style="left:20.2px;top:18px;color:#444;">14.09.2015 - 18.05.2017</div>
<div class="t" style="left:147.2px;top:18px;color:#444;">(2 Jahre, 1 Tag)</div>
<div class="t" style="left:20px;top:744px;color:#2993ae;">MACD(12, 26, 9)</div>
<div class="t" style="left:108px;top:744px;color:#2993ae;">-0,341</div>
<div class="t" style="left:145px;top:744px;color:#4a4462;">-0,286</div>
<div class="t" style="left:182px;top:744px;color:#a8c4e6;">-0,055</div>
<div class="lb" style="left:466px;top:111px;width:70px">aus März'15</div>
<div class="lb" style="left:576px;top:266px;width:55px">aus 2003</div>
<div class="lb" style="left:360px;top:577px;width:61px">aus Okt'14</div>
<div class="lb" style="left:415px;top:670px;width:61px">aus Okt'14</div>
</div></body></html>
